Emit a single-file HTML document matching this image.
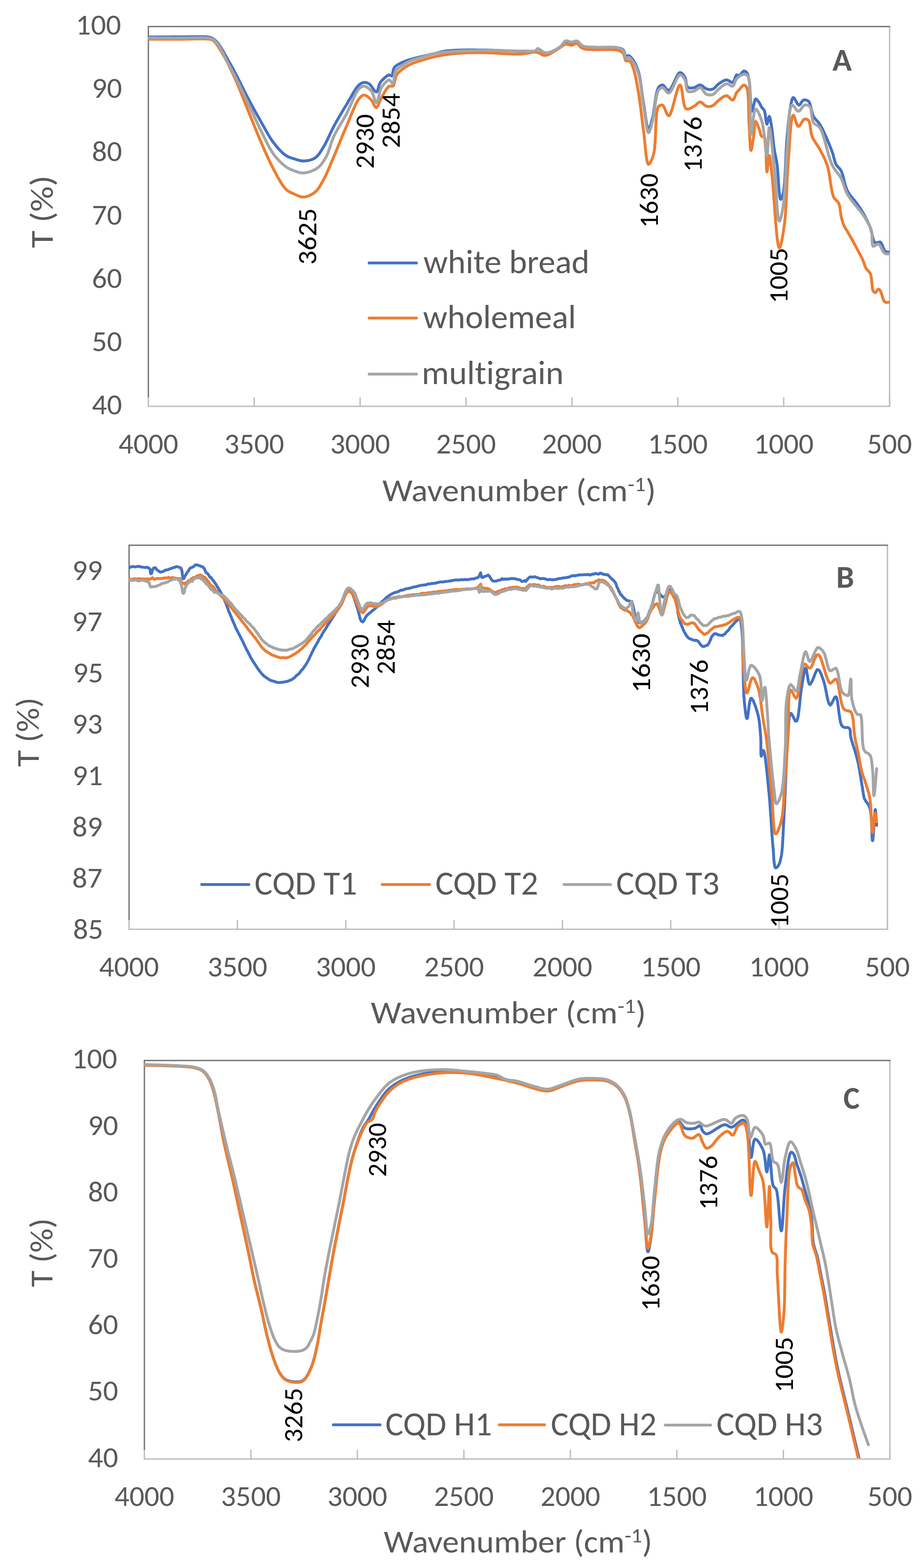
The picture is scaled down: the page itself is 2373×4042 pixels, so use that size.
<!DOCTYPE html>
<html><head><meta charset="utf-8"><title>FTIR spectra</title>
<style>html,body{margin:0;padding:0;background:#fff;}svg{display:block;}text{font-size-adjust:0.4775;font-variant-ligatures:none;font-feature-settings:'liga' 0,'clig' 0;}</style>
</head><body>
<svg width="2373" height="4042" viewBox="0 0 2373 4042" font-family="Carlito, 'Liberation Sans', sans-serif">
<rect x="0" y="0" width="2373" height="4042" fill="#fff"/>
<defs>
<clipPath id="clipA"><rect x="381.8" y="64.5" width="1910.7" height="981.0"/></clipPath>
<clipPath id="clipB"><rect x="332.1" y="1401.4" width="1954.9" height="992.0999999999999"/></clipPath>
<clipPath id="clipC"><rect x="371.5" y="2729.8" width="1921.8000000000002" height="1029.1999999999998"/></clipPath>
</defs>
<line x1="2292" y1="68.5" x2="2292" y2="1047.5" stroke="#BDBDBD" stroke-width="3.5"/>
<line x1="382.3" y1="68.5" x2="382.3" y2="1024.0" stroke="#767676" stroke-width="3.5"/>
<line x1="380.55" y1="68.5" x2="2293.75" y2="68.5" stroke="#767676" stroke-width="3.5"/>
<line x1="380.55" y1="1047.5" x2="2293.75" y2="1047.5" stroke="#BDBDBD" stroke-width="3.5"/>
<line x1="382.3" y1="1024.0" x2="382.3" y2="1047.5" stroke="#BDBDBD" stroke-width="3.5"/>
<line x1="655.1" y1="1024.0" x2="655.1" y2="1047.5" stroke="#BDBDBD" stroke-width="3.5"/>
<line x1="927.9" y1="1024.0" x2="927.9" y2="1047.5" stroke="#BDBDBD" stroke-width="3.5"/>
<line x1="1200.7" y1="1024.0" x2="1200.7" y2="1047.5" stroke="#BDBDBD" stroke-width="3.5"/>
<line x1="1473.6" y1="1024.0" x2="1473.6" y2="1047.5" stroke="#BDBDBD" stroke-width="3.5"/>
<line x1="1746.4" y1="1024.0" x2="1746.4" y2="1047.5" stroke="#BDBDBD" stroke-width="3.5"/>
<line x1="2019.2" y1="1024.0" x2="2019.2" y2="1047.5" stroke="#BDBDBD" stroke-width="3.5"/>
<line x1="2292" y1="1024.0" x2="2292" y2="1047.5" stroke="#BDBDBD" stroke-width="3.5"/>
<text x="314.5" y="1068" font-size="74.5" fill="#595959" text-anchor="end" textLength="77.8" lengthAdjust="spacingAndGlyphs">40</text>
<text x="314.5" y="904.8" font-size="74.5" fill="#595959" text-anchor="end" textLength="77.8" lengthAdjust="spacingAndGlyphs">50</text>
<text x="314.5" y="741.7" font-size="74.5" fill="#595959" text-anchor="end" textLength="77.8" lengthAdjust="spacingAndGlyphs">60</text>
<text x="314.5" y="578.5" font-size="74.5" fill="#595959" text-anchor="end" textLength="77.8" lengthAdjust="spacingAndGlyphs">70</text>
<text x="314.5" y="415.3" font-size="74.5" fill="#595959" text-anchor="end" textLength="77.8" lengthAdjust="spacingAndGlyphs">80</text>
<text x="314.5" y="252.2" font-size="74.5" fill="#595959" text-anchor="end" textLength="77.8" lengthAdjust="spacingAndGlyphs">90</text>
<text x="312" y="89" font-size="74.5" fill="#595959" text-anchor="end" textLength="116.7" lengthAdjust="spacingAndGlyphs">100</text>
<text x="382.3" y="1168.5" font-size="74.5" fill="#595959" text-anchor="middle" textLength="154.1" lengthAdjust="spacingAndGlyphs">4000</text>
<text x="655.1" y="1168.5" font-size="74.5" fill="#595959" text-anchor="middle" textLength="154.1" lengthAdjust="spacingAndGlyphs">3500</text>
<text x="927.9" y="1168.5" font-size="74.5" fill="#595959" text-anchor="middle" textLength="154.1" lengthAdjust="spacingAndGlyphs">3000</text>
<text x="1200.7" y="1168.5" font-size="74.5" fill="#595959" text-anchor="middle" textLength="154.1" lengthAdjust="spacingAndGlyphs">2500</text>
<text x="1473.6" y="1168.5" font-size="74.5" fill="#595959" text-anchor="middle" textLength="154.1" lengthAdjust="spacingAndGlyphs">2000</text>
<text x="1746.4" y="1168.5" font-size="74.5" fill="#595959" text-anchor="middle" textLength="154.1" lengthAdjust="spacingAndGlyphs">1500</text>
<text x="2019.2" y="1168.5" font-size="74.5" fill="#595959" text-anchor="middle" textLength="154.1" lengthAdjust="spacingAndGlyphs">1000</text>
<text x="2292" y="1168.5" font-size="74.5" fill="#595959" text-anchor="middle" textLength="115.5" lengthAdjust="spacingAndGlyphs">500</text>
<line x1="2286.5" y1="1405.4" x2="2286.5" y2="2395.5" stroke="#BDBDBD" stroke-width="3.5"/>
<line x1="332.6" y1="1405.4" x2="332.6" y2="2372.0" stroke="#767676" stroke-width="3.5"/>
<line x1="330.85" y1="1405.4" x2="2288.25" y2="1405.4" stroke="#767676" stroke-width="3.5"/>
<line x1="330.85" y1="2395.5" x2="2288.25" y2="2395.5" stroke="#BDBDBD" stroke-width="3.5"/>
<line x1="332.6" y1="2372.0" x2="332.6" y2="2395.5" stroke="#BDBDBD" stroke-width="3.5"/>
<line x1="611.7" y1="2372.0" x2="611.7" y2="2395.5" stroke="#BDBDBD" stroke-width="3.5"/>
<line x1="890.9" y1="2372.0" x2="890.9" y2="2395.5" stroke="#BDBDBD" stroke-width="3.5"/>
<line x1="1170" y1="2372.0" x2="1170" y2="2395.5" stroke="#BDBDBD" stroke-width="3.5"/>
<line x1="1449.1" y1="2372.0" x2="1449.1" y2="2395.5" stroke="#BDBDBD" stroke-width="3.5"/>
<line x1="1728.2" y1="2372.0" x2="1728.2" y2="2395.5" stroke="#BDBDBD" stroke-width="3.5"/>
<line x1="2007.4" y1="2372.0" x2="2007.4" y2="2395.5" stroke="#BDBDBD" stroke-width="3.5"/>
<line x1="2286.5" y1="2372.0" x2="2286.5" y2="2395.5" stroke="#BDBDBD" stroke-width="3.5"/>
<text x="266" y="2419.5" font-size="74.5" fill="#595959" text-anchor="end" textLength="77.8" lengthAdjust="spacingAndGlyphs">85</text>
<text x="263.9" y="2287.5" font-size="74.5" fill="#595959" text-anchor="end" textLength="77.8" lengthAdjust="spacingAndGlyphs">87</text>
<text x="264.1" y="2155.5" font-size="74.5" fill="#595959" text-anchor="end" textLength="77.8" lengthAdjust="spacingAndGlyphs">89</text>
<text x="264.9" y="2023.5" font-size="74.5" fill="#595959" text-anchor="end" textLength="77.8" lengthAdjust="spacingAndGlyphs">91</text>
<text x="264.4" y="1891.4" font-size="74.5" fill="#595959" text-anchor="end" textLength="77.8" lengthAdjust="spacingAndGlyphs">93</text>
<text x="266" y="1759.4" font-size="74.5" fill="#595959" text-anchor="end" textLength="77.8" lengthAdjust="spacingAndGlyphs">95</text>
<text x="263.9" y="1627.4" font-size="74.5" fill="#595959" text-anchor="end" textLength="77.8" lengthAdjust="spacingAndGlyphs">97</text>
<text x="264.1" y="1495.4" font-size="74.5" fill="#595959" text-anchor="end" textLength="77.8" lengthAdjust="spacingAndGlyphs">99</text>
<text x="332.6" y="2516.5" font-size="74.5" fill="#595959" text-anchor="middle" textLength="154.1" lengthAdjust="spacingAndGlyphs">4000</text>
<text x="611.7" y="2516.5" font-size="74.5" fill="#595959" text-anchor="middle" textLength="154.1" lengthAdjust="spacingAndGlyphs">3500</text>
<text x="890.9" y="2516.5" font-size="74.5" fill="#595959" text-anchor="middle" textLength="154.1" lengthAdjust="spacingAndGlyphs">3000</text>
<text x="1170" y="2516.5" font-size="74.5" fill="#595959" text-anchor="middle" textLength="154.1" lengthAdjust="spacingAndGlyphs">2500</text>
<text x="1449.1" y="2516.5" font-size="74.5" fill="#595959" text-anchor="middle" textLength="154.1" lengthAdjust="spacingAndGlyphs">2000</text>
<text x="1728.2" y="2516.5" font-size="74.5" fill="#595959" text-anchor="middle" textLength="154.1" lengthAdjust="spacingAndGlyphs">1500</text>
<text x="2007.4" y="2516.5" font-size="74.5" fill="#595959" text-anchor="middle" textLength="154.1" lengthAdjust="spacingAndGlyphs">1000</text>
<text x="2286.5" y="2516.5" font-size="74.5" fill="#595959" text-anchor="middle" textLength="115.5" lengthAdjust="spacingAndGlyphs">500</text>
<line x1="2292.8" y1="2733.8" x2="2292.8" y2="3761.0" stroke="#BDBDBD" stroke-width="3.5"/>
<line x1="372.0" y1="2733.8" x2="372.0" y2="3737.5" stroke="#767676" stroke-width="3.5"/>
<line x1="370.25" y1="2733.8" x2="2294.55" y2="2733.8" stroke="#767676" stroke-width="3.5"/>
<line x1="370.25" y1="3761.0" x2="2294.55" y2="3761.0" stroke="#BDBDBD" stroke-width="3.5"/>
<line x1="372" y1="3737.5" x2="372" y2="3761.0" stroke="#BDBDBD" stroke-width="3.5"/>
<line x1="646.4" y1="3737.5" x2="646.4" y2="3761.0" stroke="#BDBDBD" stroke-width="3.5"/>
<line x1="920.8" y1="3737.5" x2="920.8" y2="3761.0" stroke="#BDBDBD" stroke-width="3.5"/>
<line x1="1195.2" y1="3737.5" x2="1195.2" y2="3761.0" stroke="#BDBDBD" stroke-width="3.5"/>
<line x1="1469.6" y1="3737.5" x2="1469.6" y2="3761.0" stroke="#BDBDBD" stroke-width="3.5"/>
<line x1="1744" y1="3737.5" x2="1744" y2="3761.0" stroke="#BDBDBD" stroke-width="3.5"/>
<line x1="2018.4" y1="3737.5" x2="2018.4" y2="3761.0" stroke="#BDBDBD" stroke-width="3.5"/>
<line x1="2292.8" y1="3737.5" x2="2292.8" y2="3761.0" stroke="#BDBDBD" stroke-width="3.5"/>
<text x="304.5" y="3781.5" font-size="74.5" fill="#595959" text-anchor="end" textLength="77.8" lengthAdjust="spacingAndGlyphs">40</text>
<text x="304.5" y="3610.3" font-size="74.5" fill="#595959" text-anchor="end" textLength="77.8" lengthAdjust="spacingAndGlyphs">50</text>
<text x="304.5" y="3439.1" font-size="74.5" fill="#595959" text-anchor="end" textLength="77.8" lengthAdjust="spacingAndGlyphs">60</text>
<text x="304.5" y="3267.9" font-size="74.5" fill="#595959" text-anchor="end" textLength="77.8" lengthAdjust="spacingAndGlyphs">70</text>
<text x="304.5" y="3096.7" font-size="74.5" fill="#595959" text-anchor="end" textLength="77.8" lengthAdjust="spacingAndGlyphs">80</text>
<text x="304.5" y="2925.5" font-size="74.5" fill="#595959" text-anchor="end" textLength="77.8" lengthAdjust="spacingAndGlyphs">90</text>
<text x="302" y="2754.3" font-size="74.5" fill="#595959" text-anchor="end" textLength="116.7" lengthAdjust="spacingAndGlyphs">100</text>
<text x="372" y="3882" font-size="74.5" fill="#595959" text-anchor="middle" textLength="154.1" lengthAdjust="spacingAndGlyphs">4000</text>
<text x="646.4" y="3882" font-size="74.5" fill="#595959" text-anchor="middle" textLength="154.1" lengthAdjust="spacingAndGlyphs">3500</text>
<text x="920.8" y="3882" font-size="74.5" fill="#595959" text-anchor="middle" textLength="154.1" lengthAdjust="spacingAndGlyphs">3000</text>
<text x="1195.2" y="3882" font-size="74.5" fill="#595959" text-anchor="middle" textLength="154.1" lengthAdjust="spacingAndGlyphs">2500</text>
<text x="1469.6" y="3882" font-size="74.5" fill="#595959" text-anchor="middle" textLength="154.1" lengthAdjust="spacingAndGlyphs">2000</text>
<text x="1744" y="3882" font-size="74.5" fill="#595959" text-anchor="middle" textLength="154.1" lengthAdjust="spacingAndGlyphs">1500</text>
<text x="2018.4" y="3882" font-size="74.5" fill="#595959" text-anchor="middle" textLength="154.1" lengthAdjust="spacingAndGlyphs">1000</text>
<text x="2292.8" y="3882" font-size="74.5" fill="#595959" text-anchor="middle" textLength="115.5" lengthAdjust="spacingAndGlyphs">500</text>
<path d="M382 95.5 L382.4 95.5 L383.4 95.5 L385.2 95.5 L387.5 95.4 L390.3 95.4 L393.6 95.4 L397.4 95.4 L401.5 95.3 L406 95.3 L410.7 95.2 L415.7 95.2 L420.8 95.2 L426 95.1 L431.4 95.1 L436.7 95.1 L442 95 L447.2 95 L452.2 95 L457.1 95 L461.7 95 L466 95 L470 95 L474.4 95 L479 95 L483.7 94.9 L488.4 94.8 L493.2 94.8 L498 94.7 L502.7 94.6 L507.4 94.6 L511.9 94.5 L516.3 94.5 L520.6 94.6 L524.6 94.6 L528.3 94.8 L531.8 95 L534.9 95.2 L537.6 95.6 L540 96 L545.1 97.6 L549 100 L552.1 102.2 L555.4 104.9 L558.6 108.2 L562 112 L564 114.6 L566 117.5 L568.1 120.6 L570.2 124 L572.3 127.6 L574.5 131.3 L576.6 135.1 L578.7 138.9 L580.9 142.7 L582.9 146.4 L585 150 L587 153.5 L589 157 L591 160.5 L592.9 164 L594.9 167.5 L596.8 171.1 L598.8 174.6 L600.8 178.3 L602.8 182.1 L604.9 186 L607 190 L608.7 193.2 L610.4 196.5 L612.2 199.9 L613.9 203.4 L615.7 207 L617.5 210.6 L619.4 214.3 L621.2 218 L623.1 221.8 L625 225.5 L626.9 229.3 L628.7 233.1 L630.6 236.8 L632.5 240.5 L634.4 244.2 L636.3 247.9 L638.1 251.5 L640 255 L642 258.7 L644 262.4 L645.9 266.1 L647.9 269.8 L649.9 273.5 L651.9 277.1 L653.9 280.8 L655.9 284.4 L657.9 288 L659.9 291.6 L661.9 295.2 L663.9 298.7 L665.9 302.3 L667.9 305.9 L670 309.4 L672 313 L674 316.5 L676 320.1 L678 323.7 L680 327.3 L682 330.9 L684 334.5 L686.1 338.1 L688.1 341.7 L690.1 345.2 L692.2 348.7 L694.3 352.2 L696.3 355.5 L698.5 358.8 L700.6 362 L702.8 365 L705 368 L707.8 371.6 L710.6 375.1 L713.5 378.5 L716.4 381.9 L719.3 385.2 L722.3 388.3 L725.3 391.3 L728.2 394.1 L731.2 396.6 L734.1 398.9 L737 401 L740.9 403.3 L744.7 405.1 L748.5 406.5 L752.3 407.8 L756.2 408.9 L760 410 L764.3 411.4 L768.6 412.8 L773 414 L777.4 414.8 L782 415 L786.1 414.8 L790.5 414.3 L795 413.6 L799.6 412.5 L804 411 L808.2 409.2 L812 407 L814.9 404.8 L817.6 402.2 L820.2 399.3 L822.6 396.2 L824.9 392.8 L827.2 389.2 L829.4 385.6 L831.7 381.8 L834 378 L835.9 374.8 L837.8 371.5 L839.6 368 L841.4 364.4 L843.3 360.7 L845 356.9 L846.8 353.1 L848.6 349.2 L850.5 345.3 L852.3 341.4 L854.2 337.5 L856.1 333.6 L858 329.8 L860 326 L862 322.3 L864 318.7 L866.1 315 L868.1 311.3 L870.2 307.6 L872.4 303.9 L874.5 300.2 L876.7 296.6 L878.9 292.9 L881 289.2 L883.2 285.5 L885.4 281.9 L887.6 278.2 L889.8 274.6 L892 271 L894.2 267.4 L896.4 263.6 L898.6 259.6 L900.9 255.6 L903.2 251.6 L905.5 247.6 L907.8 243.6 L910.1 239.7 L912.3 236 L914.6 232.4 L916.8 229.1 L918.9 226 L921 223.3 L923 221 L925 219 L929.5 215.5 L933.7 213.4 L938 212.5 L942.3 212.6 L946.6 213.8 L951 216 L953.8 218.4 L956.7 222 L959.6 226.2 L962.5 230.3 L965.2 233.9 L967.7 236.3 L970 237 L972 235.4 L973.5 231.9 L974.8 227.1 L976.1 221.9 L977.8 216.7 L980 212.5 L982.7 209 L986.1 205.4 L989.7 201.8 L993.5 198.5 L997.1 195.8 L1000.3 193.9 L1003 193 L1006.3 194.7 L1009 196 L1010.6 193.7 L1011.7 189.2 L1012.7 183.7 L1014.1 178.3 L1016 174 L1018.9 170.9 L1022.2 168.4 L1026 166.2 L1030 164 L1033.5 162.2 L1037.3 160.5 L1041.2 158.8 L1045.4 157.2 L1050 155.6 L1055 154 L1058.2 153 L1061.8 152 L1065.6 150.9 L1069.6 149.9 L1073.8 148.8 L1078.1 147.7 L1082.5 146.6 L1087 145.6 L1091.4 144.5 L1095.9 143.5 L1100.3 142.5 L1104.6 141.5 L1108.8 140.6 L1112.7 139.7 L1116.5 138.8 L1120 138 L1124.4 136.9 L1128.4 135.9 L1132 134.9 L1135.6 134 L1139.2 133.2 L1143 132.4 L1147.2 131.6 L1152 131 L1155.1 130.7 L1158.3 130.4 L1161.7 130.1 L1165.3 129.9 L1169 129.7 L1172.8 129.5 L1176.8 129.3 L1180.8 129.2 L1185 129.1 L1189.2 129 L1193.5 128.9 L1197.9 128.9 L1202.3 128.8 L1206.7 128.8 L1211.2 128.8 L1215.6 128.8 L1220.1 128.8 L1224.5 128.8 L1228.9 128.9 L1233.3 128.9 L1237.6 128.9 L1241.8 128.9 L1246 129 L1250 129 L1254.2 129 L1258.5 129.1 L1262.8 129.2 L1267.1 129.3 L1271.4 129.5 L1275.8 129.6 L1280.2 129.8 L1284.5 130 L1288.9 130.2 L1293.2 130.3 L1297.5 130.5 L1301.7 130.7 L1305.9 130.9 L1310.1 131.1 L1314.2 131.3 L1318.2 131.4 L1322.1 131.6 L1325.9 131.7 L1329.6 131.8 L1333.2 131.9 L1336.7 132 L1340 132 L1344.8 132.1 L1349.7 132.2 L1354.4 132.4 L1359.1 132.5 L1363.5 132.6 L1367.6 132.6 L1371.4 132.5 L1374.8 132.2 L1377.7 131.7 L1380 131 L1382.7 128.2 L1385 126 L1388.1 126.8 L1391.9 129.4 L1396.1 132.6 L1400.6 135.5 L1405 137 L1409.5 137 L1414.2 136.2 L1418.9 134.8 L1423.6 132.9 L1428 131 L1432.1 128.9 L1436.2 126.4 L1440.1 123.6 L1443.7 120.8 L1447 118 L1450.5 113.7 L1453.4 109.2 L1457 106.4 L1460.6 106.3 L1464.7 107.5 L1469 109 L1473 109.7 L1477.4 108.6 L1481.7 106.8 L1486 106.4 L1489.1 107.9 L1492 110.7 L1495 114 L1498.2 117.1 L1502 119.4 L1505.4 120.5 L1509 121.3 L1512.9 121.8 L1517 122.1 L1521.3 122.3 L1525.8 122.4 L1530.3 122.5 L1535 122.7 L1538.7 122.8 L1542.8 122.9 L1547.1 122.8 L1551.6 122.8 L1556.2 122.6 L1560.9 122.5 L1565.6 122.4 L1570.3 122.2 L1574.7 122.2 L1579 122.2 L1583.1 122.3 L1586.8 122.5 L1590.1 122.8 L1593 123.3 L1598.3 124.6 L1602.5 126.3 L1606 129 L1608.2 133.1 L1609.8 138.5 L1611.2 143.4 L1613 146 L1615.8 144.6 L1619 143 L1622 144.5 L1625.4 147.6 L1628.8 151.7 L1632 156 L1634.1 159.3 L1636.2 162.8 L1638.1 166.6 L1639.9 170.7 L1641.7 175.1 L1643.4 179.9 L1645 185 L1645.9 188.1 L1646.7 191.4 L1647.5 194.8 L1648.2 198.5 L1648.9 202.2 L1649.6 206.2 L1650.2 210.2 L1650.8 214.3 L1651.4 218.6 L1652 222.8 L1652.6 227.1 L1653.2 231.5 L1653.7 235.8 L1654.3 240.2 L1654.9 244.5 L1655.5 248.8 L1656.1 253 L1656.7 257.1 L1657.3 261.1 L1658 265 L1658.7 269.4 L1659.5 274.1 L1660.2 279.1 L1660.9 284.2 L1661.7 289.5 L1662.4 294.8 L1663.1 300.1 L1663.9 305.2 L1664.6 310.2 L1665.4 314.8 L1666.2 319.1 L1666.9 323 L1667.7 326.3 L1668.5 329.1 L1669.3 331.2 L1670.2 332.5 L1671 333 L1672.4 332.1 L1673.8 329.6 L1675.2 325.8 L1676.7 321.1 L1678.1 315.8 L1679.6 310.3 L1681 305 L1681.8 301.8 L1682.6 298.3 L1683.3 294.4 L1684 290.2 L1684.7 285.8 L1685.4 281.1 L1686 276.4 L1686.7 271.6 L1687.4 266.7 L1688.1 261.8 L1688.8 257 L1689.5 252.3 L1690.3 247.8 L1691.1 243.5 L1692 239.4 L1692.8 235.7 L1693.8 232.4 L1694.8 229.4 L1695.9 226.9 L1697 225 L1701.8 220.3 L1707 219 L1710 220.7 L1713.1 224.4 L1716.3 228.6 L1719.6 231.9 L1723 233 L1725.1 232 L1727.3 229.7 L1729.6 226.4 L1731.9 222.2 L1734.2 217.5 L1736.6 212.4 L1738.9 207.3 L1741.3 202.2 L1743.6 197.5 L1745.8 193.4 L1748 190.2 L1750 187.9 L1752 187 L1755.6 188 L1759.1 191.2 L1762.3 195.5 L1765 200 L1766.5 203.9 L1767.5 208.5 L1768.1 213.5 L1768.9 218.3 L1770.1 222.3 L1772 225 L1775.4 226.6 L1779.5 227 L1783.8 226.7 L1788 226 L1792.1 224.4 L1796.1 222 L1800.1 219.8 L1804 219 L1808 220.5 L1812 223.5 L1815.9 226.7 L1820 229 L1824 230.1 L1828 230.8 L1832.1 230.8 L1836 230 L1839.3 228.2 L1842.4 225.4 L1845.5 222.1 L1848.6 218.8 L1852 216 L1855.8 213.4 L1859.8 210.8 L1864 208.5 L1868.1 206.7 L1872 206 L1876.3 207.1 L1880.5 209.8 L1884.5 212.1 L1888 212.5 L1890.5 209.9 L1892.5 205.3 L1894.3 200 L1896 195.4 L1898 193 L1900.9 193.9 L1904 195 L1907.1 192.8 L1910.5 188.9 L1913.9 184.9 L1917 183 L1920.7 184 L1924 187 L1926 190.3 L1927.5 194.7 L1928.8 199.9 L1930 206 L1930.5 209 L1931 212.5 L1931.4 216.6 L1931.8 221.1 L1932.1 226 L1932.4 231.1 L1932.7 236.5 L1933 242 L1933.3 247.5 L1933.6 252.9 L1933.9 258.3 L1934.1 263.4 L1934.4 268.2 L1934.7 272.7 L1935 276.7 L1935.4 280.1 L1935.7 283 L1936.1 285.1 L1936.5 286.5 L1937 287 L1938.2 285.3 L1939.4 281.1 L1940.7 275.8 L1942 271 L1943.1 266.3 L1944.2 261.2 L1945.4 257 L1947 255 L1949.8 256.4 L1953 260.3 L1956 264.5 L1958.5 268.8 L1960.7 273.4 L1963 277.5 L1966.1 280.5 L1969 284 L1970.1 287.1 L1971 291.3 L1971.8 296.4 L1972.5 301.8 L1973.2 307.2 L1973.8 312.1 L1974.5 316.2 L1975.2 319 L1976 320 L1977.2 318 L1978.4 313 L1979.6 307 L1980.9 302.1 L1982 300 L1983.1 301.3 L1984.1 304.6 L1985.1 309.2 L1986 314.6 L1987 320 L1987.5 323.1 L1988 326.4 L1988.6 330.1 L1989.1 334 L1989.5 338.1 L1990 342.4 L1990.5 346.8 L1991 351.2 L1991.5 355.8 L1992 360.3 L1992.4 364.7 L1992.9 369.1 L1993.4 373.4 L1993.9 377.5 L1994.5 381.4 L1995 385 L1995.7 389.6 L1996.5 393.8 L1997.3 397.8 L1998.1 401.7 L1998.9 405.5 L1999.7 409.5 L2000.5 413.6 L2001.2 418.1 L2002 423 L2002.5 426.5 L2002.9 430.5 L2003.3 434.8 L2003.7 439.6 L2004.1 444.6 L2004.5 449.8 L2004.9 455.2 L2005.2 460.7 L2005.6 466.2 L2006 471.7 L2006.4 477.2 L2006.8 482.5 L2007.1 487.6 L2007.5 492.4 L2008 496.9 L2008.4 501 L2008.9 504.6 L2009.3 507.8 L2009.8 510.3 L2010.4 512.3 L2010.9 513.5 L2011.5 514 L2013.1 512.8 L2014.8 509.2 L2016.5 504 L2018 498 L2018.5 495.9 L2018.9 493.5 L2019.3 490.9 L2019.7 488 L2020 485 L2020.4 481.7 L2020.7 478.3 L2021.1 474.7 L2021.4 470.9 L2021.7 467 L2021.9 462.9 L2022.2 458.7 L2022.5 454.4 L2022.7 450 L2023 445.5 L2023.2 440.9 L2023.4 436.3 L2023.6 431.6 L2023.9 426.8 L2024.1 422.1 L2024.3 417.3 L2024.5 412.5 L2024.7 407.7 L2024.9 403 L2025.1 398.2 L2025.4 393.6 L2025.6 388.9 L2025.8 384.4 L2026.1 379.9 L2026.3 375.6 L2026.6 371.3 L2026.8 367.1 L2027.1 363.1 L2027.4 359.3 L2027.7 355.5 L2028 352 L2028.4 347.3 L2028.9 342.7 L2029.3 338 L2029.7 333.4 L2030.1 328.8 L2030.6 324.2 L2031 319.6 L2031.5 315.2 L2031.9 310.8 L2032.4 306.5 L2032.8 302.3 L2033.3 298.2 L2033.8 294.2 L2034.3 290.4 L2034.8 286.7 L2035.3 283.2 L2035.8 279.9 L2036.4 276.7 L2036.9 273.8 L2037.5 271 L2038.6 265.6 L2039.7 260.5 L2040.9 256 L2042.3 252.9 L2044 251.5 L2046 252.7 L2048.3 256.3 L2050.9 261 L2053.5 265.7 L2056.1 269.5 L2058.6 271 L2061.4 269.2 L2064.1 265.1 L2066.9 260.7 L2070 258 L2074.3 257.5 L2078.9 258.5 L2083 261 L2084.8 263.2 L2086.3 266.3 L2087.6 270 L2088.7 274.2 L2089.8 278.8 L2090.8 283.4 L2091.9 288.1 L2093.1 292.5 L2094.4 296.5 L2096 300 L2098.4 303.8 L2101 307.1 L2103.8 310.2 L2106.6 313.2 L2109.4 316.4 L2112 320 L2114.2 323.5 L2116.2 327.2 L2118.3 331.1 L2120.2 335.1 L2122.2 339.2 L2124.1 343.4 L2126.1 347.7 L2128 352 L2129.6 355.6 L2131.2 359.3 L2132.9 363.2 L2134.5 367.1 L2136.2 371 L2137.8 375 L2139.4 379 L2140.9 382.9 L2142.3 386.7 L2143.7 390.4 L2145 394 L2146.5 398.5 L2147.7 403.1 L2148.8 407.5 L2149.9 411.8 L2151 416 L2152.4 419.9 L2154 423.5 L2156.3 427.1 L2158.9 430 L2161.7 432.9 L2164.5 436 L2167 440 L2168.4 443 L2169.7 446.4 L2170.9 450.1 L2172 454.1 L2173.1 458.3 L2174.2 462.7 L2175.3 467.1 L2176.4 471.6 L2177.6 476 L2178.9 480.3 L2180.3 484.4 L2181.8 488.4 L2183.5 492 L2185.7 496 L2188.1 499.8 L2190.7 503.4 L2193.5 507 L2196.3 510.5 L2199.1 513.8 L2201.9 517.2 L2204.6 520.5 L2207.1 523.7 L2209.5 527 L2212.1 530.8 L2214.6 534.5 L2217 538.1 L2219.3 541.7 L2221.6 545.4 L2223.8 549.1 L2226 553 L2227.9 556.4 L2229.8 559.9 L2231.6 563.5 L2233.5 567.1 L2235.3 570.8 L2237 574.5 L2238.7 578.3 L2240.4 582.1 L2242 586 L2243.4 590.1 L2244.7 594.6 L2245.8 599.4 L2246.9 604.3 L2247.9 609.2 L2249.1 613.8 L2250.3 618 L2251.6 621.5 L2253.2 624.2 L2255 626 L2259.1 626.1 L2263.8 624.2 L2268 624 L2270.5 626.5 L2272.6 630.6 L2274.6 635.6 L2276.5 640.7 L2278.6 645.1 L2281 648 L2287.7 649.9 L2292 650" fill="none" stroke="#4472C4" stroke-width="7.4" stroke-linejoin="round" stroke-linecap="round" clip-path="url(#clipA)"/>
<path d="M382 101 L382.4 101 L383.4 101 L385.2 101 L387.5 101 L390.3 101 L393.6 101 L397.4 101 L401.5 101 L406 101 L410.7 101 L415.7 101 L420.8 101 L426 101 L431.4 101 L436.7 101 L442 101 L447.2 101 L452.2 101 L457.1 101 L461.7 101 L466 101 L470 101 L474.4 101 L479 100.9 L483.7 100.8 L488.4 100.7 L493.2 100.6 L498 100.5 L502.7 100.4 L507.4 100.3 L511.9 100.2 L516.3 100.2 L520.5 100.1 L524.5 100.1 L528.3 100.2 L531.7 100.3 L534.9 100.5 L537.6 100.7 L540 101 L544.9 101.9 L549 104 L551 105.7 L553.2 108 L555.5 110.7 L557.8 113.8 L560.3 117.3 L562.7 121 L565.2 124.9 L567.7 128.9 L570.2 132.9 L572.6 137 L575 141 L576.8 144.1 L578.6 147.3 L580.4 150.6 L582.2 153.9 L584 157.4 L585.8 160.9 L587.6 164.4 L589.4 168 L591.2 171.7 L593 175.4 L594.7 179.2 L596.5 183 L598.3 186.8 L600 190.6 L601.8 194.5 L603.5 198.3 L605.3 202.2 L607 206 L608.6 209.6 L610.2 213.3 L611.8 217.1 L613.4 220.8 L615 224.6 L616.6 228.5 L618.2 232.3 L619.8 236.2 L621.3 240.1 L622.9 244 L624.4 247.9 L626 251.9 L627.6 255.8 L629.1 259.7 L630.7 263.7 L632.2 267.6 L633.8 271.5 L635.3 275.4 L636.9 279.3 L638.4 283.2 L640 287 L641.5 290.8 L643.1 294.5 L644.6 298.3 L646.1 302 L647.6 305.8 L649.1 309.5 L650.6 313.3 L652.1 317 L653.6 320.7 L655.1 324.5 L656.6 328.2 L658.2 331.9 L659.7 335.7 L661.2 339.4 L662.7 343.1 L664.2 346.7 L665.8 350.4 L667.3 354.1 L668.9 357.7 L670.4 361.4 L672 365 L673.7 368.9 L675.4 372.8 L677.1 376.6 L678.7 380.5 L680.4 384.4 L682.1 388.3 L683.8 392.2 L685.6 396.1 L687.3 399.9 L689 403.8 L690.7 407.6 L692.5 411.3 L694.2 415.1 L696 418.8 L697.8 422.4 L699.6 426 L701.4 429.6 L703.2 433.1 L705 436.5 L707 440.3 L709.1 444.2 L711.2 448.1 L713.2 452 L715.3 455.9 L717.4 459.7 L719.5 463.5 L721.7 467.1 L723.8 470.7 L726 474.1 L728.1 477.3 L730.3 480.3 L732.5 483.1 L734.8 485.7 L737 488 L740.7 491.2 L744.5 493.8 L748.4 495.9 L752.2 497.7 L756.1 499.4 L760 501 L764.4 503 L768.8 505 L773.3 506.6 L777.8 507.8 L782.5 508 L786.1 507.6 L789.8 506.7 L793.7 505.5 L797.6 503.9 L801.5 502 L805.2 499.9 L808.7 497.5 L812 495 L814.9 492.3 L817.7 489.3 L820.2 486 L822.6 482.5 L824.9 478.8 L827.2 474.9 L829.4 470.9 L831.7 466.7 L834 462.5 L835.7 459.4 L837.3 456.2 L839 452.8 L840.6 449.4 L842.2 445.9 L843.8 442.3 L845.4 438.7 L847 435 L848.6 431.2 L850.2 427.4 L851.8 423.6 L853.4 419.7 L855 415.8 L856.7 411.9 L858.3 407.9 L860 404 L861.5 400.5 L863 397 L864.5 393.4 L866 389.8 L867.5 386.1 L869 382.4 L870.6 378.7 L872.1 374.9 L873.7 371.2 L875.2 367.4 L876.8 363.6 L878.3 359.8 L879.9 355.9 L881.5 352.1 L883 348.3 L884.6 344.5 L886.2 340.8 L887.8 337 L889.3 333.3 L890.9 329.6 L892.5 326 L894.2 322.1 L895.9 318 L897.6 313.8 L899.4 309.5 L901.1 305.2 L902.9 300.9 L904.6 296.5 L906.4 292.2 L908.1 287.9 L909.9 283.7 L911.6 279.7 L913.4 275.8 L915.1 272 L916.8 268.5 L918.5 265.1 L920.2 262.1 L921.8 259.3 L923.4 256.8 L925 254.7 L928.3 250.8 L931.4 247.8 L934.6 245.8 L938 245 L941.7 245.8 L945.7 248 L949.7 251 L953.6 254.6 L957 258 L959.8 262.1 L962.3 267.2 L964.5 272.2 L966.7 276 L969 277.5 L970.9 276.5 L972.9 273.8 L974.8 270 L976.7 265.4 L978.7 260.5 L980.8 255.7 L983 251.5 L985.3 247.6 L987.7 243.3 L990.2 238.8 L992.8 234.4 L995.4 230.3 L998 226.7 L1000.6 223.8 L1003 222 L1008 222.1 L1012.5 222 L1014.3 219.7 L1015.7 216 L1016.8 211.5 L1017.9 206.4 L1019 201.4 L1020.3 196.7 L1022 193 L1024.8 189.1 L1027.9 185.9 L1031.3 183 L1035 180 L1038.5 177.2 L1042.2 174.6 L1046.1 172 L1050.4 169.4 L1055 167 L1058.4 165.4 L1062 163.9 L1065.8 162.4 L1069.9 160.9 L1074 159.5 L1078.2 158.1 L1082.4 156.8 L1086.7 155.5 L1090.9 154.2 L1095 153 L1099 151.8 L1103 150.7 L1107 149.6 L1111 148.5 L1115 147.5 L1119.1 146.5 L1123.2 145.6 L1127.4 144.7 L1131.6 143.8 L1136 143 L1139.9 142.3 L1143.8 141.7 L1147.9 141.1 L1151.9 140.6 L1156.1 140.1 L1160.2 139.6 L1164.4 139.1 L1168.6 138.7 L1172.9 138.3 L1177.2 137.9 L1181.4 137.6 L1185.7 137.3 L1190 137 L1193.9 136.8 L1197.7 136.6 L1201.6 136.4 L1205.4 136.3 L1209.3 136.1 L1213.2 136 L1217.1 136 L1221 135.9 L1225 135.9 L1229 135.9 L1233 135.9 L1237.2 135.9 L1241.4 135.9 L1245.6 136 L1250 136 L1253.7 136.1 L1257.6 136.2 L1261.6 136.3 L1265.7 136.5 L1269.9 136.7 L1274.2 136.9 L1278.5 137.2 L1282.8 137.4 L1287.2 137.7 L1291.6 138 L1296 138.2 L1300.4 138.5 L1304.7 138.7 L1309 138.9 L1313.3 139.1 L1317.4 139.3 L1321.5 139.5 L1325.5 139.6 L1329.3 139.6 L1333 139.6 L1336.6 139.6 L1340 139.5 L1344.9 139.2 L1349.6 138.6 L1354.2 137.9 L1358.6 137.1 L1362.8 136.3 L1366.9 135.6 L1370.9 134.9 L1374.7 134.5 L1378.4 134.4 L1382 134.6 L1386.2 135.6 L1390 137.3 L1393.6 139.3 L1397.2 141.2 L1400.9 142.5 L1405 142.8 L1408.5 142.2 L1412.3 140.9 L1416.4 139.1 L1420.7 136.9 L1425 134.4 L1429.2 131.7 L1433.4 129 L1437.3 126.3 L1441 123.9 L1444.2 121.7 L1447 120 L1452.2 116.1 L1457 113.6 L1460.7 113.8 L1464.8 115 L1469 116.3 L1473 116.8 L1477.5 115.2 L1481.7 112.8 L1486 112 L1488.9 113.4 L1491.5 116 L1494.3 119.3 L1497.7 122.5 L1502 125 L1504.6 125.8 L1507.7 126.5 L1511.1 127 L1515 127.4 L1519.1 127.7 L1523.5 127.9 L1528.1 128 L1532.9 128.1 L1537.8 128.1 L1542.8 128 L1547.9 128 L1552.9 127.9 L1557.9 127.8 L1562.8 127.8 L1567.6 127.7 L1572.1 127.8 L1576.5 127.9 L1580.5 128 L1584.2 128.3 L1587.6 128.7 L1590.5 129.2 L1593 129.8 L1598.6 132 L1602.7 134.6 L1606 138 L1607.8 141.5 L1609 146 L1610 150.5 L1611.2 154.5 L1613 157 L1617.4 157 L1622 157 L1624.4 159.2 L1626.4 162.6 L1628.4 166.9 L1630.2 171.8 L1632 177 L1633 180.1 L1634 183.3 L1634.9 186.8 L1635.9 190.5 L1636.8 194.4 L1637.7 198.4 L1638.5 202.5 L1639.4 206.8 L1640.2 211.2 L1641 215.6 L1641.8 220.1 L1642.6 224.7 L1643.4 229.3 L1644.2 233.9 L1645 238.5 L1645.6 242.1 L1646.2 245.8 L1646.8 249.6 L1647.4 253.5 L1647.9 257.4 L1648.5 261.4 L1649 265.4 L1649.6 269.5 L1650.1 273.6 L1650.6 277.8 L1651.2 282 L1651.7 286.2 L1652.2 290.4 L1652.7 294.6 L1653.2 298.8 L1653.7 303.1 L1654.3 307.3 L1654.8 311.5 L1655.3 315.6 L1655.8 319.8 L1656.4 323.9 L1656.9 328 L1657.4 332 L1658 336 L1658.6 340.2 L1659.1 344.8 L1659.6 349.5 L1660.2 354.5 L1660.7 359.6 L1661.2 364.8 L1661.7 370 L1662.2 375.3 L1662.7 380.5 L1663.2 385.6 L1663.7 390.6 L1664.2 395.4 L1664.8 400 L1665.3 404.3 L1665.9 408.3 L1666.5 411.9 L1667.2 415.2 L1667.9 417.9 L1668.6 420.2 L1669.4 421.9 L1670.2 423 L1671 423.5 L1672.7 422.9 L1674.5 420.8 L1676.5 417.4 L1678.5 413.1 L1680.5 408.2 L1682.3 402.9 L1684 397.5 L1684.7 394.8 L1685.3 391.8 L1685.9 388.5 L1686.4 384.9 L1686.8 381 L1687.2 376.9 L1687.5 372.5 L1687.9 368 L1688.1 363.3 L1688.4 358.4 L1688.6 353.5 L1688.9 348.5 L1689.1 343.4 L1689.3 338.3 L1689.5 333.2 L1689.7 328.1 L1689.9 323.1 L1690.1 318.2 L1690.4 313.4 L1690.7 308.7 L1691 304.2 L1691.3 299.8 L1691.7 295.7 L1692.2 291.9 L1692.7 288.3 L1693.2 285 L1693.8 282 L1694.5 279.4 L1695.3 277.2 L1696.1 275.4 L1697 274 L1701.9 270.7 L1707 271 L1709.4 273.3 L1711.7 277.5 L1713.9 283 L1716.1 288.6 L1718.4 293.7 L1720.7 297.3 L1723 298.6 L1724.3 298 L1725.7 296.4 L1727.1 293.9 L1728.5 290.7 L1729.9 286.8 L1731.4 282.4 L1732.8 277.5 L1734.3 272.3 L1735.8 266.8 L1737.2 261.2 L1738.7 255.5 L1740.2 249.9 L1741.6 244.5 L1743 239.3 L1744.4 234.5 L1745.8 230.1 L1747.1 226.4 L1748.4 223.3 L1749.7 220.9 L1750.9 219.5 L1752 219 L1753.3 219.8 L1754.4 221.9 L1755.4 225.1 L1756.3 229.2 L1757.1 234 L1757.9 239.4 L1758.6 245.1 L1759.4 251 L1760.3 256.9 L1761.2 262.5 L1762.2 267.8 L1763.4 272.4 L1764.7 276.2 L1766.3 279 L1768 280.7 L1771.6 281.4 L1775.6 280.5 L1779.9 278.5 L1784.1 276.2 L1788 274 L1792.2 271 L1796.2 267.3 L1800.1 264.1 L1804 262.8 L1808 264.3 L1811.9 267.8 L1815.9 271.6 L1820 274 L1823.9 274.7 L1828 274.6 L1832.1 273.9 L1836 272.6 L1839.4 270.5 L1842.6 267.6 L1845.8 264.3 L1849.1 260.9 L1852.5 258 L1856.3 255.1 L1860.2 252 L1864.2 249.2 L1868.2 247.3 L1872 246.6 L1876.3 248.6 L1880.5 252.8 L1884.5 256.7 L1888 258 L1890.5 256 L1892.5 252 L1894.4 247 L1896.2 242.2 L1898 238.5 L1900.9 235.1 L1904 232 L1907 228.5 L1910.4 224.2 L1913.9 220.6 L1917 219 L1920.8 220.7 L1924 225.5 L1924.7 227.4 L1925.4 229.7 L1926 232.4 L1926.5 235.4 L1926.9 238.8 L1927.3 242.5 L1927.6 246.4 L1927.9 250.6 L1928.1 255 L1928.3 259.5 L1928.5 264.2 L1928.6 269 L1928.7 273.8 L1928.8 278.7 L1928.9 283.6 L1929 288.5 L1929.1 293.4 L1929.2 298.2 L1929.3 302.8 L1929.4 307.3 L1929.6 311.7 L1929.8 315.8 L1930 319.7 L1930.3 324.2 L1930.6 329 L1930.8 334.1 L1931.1 339.3 L1931.3 344.7 L1931.6 350 L1931.8 355.3 L1932.1 360.4 L1932.3 365.3 L1932.6 370 L1932.9 374.2 L1933.2 378 L1933.5 381.3 L1933.8 384 L1934.2 386.1 L1934.6 387.3 L1935 387.8 L1935.6 387 L1936.4 384.7 L1937.1 381.3 L1937.9 376.9 L1938.7 372 L1939.5 366.7 L1940.3 361.5 L1941 356.4 L1941.7 352 L1942.3 347.3 L1942.8 342 L1943.2 336.4 L1943.5 330.7 L1943.9 325.3 L1944.4 320.5 L1945 316.7 L1945.7 314.1 L1946.6 313 L1948.2 314.3 L1950.1 317.8 L1952.2 322.7 L1954.2 328 L1956 332.6 L1957.5 336.9 L1958.7 341.5 L1959.9 346 L1961.3 349.7 L1963 352 L1966 351.9 L1969 352 L1969.9 353.3 L1970.6 355.5 L1971.3 358.5 L1971.8 362.2 L1972.3 366.5 L1972.7 371.3 L1973.1 376.5 L1973.4 382.1 L1973.6 387.9 L1973.8 393.8 L1974 399.8 L1974.1 405.7 L1974.3 411.6 L1974.4 417.2 L1974.5 422.5 L1974.6 427.4 L1974.8 431.7 L1975 435.5 L1975.1 438.7 L1975.4 441 L1975.7 442.5 L1976 443 L1976.6 441.8 L1977.1 438.6 L1977.7 433.9 L1978.3 428.2 L1978.9 421.9 L1979.5 415.7 L1980.1 409.9 L1980.8 405.2 L1981.4 402 L1982 400.8 L1982.5 401.3 L1983.1 402.9 L1983.6 405.4 L1984.2 408.6 L1984.7 412.6 L1985.3 417.1 L1985.8 422 L1986.4 427.3 L1987 432.8 L1987.5 438.4 L1988.2 444 L1988.8 449.5 L1989.1 452.3 L1989.5 455.5 L1989.8 458.8 L1990.1 462.5 L1990.5 466.3 L1990.8 470.3 L1991.2 474.6 L1991.6 479 L1991.9 483.6 L1992.3 488.3 L1992.7 493.2 L1993 498.2 L1993.4 503.3 L1993.8 508.6 L1994.2 513.8 L1994.6 519.2 L1995 524.6 L1995.4 530.1 L1995.8 535.5 L1996.2 541 L1996.6 546.5 L1997 551.9 L1997.4 557.3 L1997.8 562.7 L1998.3 568 L1998.7 573.2 L1999.1 578.3 L1999.5 583.4 L2000 588.3 L2000.4 593 L2000.8 597.6 L2001.3 602.1 L2001.7 606.3 L2002.1 610.4 L2002.6 614.3 L2003 617.9 L2003.5 621.3 L2003.9 624.4 L2004.4 627.3 L2004.8 629.9 L2005.3 632.2 L2005.7 634.2 L2006.2 635.9 L2006.6 637.2 L2007.1 638.2 L2007.5 638.8 L2008 639 L2008.8 638.6 L2009.7 637.3 L2010.6 635.3 L2011.5 632.5 L2012.4 629.1 L2013.3 625.2 L2014.3 620.8 L2015.2 616.1 L2016.1 611 L2017 605.7 L2017.9 600.3 L2018.7 594.9 L2019.5 589.4 L2020.3 584.1 L2021 579 L2021.4 575.9 L2021.8 572.7 L2022.2 569.3 L2022.5 565.9 L2022.9 562.4 L2023.2 558.8 L2023.5 555.1 L2023.8 551.3 L2024.1 547.5 L2024.3 543.5 L2024.6 539.5 L2024.8 535.5 L2025.1 531.4 L2025.3 527.2 L2025.5 523 L2025.7 518.8 L2025.9 514.5 L2026.1 510.2 L2026.3 505.8 L2026.5 501.5 L2026.7 497.1 L2026.9 492.7 L2027.1 488.3 L2027.3 483.9 L2027.5 479.5 L2027.6 475.1 L2027.8 470.7 L2028 466.3 L2028.2 462 L2028.4 457.6 L2028.7 453.4 L2028.9 449.1 L2029.1 444.9 L2029.3 440.7 L2029.6 436.6 L2029.8 432.6 L2030.1 428.6 L2030.4 424.6 L2030.7 420.8 L2031 417 L2031.4 412.6 L2031.7 408 L2032.1 403.2 L2032.4 398.3 L2032.7 393.2 L2033.1 388.1 L2033.4 382.9 L2033.8 377.6 L2034.1 372.3 L2034.4 367 L2034.8 361.7 L2035.1 356.5 L2035.5 351.3 L2035.9 346.2 L2036.2 341.3 L2036.6 336.5 L2037 331.8 L2037.4 327.3 L2037.9 323.1 L2038.3 319 L2038.8 315.3 L2039.3 311.8 L2039.8 308.6 L2040.3 305.8 L2040.8 303.3 L2041.4 301.2 L2042 299.5 L2042.7 298.2 L2043.3 297.4 L2044 297 L2045.6 298.4 L2047.2 302.4 L2049 308 L2050.8 314.1 L2052.8 319.8 L2054.8 324.1 L2057 326 L2059.4 324.9 L2062 321.6 L2064.8 317.1 L2067.6 312.5 L2070.3 308.7 L2073 306.7 L2078.2 306.9 L2083 310 L2084.5 312.3 L2085.6 315.5 L2086.6 319.4 L2087.3 323.8 L2088 328.5 L2088.6 333.5 L2089.3 338.5 L2090.2 343.3 L2091.2 347.9 L2092.6 352 L2094.3 355.9 L2096.3 359.6 L2098.4 363.2 L2100.6 366.7 L2102.9 370.1 L2105.3 373.6 L2107.6 377.1 L2109.9 380.8 L2112 384.6 L2113.9 388.1 L2115.8 391.7 L2117.7 395.2 L2119.5 398.8 L2121.4 402.4 L2123.2 406.2 L2125 410 L2126.8 414 L2128.4 418.1 L2130.1 422.3 L2131.6 426.8 L2132.7 430.3 L2133.6 434.1 L2134.5 438.1 L2135.4 442.3 L2136.2 446.6 L2136.9 451.1 L2137.7 455.7 L2138.3 460.4 L2139 465.1 L2139.7 469.7 L2140.4 474.3 L2141 478.9 L2141.8 483.3 L2142.5 487.6 L2143.3 491.6 L2144.1 495.5 L2144.9 499.1 L2145.9 502.4 L2146.9 505.4 L2148 508 L2150.5 512.1 L2153.3 515.1 L2156.1 517.7 L2158.8 520.5 L2161 524 L2162.3 527.3 L2163.3 531 L2164 535.1 L2164.7 539.3 L2165.2 543.7 L2165.7 548 L2166.3 552.3 L2166.9 556.3 L2167.7 560 L2169 564.9 L2170.3 569.5 L2171.7 573.9 L2173.2 578.2 L2175 582.4 L2176.9 586.2 L2178.9 589.6 L2181.1 593 L2183.5 596.7 L2186 601 L2187.7 604 L2189.6 607.4 L2191.6 611 L2193.8 614.9 L2196 618.9 L2198.2 623 L2200.5 627.1 L2202.7 631.3 L2204.9 635.3 L2207 639.2 L2209 643 L2210.9 646.5 L2212.6 649.7 L2214.8 653.9 L2216.9 657.8 L2218.7 661.5 L2220.5 665 L2222.2 668.5 L2223.8 672 L2225.3 675.9 L2226.6 679.9 L2227.9 683.7 L2229.3 687.5 L2231 691 L2233.7 694.7 L2236.8 697.9 L2239.9 701.4 L2242.5 705.8 L2243.6 709.1 L2244.5 713 L2245.2 717.5 L2245.7 722.3 L2246.2 727.3 L2246.6 732.2 L2247.1 737 L2247.6 741.4 L2248.2 745.3 L2249 748.4 L2250 750.7 L2252.7 753.6 L2255.6 754.4 L2259.3 749.6 L2263 745 L2265.9 746.7 L2268.7 750.7 L2270.2 753.8 L2271.6 758.1 L2273 762.9 L2274.5 767.9 L2276.1 772.6 L2277.9 776.3 L2280 778.7 L2284.6 779.7 L2289.6 779.2 L2292 778.7" fill="none" stroke="#ED7D31" stroke-width="7.4" stroke-linejoin="round" stroke-linecap="round" clip-path="url(#clipA)"/>
<path d="M382 98 L382.4 98 L383.4 98 L385.2 98 L387.5 98 L390.3 98 L393.6 98 L397.4 98 L401.5 98 L406 98 L410.7 98 L415.7 98 L420.8 98 L426 98 L431.4 98 L436.7 98 L442 98 L447.2 98 L452.2 98 L457.1 98 L461.7 98 L466 98 L470 98 L474.4 98 L479 98 L483.7 97.9 L488.4 97.8 L493.2 97.7 L498 97.6 L502.7 97.5 L507.4 97.4 L511.9 97.4 L516.3 97.3 L520.5 97.3 L524.5 97.4 L528.3 97.5 L531.7 97.6 L534.9 97.8 L537.6 98.1 L540 98.5 L545.1 99.8 L549 102 L552.2 104.3 L555.4 107.3 L558.7 110.8 L562 115 L563.8 117.6 L565.7 120.6 L567.6 123.9 L569.5 127.3 L571.5 131 L573.4 134.8 L575.4 138.7 L577.3 142.7 L579.2 146.6 L581.2 150.5 L583.1 154.3 L585 158 L587 161.8 L589 165.5 L590.9 169.2 L592.9 172.9 L594.8 176.5 L596.8 180.2 L598.8 184 L600.8 187.8 L602.8 191.7 L604.9 195.8 L607 200 L608.7 203.4 L610.4 206.8 L612.2 210.4 L614 214 L615.8 217.7 L617.6 221.4 L619.5 225.2 L621.3 229.1 L623.2 232.9 L625.1 236.8 L627 240.8 L628.9 244.7 L630.7 248.6 L632.6 252.6 L634.5 256.5 L636.3 260.3 L638.2 264.2 L640 268 L641.8 271.8 L643.6 275.6 L645.4 279.4 L647.1 283.2 L648.9 287 L650.6 290.8 L652.4 294.6 L654.2 298.4 L655.9 302.3 L657.7 306.1 L659.4 309.9 L661.2 313.6 L663 317.4 L664.8 321.2 L666.5 324.9 L668.3 328.6 L670.2 332.3 L672 336 L673.9 339.8 L675.7 343.6 L677.6 347.4 L679.5 351.2 L681.3 355.1 L683.2 358.9 L685.1 362.8 L687 366.6 L688.9 370.3 L690.8 374.1 L692.7 377.7 L694.7 381.3 L696.7 384.7 L698.7 388.1 L700.8 391.4 L702.9 394.5 L705 397.5 L707.7 401.1 L710.5 404.6 L713.4 408 L716.3 411.3 L719.3 414.5 L722.3 417.5 L725.3 420.3 L728.2 423 L731.2 425.5 L734.1 427.9 L737 430 L740.9 432.6 L744.7 434.7 L748.5 436.6 L752.3 438.2 L756.2 439.6 L760 441 L764.3 442.5 L768.5 444 L772.8 445.2 L777.3 445.9 L782 446 L785.7 445.6 L789.7 444.9 L793.9 443.9 L798.2 442.6 L802.5 441.1 L806.7 439.4 L810.7 437.4 L814.5 435.3 L818 433 L821.4 430.3 L824.5 427.4 L827.4 424.2 L830.1 420.7 L832.7 417.1 L835.2 413.2 L837.6 409.2 L840 405 L841.7 401.8 L843.2 398.5 L844.7 395 L846.1 391.3 L847.4 387.5 L848.7 383.7 L849.9 379.8 L851.2 375.8 L852.5 371.8 L853.8 367.8 L855.2 363.7 L856.7 359.8 L858.3 355.8 L860 352 L861.7 348.4 L863.5 344.8 L865.4 341.2 L867.4 337.6 L869.4 334.1 L871.4 330.5 L873.5 326.9 L875.6 323.3 L877.8 319.7 L879.9 316.1 L882.1 312.4 L884.2 308.8 L886.3 305.1 L888.4 301.4 L890.5 297.7 L892.5 294 L894.4 290.4 L896.2 286.6 L898.1 282.6 L899.9 278.5 L901.8 274.4 L903.6 270.1 L905.5 265.9 L907.3 261.7 L909.2 257.5 L911 253.5 L912.8 249.5 L914.6 245.8 L916.4 242.2 L918.1 238.9 L919.9 235.9 L921.6 233.3 L923.3 230.9 L925 229 L929.3 225.1 L933.6 222.7 L938 222 L941.7 222.9 L945.7 224.9 L949.8 227.9 L953.6 231.3 L957 235 L959.1 238.4 L961 242.7 L962.7 247.6 L964.2 252.6 L965.7 257.2 L967.1 261 L968.5 263.6 L970 264.5 L971.3 263.6 L972.5 261.3 L973.6 257.9 L974.7 253.6 L975.8 248.7 L977 243.6 L978.2 238.4 L979.6 233.5 L981.2 229.1 L983 225.5 L985.9 221.1 L989.3 216.7 L993 212.6 L996.6 209.1 L1000 206.8 L1003 206 L1006.6 208.8 L1009.8 213.7 L1012.5 216 L1013.7 214.6 L1014.5 211.7 L1015 207.5 L1015.4 202.6 L1015.9 197.3 L1016.6 192.2 L1017.5 187.6 L1019 184 L1021.5 180.5 L1024.6 177.5 L1027.9 174.9 L1031.5 172.5 L1035 170 L1038.7 167.4 L1042.4 164.9 L1046.2 162.5 L1050.4 160.2 L1055 158 L1058.4 156.5 L1062 155.1 L1065.9 153.7 L1069.9 152.4 L1074 151.1 L1078.2 149.8 L1082.5 148.5 L1086.7 147.3 L1090.9 146.1 L1095 145 L1099 143.9 L1102.8 142.8 L1106.6 141.7 L1110.3 140.7 L1114.1 139.7 L1118 138.8 L1122.1 137.9 L1126.4 137 L1131 136.2 L1136 135.5 L1139.1 135.1 L1142.4 134.7 L1145.8 134.3 L1149.4 134 L1153 133.7 L1156.8 133.4 L1160.7 133.1 L1164.7 132.8 L1168.8 132.5 L1173 132.3 L1177.2 132.1 L1181.5 131.9 L1185.8 131.7 L1190.2 131.5 L1194.6 131.3 L1199 131.2 L1203.5 131 L1207.9 130.9 L1212.3 130.8 L1216.7 130.7 L1221.1 130.6 L1225.4 130.5 L1229.7 130.4 L1233.9 130.3 L1238.1 130.2 L1242.1 130.1 L1246.1 130.1 L1250 130 L1254.3 129.9 L1258.7 129.9 L1263.1 129.9 L1267.5 130 L1271.8 130 L1276.2 130.1 L1280.6 130.1 L1284.9 130.2 L1289.2 130.4 L1293.5 130.5 L1297.8 130.6 L1302 130.7 L1306.1 130.8 L1310.2 130.9 L1314.2 131.1 L1318.2 131.2 L1322.1 131.2 L1325.8 131.3 L1329.5 131.4 L1333.1 131.4 L1336.6 131.4 L1340 131.4 L1345.1 131.4 L1350.2 131.5 L1355.3 131.7 L1360.3 131.8 L1365.1 131.9 L1369.5 131.9 L1373.5 131.8 L1377 131.4 L1379.9 130.9 L1382 130 L1383.6 127.2 L1385 125 L1387.8 125.7 L1391.5 128.2 L1395.9 131.5 L1400.5 134.4 L1405 136 L1409.5 136 L1414.2 135.2 L1418.9 133.8 L1423.6 131.9 L1428 130 L1432.1 127.9 L1436.2 125.4 L1440.1 122.6 L1443.7 119.8 L1447 117 L1450.5 112.7 L1453.4 108.2 L1457 105.4 L1460.6 105.3 L1464.7 106.5 L1469 108 L1473 108.7 L1477.4 107.6 L1481.7 105.8 L1486 105.4 L1489.1 106.9 L1492 109.7 L1495 113 L1498.2 116.1 L1502 118.4 L1505.4 119.5 L1509 120.3 L1512.9 120.8 L1517 121.1 L1521.3 121.2 L1525.8 121.3 L1530.3 121.5 L1535 121.7 L1538.7 121.9 L1542.8 121.9 L1547.1 121.9 L1551.6 121.8 L1556.3 121.7 L1561 121.6 L1565.7 121.5 L1570.3 121.5 L1574.8 121.5 L1579.1 121.6 L1583.1 121.8 L1586.8 122.1 L1590.1 122.6 L1593 123.3 L1598.4 125.3 L1602.6 127.9 L1606 131.4 L1607.9 135.1 L1609.2 140 L1610.3 145 L1611.5 149 L1613 151 L1615.8 149.4 L1619 147.6 L1622 149 L1625.4 152.2 L1628.8 156.3 L1632 160.6 L1633.9 163.5 L1635.7 166.6 L1637.4 169.9 L1639 173.4 L1640.6 177.2 L1642.1 181.2 L1643.6 185.4 L1645 190 L1645.9 193.1 L1646.7 196.4 L1647.5 199.9 L1648.2 203.6 L1648.9 207.4 L1649.6 211.4 L1650.2 215.5 L1650.8 219.6 L1651.5 223.9 L1652 228.2 L1652.6 232.6 L1653.2 237 L1653.8 241.4 L1654.3 245.8 L1654.9 250.2 L1655.5 254.5 L1656.1 258.7 L1656.7 262.9 L1657.3 267 L1658 271 L1658.7 275.3 L1659.4 279.9 L1660.1 284.7 L1660.8 289.8 L1661.5 295 L1662.2 300.2 L1662.9 305.4 L1663.6 310.6 L1664.3 315.5 L1665 320.3 L1665.7 324.8 L1666.4 328.9 L1667.2 332.5 L1667.9 335.7 L1668.7 338.3 L1669.4 340.3 L1670.2 341.5 L1671 342 L1672.4 341.1 L1673.8 338.5 L1675.2 334.5 L1676.7 329.6 L1678.1 324.1 L1679.6 318.5 L1681 313 L1681.8 309.8 L1682.6 306.2 L1683.3 302.2 L1684 298 L1684.7 293.5 L1685.4 288.8 L1686 284 L1686.7 279.1 L1687.4 274.2 L1688.1 269.3 L1688.8 264.5 L1689.5 259.7 L1690.3 255.2 L1691.1 250.8 L1692 246.7 L1692.9 242.9 L1693.8 239.5 L1694.8 236.5 L1695.9 234 L1697 232 L1701.8 227 L1707 225.5 L1710 227.2 L1713.1 231 L1716.3 235.4 L1719.6 238.8 L1723 240 L1725.1 239 L1727.3 236.6 L1729.6 233.2 L1731.9 229 L1734.2 224.2 L1736.6 219 L1738.9 213.7 L1741.3 208.6 L1743.5 203.8 L1745.8 199.6 L1747.9 196.2 L1750 194 L1752 193 L1755.6 194 L1759.1 197.1 L1762.3 201.5 L1765 206 L1766.4 209.7 L1767.3 214.2 L1767.8 219.2 L1768.4 224.2 L1769.1 228.7 L1770.2 232.5 L1772 235 L1775.4 236.5 L1779.5 236.7 L1783.9 236 L1788 235 L1792.1 232.8 L1796.2 229.4 L1800.2 226.5 L1804 225.5 L1807.3 227.4 L1810.4 231.2 L1813.4 235.9 L1816.6 240.2 L1820 243 L1823.9 244.4 L1828 245 L1832.1 244.9 L1836 244 L1839.4 242.1 L1842.7 239.2 L1845.8 235.7 L1849.1 232.1 L1852.5 229 L1856.2 225.9 L1860.2 222.6 L1864.1 219.5 L1868.1 217.2 L1872 216 L1876.2 216.9 L1880.5 219.4 L1884.5 221.7 L1888 222 L1890.4 219.8 L1892.2 216 L1893.8 211.4 L1895.6 206.7 L1898 203 L1901.3 199.9 L1905.2 196.8 L1909.4 194.2 L1913.4 192.3 L1917 191.5 L1922.4 192.1 L1927 196 L1927.8 197.5 L1928.5 199.4 L1929.2 201.9 L1929.8 204.7 L1930.3 208 L1930.8 211.7 L1931.2 215.6 L1931.5 220 L1931.9 224.5 L1932.1 229.4 L1932.4 234.4 L1932.5 239.7 L1932.7 245.1 L1932.8 250.7 L1932.9 256.3 L1933 262.1 L1933 267.8 L1933.1 273.6 L1933.1 279.4 L1933.1 285.1 L1933.1 290.8 L1933.1 296.3 L1933.1 301.7 L1933.1 306.9 L1933.1 312 L1933.1 316.8 L1933.2 321.3 L1933.2 325.6 L1933.3 329.5 L1933.4 333.1 L1933.5 336.3 L1933.7 339.1 L1933.9 341.5 L1934.1 343.4 L1934.3 344.8 L1934.6 345.7 L1935 346 L1935.6 345.3 L1936.2 343.3 L1936.8 340.1 L1937.4 336 L1938 331.2 L1938.6 325.7 L1939.3 319.9 L1940 313.9 L1940.7 307.8 L1941.4 302 L1942.2 296.5 L1943.1 291.5 L1944 287.3 L1944.9 284 L1945.9 281.9 L1947 281 L1948.8 281.6 L1950.7 283.8 L1952.8 287.2 L1955 291.6 L1957.2 296.7 L1959.3 302.1 L1961.2 307.7 L1963 313 L1963.9 316.2 L1964.8 319.9 L1965.6 324.1 L1966.4 328.6 L1967.1 333.4 L1967.8 338.5 L1968.5 343.7 L1969.1 349 L1969.7 354.5 L1970.3 359.8 L1970.9 365.2 L1971.4 370.4 L1971.9 375.3 L1972.4 380.1 L1972.9 384.5 L1973.3 388.5 L1973.8 392.1 L1974.2 395.1 L1974.7 397.6 L1975.1 399.5 L1975.6 400.6 L1976 401 L1976.5 400.3 L1976.9 398.5 L1977.3 395.6 L1977.6 391.9 L1977.9 387.4 L1978.2 382.3 L1978.5 376.8 L1978.8 371 L1979.1 365 L1979.3 359 L1979.6 353.2 L1979.9 347.7 L1980.2 342.6 L1980.5 338.1 L1980.8 334.3 L1981.2 331.5 L1981.6 329.6 L1982 329 L1982.4 329.3 L1982.8 330.1 L1983.2 331.5 L1983.7 333.4 L1984.1 335.7 L1984.6 338.5 L1985.1 341.6 L1985.6 345.2 L1986.1 349 L1986.6 353.2 L1987.1 357.6 L1987.7 362.2 L1988.2 367.1 L1988.7 372.1 L1989.3 377.2 L1989.8 382.5 L1990.4 387.8 L1990.9 393.1 L1991.4 398.4 L1992 403.7 L1992.5 409 L1993 414.1 L1993.5 419.1 L1994 424 L1994.5 428.6 L1995 433 L1995.4 436.9 L1995.8 441 L1996.2 445.4 L1996.6 449.9 L1997 454.6 L1997.3 459.5 L1997.7 464.5 L1998 469.7 L1998.4 474.9 L1998.8 480.2 L1999.1 485.5 L1999.5 490.9 L1999.8 496.2 L2000.1 501.6 L2000.5 506.9 L2000.8 512.1 L2001.2 517.3 L2001.5 522.3 L2001.9 527.2 L2002.2 532 L2002.6 536.6 L2003 540.9 L2003.3 545.1 L2003.7 549 L2004.1 552.7 L2004.5 556 L2004.9 559.1 L2005.3 561.8 L2005.7 564.2 L2006.2 566.2 L2006.6 567.8 L2007.1 569 L2007.5 569.7 L2008 570 L2008.9 569.4 L2009.9 567.7 L2010.9 565 L2012 561.4 L2013.1 557.1 L2014.1 552.3 L2015.2 547.1 L2016.2 541.7 L2017.1 536.3 L2018 531 L2018.4 528.2 L2018.8 525.2 L2019.2 522.1 L2019.6 518.8 L2020 515.4 L2020.3 511.9 L2020.6 508.3 L2020.9 504.5 L2021.2 500.7 L2021.5 496.7 L2021.8 492.7 L2022 488.6 L2022.3 484.4 L2022.5 480.2 L2022.8 475.9 L2023 471.6 L2023.2 467.2 L2023.4 462.7 L2023.7 458.3 L2023.9 453.8 L2024.1 449.3 L2024.3 444.8 L2024.5 440.3 L2024.7 435.8 L2025 431.3 L2025.2 426.8 L2025.4 422.4 L2025.7 418 L2025.9 413.7 L2026.2 409.4 L2026.5 405.1 L2026.7 400.9 L2027 396.8 L2027.3 392.8 L2027.7 388.9 L2028 385 L2028.4 380.6 L2028.7 375.9 L2029.1 371.1 L2029.4 366.1 L2029.7 361.1 L2030 355.9 L2030.2 350.6 L2030.5 345.3 L2030.8 340 L2031 334.7 L2031.3 329.4 L2031.6 324.2 L2031.9 319.1 L2032.3 314.1 L2032.6 309.3 L2033 304.6 L2033.4 300.1 L2033.8 295.8 L2034.3 291.8 L2034.8 288 L2035.4 284.6 L2036 281.4 L2036.7 278.7 L2037.4 276.3 L2038.2 274.3 L2039.1 272.7 L2040 271.6 L2041 271 L2043.8 272.1 L2046.9 276 L2050.3 280.9 L2053.7 285.2 L2057 287 L2060.2 285.5 L2063.3 281.8 L2066.5 277.3 L2069.7 273.3 L2073 271 L2077.5 270.5 L2082 271.4 L2086 274 L2087.6 276.4 L2088.9 279.8 L2089.8 284 L2090.5 288.7 L2091.1 293.8 L2091.7 298.9 L2092.4 303.9 L2093.3 308.6 L2094.4 312.7 L2096 316 L2098.7 319.1 L2101.9 321.2 L2105.3 323.1 L2108.7 325.4 L2112 329 L2113.4 331.2 L2114.8 333.8 L2116.1 336.7 L2117.5 339.9 L2118.8 343.4 L2120.1 347.2 L2121.4 351.1 L2122.7 355.3 L2124 359.6 L2125.3 364.1 L2126.6 368.6 L2127.9 373.3 L2129.2 377.9 L2130.4 382.6 L2131.7 387.3 L2133 392 L2134.3 396.5 L2135.6 401 L2136.9 405.3 L2138.2 409.5 L2139.6 413.5 L2140.9 417.3 L2142.2 420.8 L2143.6 424.1 L2145 427 L2147.4 431.5 L2149.9 435.4 L2152.5 439 L2155 442.3 L2157.6 445.5 L2160.1 448.6 L2162.5 451.8 L2164.8 455.3 L2167 459 L2168.7 462.5 L2170.2 466.1 L2171.6 469.8 L2172.9 473.6 L2174.1 477.4 L2175.4 481.3 L2176.7 485.2 L2178.1 489.2 L2179.7 493.1 L2181.4 497.1 L2183.5 501 L2185.4 504.2 L2187.5 507.5 L2189.8 510.9 L2192.3 514.2 L2194.9 517.7 L2197.6 521.1 L2200.4 524.6 L2203.2 528 L2206.1 531.5 L2208.9 534.9 L2211.7 538.3 L2214.4 541.6 L2217.1 544.9 L2219.5 548 L2221.9 551.1 L2224.1 554.1 L2226 557 L2228.6 561.1 L2231 565.1 L2233.3 569 L2235.4 572.8 L2237.3 576.4 L2239.1 579.9 L2240.6 583.1 L2242 586 L2244.3 591.3 L2246 597 L2246.5 600.5 L2246.8 605 L2246.8 610.1 L2246.9 615.5 L2247 620.9 L2247.2 625.9 L2247.8 630.1 L2248.6 633.3 L2250 635 L2253.8 633.9 L2258.4 630.4 L2263 629 L2265.5 630.7 L2267.9 634 L2270.3 638.3 L2272.7 643 L2275 647.5 L2277.5 651.2 L2280 653.5 L2284.8 654.6 L2289.7 654.3 L2292 654" fill="none" stroke="#A5A5A5" stroke-width="7.4" stroke-linejoin="round" stroke-linecap="round" clip-path="url(#clipA)"/>
<path d="M333 1463.4 L333.8 1463.6 L335.9 1461.9 L339.2 1460.9 L343.3 1460.4 L348.2 1461.5 L353.5 1460.3 L359.1 1459.9 L364.7 1461.9 L370 1462.1 L375 1463.1 L379.3 1462.2 L382.7 1464.2 L385 1465.3 L387.1 1468.4 L387.5 1476.2 L388.4 1478.8 L390.3 1478.7 L392.6 1470.9 L395.2 1464.9 L398 1463.6 L400.7 1463.8 L403.6 1468.2 L406.9 1470.7 L411 1473.8 L414.1 1474.9 L417.9 1474 L422.2 1472.2 L426.8 1469.3 L431.6 1469.1 L436.5 1466.7 L441.3 1465.5 L445.8 1463.2 L450 1462.8 L453.6 1460.7 L456.6 1460.8 L462.2 1462.7 L466.3 1464.2 L467.9 1468.6 L469.1 1473.7 L469.9 1482.2 L470.6 1485.4 L471.5 1490.4 L472.8 1492.1 L474.8 1489.4 L477.1 1483.7 L479.6 1481 L482.5 1474.8 L485.3 1472.4 L488.3 1466.3 L491.5 1463.6 L495 1462.5 L498.8 1460.6 L503.1 1456.5 L508 1456.1 L513 1457.9 L517.7 1459.8 L521.5 1460.8 L524.5 1463.6 L526.6 1465.7 L528.6 1471.5 L531.2 1476.4 L533.3 1477.5 L535.6 1479.3 L538.2 1483.1 L540.9 1488 L543.8 1488.5 L546.6 1493.7 L549.4 1496.1 L552.2 1500.5 L554.8 1503.9 L557.2 1507.6 L559.4 1512.7 L561.6 1514.7 L563.7 1518.7 L565.7 1521.6 L567.7 1525.1 L569.6 1529.1 L571.5 1531.3 L573.3 1536.1 L575 1539.8 L576.7 1542.7 L578.5 1547.6 L580.3 1551.1 L581.9 1554.3 L583.4 1559.3 L584.9 1563 L586.4 1567.3 L588 1571.5 L589.7 1576.4 L591.2 1579.6 L592.8 1583.4 L594.4 1587.5 L596 1590.5 L597.6 1595.8 L599.2 1598.8 L600.9 1603.4 L602.5 1606.6 L604.2 1610.5 L605.9 1614.5 L607.6 1619.3 L609.3 1622.3 L611 1625.1 L612.7 1628.7 L614.4 1631.7 L616.2 1635.7 L618.1 1639.1 L620 1643.5 L622.1 1646.6 L623.7 1650.2 L625.4 1653.3 L627.1 1656.8 L628.8 1661.1 L630.6 1664.5 L632.5 1668.5 L634.4 1672.6 L636.3 1676.5 L638.2 1679.3 L640.2 1684 L642.2 1686.8 L644.2 1691.4 L646.3 1696 L648.4 1698.7 L650.4 1702.2 L652.5 1705.8 L654.6 1708.9 L657.1 1712.7 L659.6 1716.1 L662.2 1720.6 L664.7 1724.2 L667.3 1727.3 L669.9 1731 L672.6 1734.5 L675.3 1737.8 L678.1 1740.5 L681 1743.4 L683.9 1745.4 L687 1747.3 L690.7 1749.9 L694.5 1752.6 L698.5 1754.4 L702.6 1755.5 L706.7 1756.5 L710.8 1757.9 L714.9 1759.3 L718.8 1759.6 L722.7 1758.9 L727 1759.1 L731.3 1758 L735.5 1757.3 L739.7 1756.7 L743.8 1755 L747.9 1753.6 L751.9 1751.6 L755 1749.4 L758.2 1747.4 L761.3 1744 L764.4 1741 L767.4 1738.8 L770.4 1736.7 L773.4 1732.4 L776.3 1728.4 L779.1 1725.6 L781.8 1722.7 L784.4 1718.1 L786.7 1715.7 L788.9 1711.6 L790.9 1708.9 L792.9 1705.1 L794.8 1701.2 L796.7 1698.1 L798.5 1693.2 L800.3 1689.2 L802.1 1686.4 L804 1681.3 L805.9 1678.7 L807.9 1673.8 L810 1669.5 L811.9 1666.6 L813.8 1663.3 L815.8 1659.9 L817.8 1656.2 L819.8 1653.3 L821.8 1648.3 L823.8 1645.6 L825.9 1642.3 L828 1639.7 L830 1634.5 L832.1 1631.8 L834.2 1627.9 L836.3 1624.7 L838.4 1621.8 L840.4 1618.3 L842.5 1615.3 L844.7 1610.9 L846.9 1607.8 L849.1 1604.7 L851.3 1601.1 L853.6 1597 L855.8 1594.2 L858.1 1589.8 L860.3 1587.6 L862.5 1583.4 L864.7 1579.8 L866.9 1576.6 L869 1573.4 L871.1 1570.4 L873.1 1566.1 L875 1562.6 L877.1 1558.9 L879.2 1553.7 L881.3 1548.5 L883.3 1544.7 L885.2 1539.2 L887.1 1535 L889 1529.6 L890.8 1524.7 L892.6 1522.7 L894.3 1520 L896 1518.8 L897.6 1517.6 L900.2 1518.6 L902.7 1521.9 L905.1 1525.8 L907.4 1530.4 L909 1532.9 L910.5 1537.2 L911.9 1540.5 L913.4 1544.7 L914.8 1549.4 L916.2 1553.8 L917.6 1557.2 L919 1562.8 L920.4 1565.7 L921.8 1570.9 L923.2 1576 L924.5 1581.1 L925.9 1586.5 L927.2 1592.3 L928.6 1596.5 L930.1 1600 L931.6 1601.5 L933.3 1603.1 L935.6 1602.8 L938.1 1599 L940.6 1593.9 L943.3 1589.2 L946.3 1585.4 L949.3 1582.9 L952.5 1580 L956 1577.6 L959.4 1574.1 L962.7 1572.3 L965.8 1569.1 L969.2 1565.9 L972.2 1563.7 L975.3 1559.8 L978.8 1556.2 L981.5 1553.6 L984.5 1550.6 L987.5 1548.5 L990.8 1545.3 L994.1 1542 L997.6 1538.8 L1001.1 1536.5 L1004.7 1533.6 L1008.4 1531.7 L1012.1 1529.8 L1015.9 1527.9 L1019.8 1527.1 L1023.8 1525.7 L1028.1 1524.1 L1032.5 1521.2 L1037.2 1521.4 L1040.6 1519.9 L1044.2 1518.4 L1047.9 1517.5 L1051.8 1517.1 L1055.7 1516.1 L1059.8 1515 L1063.9 1513.7 L1068.1 1512.8 L1072.4 1512.2 L1076.6 1510.9 L1080.9 1509.7 L1085.2 1508.9 L1089.5 1508.3 L1093.7 1507.7 L1097.9 1507.8 L1102 1505.4 L1106 1505.5 L1110.1 1504.5 L1114.2 1504 L1118.2 1503.8 L1122.3 1503.1 L1126.3 1501.9 L1130.4 1501.1 L1134.5 1500.1 L1138.5 1500.1 L1142.6 1500.2 L1146.7 1498.9 L1150.7 1498.8 L1154.8 1498.3 L1158.9 1497.6 L1162.9 1497.3 L1167 1496.2 L1171.2 1495.4 L1175.6 1494.8 L1180.2 1495.4 L1184.9 1494.6 L1189.7 1494.3 L1194.4 1494.6 L1199.2 1493.6 L1203.9 1494.5 L1208.4 1493.6 L1212.8 1492.7 L1216.9 1492.2 L1220.7 1492.4 L1224.1 1490.7 L1227.2 1490.1 L1229.9 1489.4 L1232 1488.3 L1235.3 1483.9 L1237 1479.2 L1238.4 1476.6 L1239.6 1482 L1241.7 1488.8 L1244.9 1488.3 L1249.2 1485.7 L1253.8 1484.5 L1257.9 1482.4 L1261.3 1486 L1264.3 1490.7 L1267.3 1495.5 L1270.9 1498 L1275.1 1498.1 L1279.7 1497.6 L1284.7 1495.7 L1290 1495 L1293.6 1491.5 L1297.5 1493.8 L1301.6 1492.2 L1305.7 1493.2 L1309.9 1492.5 L1314.2 1492.2 L1318.4 1491 L1322.5 1491.8 L1326.7 1491.6 L1331.1 1493.1 L1335.6 1494.2 L1340.1 1494.9 L1344.4 1498.7 L1348.4 1498.5 L1352 1496.4 L1355 1498.7 L1358.4 1493.9 L1360.9 1491 L1364.7 1487.7 L1367.4 1487.1 L1370.7 1487.6 L1374.5 1487.3 L1378.6 1486.8 L1383.1 1488.8 L1387.8 1490 L1392.6 1492.2 L1397.5 1491.2 L1402.4 1491.5 L1407.1 1493 L1411.6 1494.6 L1415.9 1493.7 L1419.8 1494 L1424.3 1494.9 L1428.5 1494 L1432.6 1493.7 L1436.6 1492.3 L1440.5 1491.4 L1444.4 1491 L1448.3 1490.4 L1452.3 1489.5 L1456.4 1489.4 L1460.4 1488.7 L1464.4 1487.8 L1468.5 1486.8 L1472.5 1484.7 L1476.6 1483.6 L1480.6 1484.6 L1484.7 1483.3 L1488.8 1483 L1492.8 1481.6 L1496.9 1482.2 L1501 1481.7 L1505.1 1481.5 L1509.2 1481.6 L1513.2 1480.6 L1517.2 1481.8 L1521.5 1482.3 L1525.8 1480 L1530.2 1480 L1534.4 1478.2 L1538.6 1479.3 L1542.6 1480 L1546.4 1477.3 L1550.6 1478.6 L1554.7 1480.7 L1558.6 1480.7 L1562.3 1481.7 L1565.9 1481.5 L1569.5 1485.3 L1572.8 1488.8 L1576.1 1492.2 L1579.1 1494.8 L1582.1 1497.4 L1584.1 1500.3 L1586 1502.7 L1587.7 1507.1 L1589.4 1513 L1591.1 1515.9 L1592.7 1518.8 L1594.5 1525 L1596.3 1525.8 L1598.3 1531.5 L1601.4 1534 L1604.6 1538.2 L1607.9 1541.8 L1611.3 1544.3 L1614.6 1547.7 L1619.1 1548.7 L1623.5 1549.9 L1627.5 1552.5 L1629.1 1554.4 L1630.5 1558.6 L1631.7 1564.2 L1632.7 1568.7 L1633.6 1574.1 L1634.5 1580.3 L1635.4 1583.4 L1636.3 1587.9 L1637.4 1590.4 L1638.6 1595 L1640 1600 L1643.1 1602.5 L1646.4 1604.7 L1650 1606.3 L1654.3 1603.3 L1658.8 1601.4 L1663 1597.2 L1664.9 1594.1 L1666.8 1592.8 L1668.5 1589.3 L1670.2 1584.7 L1671.8 1580.9 L1673.4 1575.7 L1675 1572.3 L1676.5 1568.1 L1678 1564.4 L1679.5 1560.5 L1681 1555.7 L1682.3 1550.6 L1683.5 1545.3 L1684.6 1540.5 L1685.8 1536.6 L1687.1 1532.4 L1688.5 1528.7 L1690.1 1527.2 L1692 1525.4 L1695.2 1526.1 L1698.9 1529.8 L1702.7 1534.7 L1706.5 1538 L1710 1539.4 L1712.7 1538.5 L1715.3 1534.2 L1717.7 1529.7 L1720.1 1525.9 L1722.5 1521.4 L1725 1520.8 L1728.3 1521 L1731.8 1525 L1735 1528.8 L1738 1532.5 L1739.2 1537 L1740.3 1539.2 L1741.2 1541.6 L1742 1546.7 L1742.8 1550.7 L1743.5 1554.1 L1744.1 1559 L1744.8 1564.2 L1745.4 1569.3 L1746 1573.8 L1746.6 1578.4 L1747.3 1582.9 L1748.1 1585.1 L1749 1590.4 L1749.9 1594.9 L1751 1596.9 L1752.4 1603.3 L1753.9 1607.7 L1755.5 1611 L1757.2 1615.5 L1758.9 1619.3 L1760.6 1623.9 L1762.4 1627.7 L1764.3 1631.2 L1766.2 1633.9 L1768.1 1637.7 L1770 1639.8 L1773.3 1644.1 L1776.8 1646.4 L1780.4 1647.5 L1784 1649.1 L1788.7 1650.8 L1793.6 1650.5 L1798 1652.3 L1800.9 1655.6 L1803.4 1659.5 L1805.8 1662.6 L1808.7 1665.4 L1813.1 1666.9 L1818 1664.6 L1822.7 1663.3 L1825 1660.1 L1827.2 1657 L1829.2 1652 L1831.2 1648 L1833.2 1641.8 L1835.3 1639.5 L1837.7 1636.8 L1840.3 1634 L1844.1 1633.5 L1848.4 1635.2 L1852.8 1637 L1857.2 1637.7 L1861.4 1638.4 L1864.6 1635.5 L1867.8 1634.7 L1870.9 1630.1 L1874 1627 L1877.1 1624.5 L1880.1 1619.4 L1883.1 1615.5 L1886 1613.4 L1889.5 1609.2 L1893.1 1605 L1896.7 1601.3 L1900 1598.1 L1903 1595.8 L1905.4 1595.4 L1907.1 1597.8 L1908.3 1599.7 L1909.1 1604.3 L1909.7 1608.1 L1910.3 1614.4 L1911 1619.5 L1911.3 1622.1 L1911.5 1625 L1911.8 1627.2 L1912 1629.5 L1912.2 1633.1 L1912.4 1636.5 L1912.6 1640.2 L1912.8 1643.2 L1913 1647.2 L1913.1 1651.2 L1913.3 1654.6 L1913.4 1659.3 L1913.5 1663.3 L1913.7 1668.1 L1913.8 1672.3 L1913.9 1676.9 L1914 1680.6 L1914.1 1686.2 L1914.2 1690.8 L1914.3 1695.4 L1914.4 1700.4 L1914.4 1704.9 L1914.5 1710.4 L1914.6 1715.4 L1914.7 1720.3 L1914.8 1724.8 L1914.9 1730.5 L1915 1735 L1915 1739.1 L1915.1 1744.2 L1915.2 1748.3 L1915.3 1753.6 L1915.5 1758.5 L1915.6 1763.2 L1915.7 1766.9 L1915.8 1770.7 L1916 1775.5 L1916.1 1780.2 L1916.3 1783.6 L1916.4 1787.9 L1916.6 1791.4 L1916.8 1795.2 L1917 1798.1 L1917.2 1800.8 L1917.5 1804.2 L1917.7 1807.8 L1918.2 1812.3 L1918.8 1817.5 L1919.4 1824.8 L1920 1829.7 L1920.6 1834.6 L1921.2 1839.4 L1921.9 1843.3 L1922.5 1847.7 L1923.2 1850.2 L1924 1851.6 L1924.7 1852.3 L1925.4 1851.5 L1926.1 1849.6 L1926.8 1845.4 L1927.4 1841.3 L1928.1 1834.9 L1928.9 1829.1 L1929.6 1823.1 L1930.4 1817.1 L1931.3 1811.8 L1932.2 1807.5 L1933.2 1803.7 L1934.2 1800.3 L1935.3 1800.2 L1936.7 1800.3 L1938.2 1802.6 L1939.8 1804.6 L1941.6 1808 L1943.3 1812.9 L1945.1 1817.5 L1946.9 1822.1 L1948.6 1827.5 L1950.2 1832.7 L1951.6 1837.6 L1952.8 1841.3 L1953.7 1845.3 L1954.6 1849.8 L1955.3 1853.9 L1956 1857.7 L1956.6 1861.4 L1957.1 1866.9 L1957.5 1870.5 L1957.9 1874.5 L1958.3 1879.8 L1958.7 1883.9 L1959 1888.1 L1959.3 1892.2 L1959.6 1896.2 L1959.9 1899.6 L1960.2 1904.6 L1960.3 1909.7 L1960.4 1915.1 L1960.4 1920.4 L1960.4 1925.2 L1960.4 1930.6 L1960.4 1935.6 L1960.4 1940 L1960.6 1943.4 L1960.8 1945.9 L1961.1 1948 L1961.6 1949.3 L1963.1 1945.6 L1965 1939 L1966.9 1934.4 L1967.4 1935.4 L1968 1936.8 L1968.6 1937.1 L1969.1 1939.4 L1969.7 1941.6 L1970.3 1945.5 L1970.8 1948.3 L1971.4 1951.6 L1972 1955.8 L1972.5 1959.9 L1973.1 1964.7 L1973.7 1969.5 L1974.2 1974.3 L1974.8 1979.1 L1975.4 1984.5 L1975.9 1989.8 L1976.5 1995.3 L1977 1999.5 L1977.5 2005.7 L1978.1 2011 L1978.6 2016.3 L1979.1 2021.3 L1979.6 2026.5 L1980.1 2031.6 L1980.5 2036.2 L1981 2040.7 L1981.4 2043.9 L1981.8 2047.7 L1982.1 2051.8 L1982.5 2055.4 L1982.8 2060 L1983.2 2063.9 L1983.5 2067.7 L1983.8 2071.9 L1984.1 2076.7 L1984.4 2080.9 L1984.7 2086.3 L1985 2090.1 L1985.3 2093.8 L1985.6 2098.2 L1985.9 2102.4 L1986.2 2106.8 L1986.5 2111.3 L1986.7 2115.8 L1987 2119.8 L1987.3 2124.7 L1987.5 2128.9 L1987.8 2133.6 L1988.1 2136.4 L1988.4 2141.3 L1988.6 2145 L1988.9 2148.5 L1989.2 2152.9 L1989.5 2156.2 L1989.7 2160.7 L1990 2165.4 L1990.3 2168.5 L1990.6 2172.2 L1990.9 2175.3 L1991.2 2177.5 L1991.5 2181.5 L1992 2186.4 L1992.4 2191.7 L1992.7 2196.5 L1993.1 2201.4 L1993.4 2208.3 L1993.7 2213 L1994.1 2217.5 L1994.5 2221.7 L1995 2226.1 L1995.5 2229.2 L1996.1 2233.1 L1996.8 2235.2 L1997.6 2236.7 L1998.5 2237.4 L2001.7 2236.1 L2005 2232.1 L2006.8 2228.7 L2008.5 2225.4 L2010 2220.5 L2011.3 2215.2 L2012.6 2209.1 L2013.1 2207.2 L2013.6 2204.3 L2014 2201 L2014.4 2196.8 L2014.8 2194 L2015.1 2191 L2015.5 2187 L2015.8 2183.7 L2016 2179.1 L2016.3 2175.6 L2016.6 2171.4 L2016.8 2165.9 L2017 2162.4 L2017.2 2158.1 L2017.5 2153.5 L2017.7 2148.8 L2017.9 2145.2 L2018.1 2139.8 L2018.3 2135.5 L2018.6 2129.8 L2018.8 2124.7 L2019 2120.5 L2019.3 2116 L2019.6 2110.7 L2019.8 2107.9 L2020 2104.5 L2020.2 2100.5 L2020.4 2097 L2020.6 2093 L2020.8 2089.9 L2021 2086.3 L2021.2 2081.9 L2021.4 2077.4 L2021.6 2073.2 L2021.8 2069.3 L2022 2065.5 L2022.1 2060.6 L2022.3 2057.2 L2022.5 2051.7 L2022.7 2047.8 L2022.9 2043.9 L2023.1 2039.6 L2023.3 2034.3 L2023.5 2030.2 L2023.7 2026.4 L2023.9 2021.3 L2024.1 2015.4 L2024.3 2011.8 L2024.5 2008.1 L2024.7 2002.1 L2024.9 1998.4 L2025.1 1992.7 L2025.3 1989.6 L2025.5 1984.2 L2025.7 1980.3 L2025.9 1976 L2026.1 1970.1 L2026.3 1966.2 L2026.5 1962.6 L2026.7 1957.6 L2026.9 1954 L2027.1 1949.5 L2027.3 1946.3 L2027.5 1941.5 L2027.8 1937.4 L2028 1934.1 L2028.2 1930.5 L2028.4 1926.2 L2028.6 1922.8 L2028.8 1919.3 L2029.1 1915.5 L2029.3 1911.8 L2029.5 1909.3 L2029.7 1905.8 L2030 1902.4 L2030.2 1900.3 L2030.6 1894.8 L2030.9 1889.1 L2031.2 1883.2 L2031.5 1877.8 L2031.8 1872.7 L2032.1 1867.4 L2032.3 1861.8 L2032.7 1857 L2033 1853.1 L2033.5 1849.1 L2034 1845.9 L2034.6 1842.3 L2035.3 1840.9 L2036.2 1839.8 L2037.2 1838.8 L2039.2 1839.8 L2041.5 1844.1 L2044.1 1848.4 L2046.7 1854 L2049.1 1859 L2051.3 1858.8 L2052.3 1858.5 L2053.2 1858 L2054 1855.5 L2054.8 1853.1 L2055.6 1849.8 L2056.3 1847.5 L2057 1842.7 L2057.6 1838.6 L2058.2 1833.4 L2058.8 1829.6 L2059.4 1824.3 L2059.9 1819.4 L2060.4 1814.6 L2061 1808.7 L2061.5 1802.9 L2062 1797.8 L2062.5 1793.2 L2063.1 1788.8 L2063.6 1783.1 L2064.2 1779.2 L2064.8 1775.2 L2065.4 1771.9 L2066.3 1766.3 L2067.1 1761.6 L2068 1756.3 L2068.9 1750.5 L2069.7 1745.1 L2070.6 1740.2 L2071.5 1735.5 L2072.3 1731.5 L2073.2 1727 L2074.1 1725.3 L2075 1722.9 L2075.9 1721.9 L2076.9 1723.3 L2077.8 1726.2 L2078.7 1731.3 L2079.6 1737.5 L2080.5 1742.3 L2081.5 1749 L2082.5 1755.5 L2083.7 1759.8 L2085 1763.6 L2086.5 1764.1 L2088 1763.8 L2089.8 1760.4 L2091.6 1757.5 L2093.6 1753.5 L2095.6 1748.6 L2097.7 1743.5 L2099.8 1737.6 L2101.8 1732.7 L2103.8 1729.1 L2105.7 1726 L2107.5 1726.4 L2109.7 1727.4 L2111.8 1729.1 L2113.9 1734.1 L2115.8 1737.6 L2117.8 1743.6 L2119.7 1748.5 L2121.6 1753.3 L2122.8 1757.6 L2123.9 1761 L2125 1766.4 L2126.1 1770.4 L2127.1 1775.9 L2128.2 1780.9 L2129.2 1786.3 L2130.2 1791.2 L2131.2 1796.8 L2132.3 1801.4 L2133.3 1805.5 L2134.4 1809.2 L2135.6 1813.3 L2136.7 1814.7 L2137.9 1816.4 L2139.2 1817.6 L2141.4 1815.9 L2143.8 1811.3 L2146.3 1806.7 L2148.7 1801.3 L2151.1 1797.1 L2153.3 1796.3 L2154.4 1796.5 L2155.4 1798.5 L2156.3 1800.8 L2157.1 1805.2 L2157.9 1808.4 L2158.6 1813.2 L2159.3 1818.1 L2160 1823.6 L2160.7 1828.8 L2161.3 1834.8 L2162.1 1840.2 L2162.8 1844.8 L2163.6 1851.3 L2164.5 1855.8 L2165.5 1861.3 L2166.7 1865.2 L2167.9 1868.6 L2169.3 1870.6 L2170.8 1872.7 L2175.1 1875.1 L2180.1 1875.6 L2184.8 1875.1 L2188.4 1877.9 L2190.2 1880.4 L2190.8 1884.3 L2191 1888.7 L2191.2 1894.3 L2192 1899.9 L2192.8 1903 L2193.6 1906.5 L2194.7 1910.4 L2195.8 1913 L2196.9 1917.6 L2198.2 1921.9 L2199.5 1924.9 L2200.8 1929.6 L2202.2 1933.7 L2203.5 1937.7 L2204.8 1942.8 L2206.1 1946.6 L2207.3 1951.6 L2208.4 1955.6 L2209.5 1959.7 L2210.4 1963.7 L2211.2 1967.5 L2212.1 1971.1 L2212.9 1976.6 L2213.7 1980.6 L2214.5 1985.4 L2215.3 1988.7 L2216 1994.4 L2216.8 1998.9 L2217.5 2003 L2218.2 2006.7 L2218.9 2011.9 L2219.6 2015.9 L2220.3 2020.2 L2220.9 2024.3 L2221.5 2027.6 L2222.1 2031.5 L2222.6 2034.8 L2223.1 2038.5 L2223.6 2040.6 L2224.4 2046.8 L2225 2049.6 L2225.7 2053.9 L2227 2058.7 L2228.5 2060.8 L2230.5 2064.8 L2232.7 2067.8 L2235.1 2070.6 L2237.4 2074.3 L2239.5 2078.9 L2241.2 2082.6 L2242 2086 L2242.7 2089.6 L2243.4 2094 L2243.9 2097.2 L2244.4 2102.3 L2244.8 2107.4 L2245.2 2113.1 L2245.5 2118.9 L2245.7 2124.4 L2246 2129.4 L2246.2 2135.5 L2246.4 2140 L2246.5 2145.3 L2246.7 2149.3 L2246.8 2154.2 L2247 2157.3 L2247.2 2161.3 L2247.4 2163.9 L2247.6 2166.3 L2247.9 2166.6 L2248.2 2166.7 L2248.5 2166.9 L2248.9 2165.1 L2249.3 2162.1 L2249.6 2158.3 L2250 2154.9 L2250.4 2149 L2250.7 2144.2 L2251.1 2139.2 L2251.5 2132.7 L2251.8 2127 L2252.2 2121 L2252.6 2115.1 L2252.9 2109.6 L2253.3 2104.1 L2253.6 2098.9 L2254 2094.3 L2254.3 2091.2 L2254.6 2088.4 L2254.9 2087.1 L2255.2 2086.9 L2255.6 2087.9 L2256.1 2090.5 L2256.6 2095.6 L2257 2101.2 L2257.5 2107.2 L2257.9 2114.2 L2258.2 2119.6 L2258.5 2124.2 L2258.6 2126.8 L2258.7 2127.4" fill="none" stroke="#4472C4" stroke-width="7.4" stroke-linejoin="round" stroke-linecap="round" clip-path="url(#clipB)"/>
<path d="M333 1495.6 L333.6 1492.3 L335.2 1493.4 L337.7 1493.2 L341.1 1493.9 L345 1491.5 L349.5 1492.6 L354.4 1492.2 L359.6 1491.9 L364.9 1492.1 L370.2 1492.5 L375.4 1492.7 L380.4 1492 L385 1493.5 L388.9 1492.3 L393.1 1489.2 L397.4 1493.8 L402 1491.7 L406.6 1491 L411.3 1491.7 L416.1 1491.3 L420.9 1490.8 L425.6 1489.4 L430.3 1490.3 L434.8 1488.2 L439.2 1491.3 L443.3 1488.4 L447.3 1489.6 L450.9 1490.2 L454.3 1490.8 L457.2 1490.9 L459.8 1492.5 L463.9 1491 L466.7 1498.7 L469.3 1502.2 L472.8 1503.8 L475.6 1505.7 L478.8 1501.8 L482.4 1501 L486.2 1496.4 L490.1 1496.2 L494.2 1491.2 L498.2 1488.4 L502 1490.1 L505.6 1486.1 L508.9 1483.8 L511.8 1483.3 L516.5 1481.9 L520.4 1484.1 L524.7 1488.5 L527.1 1487.5 L529.6 1492.4 L532.2 1492.9 L535 1497.9 L537.9 1499.8 L540.7 1506.4 L543.6 1509.1 L546.5 1510.8 L549.4 1512.7 L552.1 1517.2 L554.7 1521 L557.2 1522.6 L560.7 1527.5 L563.9 1531 L567.1 1533.5 L570.2 1536.3 L573.3 1540 L576.7 1543.1 L579.2 1546.4 L581.6 1548.7 L584.2 1552.6 L586.7 1554.8 L589.3 1557.6 L591.9 1561.4 L594.6 1564.4 L597.3 1567.7 L600.1 1571.6 L603 1575.6 L605.9 1578 L608.2 1581.8 L610.6 1584.7 L613 1587.8 L615.5 1591.4 L618.1 1593.7 L620.7 1598 L623.4 1600.9 L626 1604.5 L628.7 1607.8 L631.4 1611.2 L634.1 1614.6 L636.8 1618.4 L639.5 1622.6 L642.1 1625.5 L644.7 1628.7 L647.3 1631.8 L649.8 1634.5 L652.2 1638 L654.6 1641.6 L657.5 1643.7 L660.2 1648.3 L662.8 1652.1 L665.3 1655.3 L667.8 1659.1 L670.3 1662.8 L672.8 1666.5 L675.4 1669.3 L678 1672.5 L680.8 1674.7 L683.8 1677.6 L687 1679.7 L690.3 1682 L693.9 1683.8 L697.6 1686.4 L701.4 1688.7 L705.3 1689.7 L709.3 1691.5 L713.3 1693.1 L717.3 1693.9 L721.2 1695.3 L725.1 1695.6 L728.9 1695.3 L732.5 1695.4 L736.7 1695.8 L740.8 1694.8 L744.8 1693.8 L748.8 1691.7 L752.7 1689.7 L756.6 1686.7 L760.5 1685.6 L764.3 1681.9 L768.2 1680.2 L771.3 1676.9 L774.4 1674.6 L777.4 1672.2 L780.5 1669 L783.6 1665.8 L786.6 1663.4 L789.6 1660 L792.6 1656.5 L795.6 1652.8 L798.6 1649.3 L801.5 1646.1 L804.4 1642.9 L807.2 1640 L810 1637.3 L813.1 1633.6 L816.2 1630.1 L819.2 1626.9 L822.2 1624.6 L825.1 1620.9 L828 1617.8 L830.9 1614.6 L833.8 1611.6 L836.7 1608.2 L839.6 1605.5 L842.5 1602.2 L845.2 1597.6 L848 1595.9 L850.9 1594.4 L853.7 1589.6 L856.5 1587.3 L859.4 1584.8 L862.2 1581.4 L864.9 1579 L867.6 1574.8 L870.2 1571.8 L872.6 1569.1 L875 1565.7 L877.4 1561.7 L879.7 1558 L882 1553.1 L884.1 1548.1 L886.1 1543 L888.1 1538.5 L890.1 1534 L892 1529.9 L893.9 1527.4 L895.7 1525.1 L897.6 1523.9 L902.5 1525.7 L907.4 1529.9 L909.2 1532.8 L911 1535.9 L913 1540.8 L914.9 1545 L916.9 1550.7 L919 1555.5 L921 1559.7 L923.1 1564.2 L925.2 1569.3 L927.2 1572.8 L929.3 1575.9 L931.3 1577.6 L933.3 1579.3 L936.5 1578 L939.5 1574.6 L942.6 1570 L945.9 1565.2 L949.6 1561.8 L953.7 1561.9 L958.1 1562 L962.8 1562.7 L967.5 1563.8 L972.3 1562.8 L975.7 1562.2 L979.2 1559.8 L982.8 1557.8 L986.3 1555.2 L989.9 1552.6 L993.6 1549.1 L997.3 1547.7 L1001 1545.1 L1004.7 1542.9 L1008.6 1542.2 L1012.4 1541 L1016.2 1540.6 L1020.1 1539.6 L1024.1 1538.9 L1028.2 1537.4 L1032.6 1538.3 L1037.2 1537.5 L1040.6 1536.6 L1044.2 1535.9 L1048 1535.8 L1051.8 1534.3 L1055.8 1534.5 L1059.9 1533.7 L1064 1532.7 L1068.2 1532.8 L1072.4 1532.3 L1076.7 1532.5 L1081 1531.6 L1085.3 1530 L1089.5 1529.3 L1093.7 1529.7 L1097.9 1529.1 L1102 1528.3 L1106.1 1527.5 L1110.1 1527.6 L1114.2 1526.6 L1118.2 1526.3 L1122.3 1526.5 L1126.4 1525.7 L1130.4 1524.7 L1134.5 1524.1 L1138.6 1524 L1142.6 1524.3 L1146.7 1522.8 L1150.7 1523.3 L1154.8 1521.7 L1158.9 1521.4 L1162.9 1521.4 L1167 1520.3 L1171.2 1520.2 L1175.6 1519.2 L1180.2 1519.8 L1184.9 1519.8 L1189.7 1518.8 L1194.4 1519 L1199.2 1518.5 L1203.9 1517.5 L1208.4 1519.4 L1212.7 1518.1 L1216.9 1517.8 L1220.7 1517.2 L1224.1 1516.5 L1227.2 1516.8 L1229.9 1514.1 L1232 1513.9 L1236.1 1508.9 L1238.4 1505.9 L1239.9 1510.7 L1242 1515.7 L1245.1 1516.3 L1249.3 1516.3 L1253.8 1516.7 L1258 1517.4 L1262.1 1519.6 L1266.1 1523.1 L1270 1525.2 L1274.1 1527.4 L1277.9 1527 L1281.6 1525.3 L1285.6 1523.3 L1290 1522.8 L1293.5 1520.4 L1297.3 1519.5 L1301.3 1517.7 L1305.5 1518.9 L1309.8 1516.2 L1314.1 1514.8 L1318.3 1514.3 L1322.5 1513.8 L1326.7 1514.1 L1331.1 1512.9 L1335.6 1514.2 L1340 1516.6 L1344.3 1517.9 L1348.3 1516.6 L1351.9 1517.7 L1355 1516.5 L1358.4 1512.3 L1360.9 1510.5 L1364.7 1507 L1367.4 1508.2 L1370.5 1507 L1374.1 1507.4 L1378 1506.5 L1382.2 1508.6 L1386.7 1507.5 L1391.4 1510.3 L1396.1 1512.3 L1401 1510.9 L1405.8 1513.5 L1410.6 1514.7 L1415.3 1513.7 L1419.8 1515 L1423.8 1514 L1427.8 1513.3 L1432 1511.7 L1436.2 1512.2 L1440.4 1511.4 L1444.7 1514.4 L1449 1512 L1453.3 1511 L1457.6 1509.4 L1461.8 1511.6 L1465.9 1508.4 L1469.9 1510.2 L1473.8 1509.3 L1477.6 1507.9 L1481.2 1506.8 L1484.7 1507 L1489.3 1505.4 L1493.7 1506.8 L1497.8 1507.5 L1501.8 1506.5 L1505.7 1506.4 L1509.5 1504.5 L1513.3 1504.9 L1517.2 1503.1 L1521.6 1502.6 L1526 1502.2 L1530.5 1502.3 L1534.8 1498.6 L1539 1497.2 L1542.9 1494.6 L1546.4 1496.2 L1551.1 1495.7 L1555.3 1496.6 L1559.4 1498.7 L1562.8 1502.6 L1566.2 1505.1 L1569.5 1509.7 L1572.7 1512.7 L1575.6 1517 L1577.8 1521.9 L1579.7 1525.2 L1581.5 1529.2 L1583.3 1534.1 L1585 1537.2 L1586.7 1540.2 L1588.6 1544.3 L1590.6 1547.8 L1592.6 1553.8 L1594.6 1557.3 L1596.7 1562.1 L1599 1565.9 L1601.6 1567.3 L1605.4 1570.5 L1609.6 1572.9 L1613.9 1573.1 L1617.8 1575.8 L1621.4 1577.9 L1624.6 1580.8 L1627.7 1585.4 L1630.8 1588.3 L1632.8 1594 L1634.8 1597 L1636.7 1603.1 L1638.6 1605.3 L1640.6 1610.8 L1642.6 1614.5 L1644.8 1616.6 L1647 1618.3 L1650.1 1616.9 L1653.5 1614.6 L1656.9 1611.2 L1660.2 1608.5 L1663.3 1604.5 L1665.4 1602 L1667.3 1598 L1669.1 1593.7 L1670.8 1589.4 L1672.5 1584.3 L1674.1 1580.8 L1675.8 1577.2 L1677.6 1572.4 L1679.5 1569.8 L1682.7 1565.6 L1686.1 1560.2 L1689.4 1557.4 L1692.5 1556 L1694.6 1559.7 L1696.7 1563.3 L1698.6 1568.9 L1700.5 1573.9 L1702.2 1580.3 L1703.9 1583.9 L1705.4 1585.7 L1706.9 1583.7 L1708.2 1580.6 L1709.4 1575.1 L1710.6 1570.4 L1712 1566.1 L1713.1 1560.4 L1714.2 1555.8 L1715.4 1551.9 L1716.6 1546.8 L1717.8 1540.9 L1719.1 1536.6 L1720.5 1532.2 L1721.9 1528.7 L1723.4 1526.9 L1724.9 1524.6 L1727.3 1526.3 L1730 1529 L1732.7 1532.8 L1735.4 1538.5 L1737.9 1542.5 L1739.3 1545.6 L1740.6 1550.7 L1741.7 1553.4 L1742.9 1559.4 L1744 1563.5 L1745.1 1567.1 L1746.2 1571.5 L1747.3 1575.2 L1748.5 1580.9 L1749.7 1584.1 L1751 1589.9 L1752.5 1591.4 L1754.1 1595.3 L1757 1597.8 L1760.1 1603 L1763.4 1607.2 L1766.7 1608.4 L1770 1609.4 L1774.5 1608.5 L1779.1 1606.2 L1784 1605.5 L1786.8 1606.1 L1789.8 1607.5 L1792.9 1612.3 L1796.1 1616.6 L1799.4 1621.6 L1802.7 1624.5 L1806.1 1628.3 L1809.4 1631 L1812.6 1634 L1815.7 1635.6 L1819.3 1633.3 L1822.7 1632 L1826.1 1628.5 L1829.6 1625.3 L1833 1622.2 L1836.6 1619.5 L1840.3 1616.4 L1844.1 1615.2 L1848 1615.2 L1852 1613.9 L1856 1613.3 L1860.1 1612.4 L1864.3 1611.1 L1868.5 1610.2 L1872.1 1608.6 L1876 1606 L1880 1604 L1884.1 1600.5 L1888.2 1598.3 L1892.2 1595.2 L1896 1593.6 L1899.5 1591.5 L1902.7 1591.3 L1905.4 1591.8 L1906.8 1593.9 L1908.1 1595.2 L1909.2 1597.1 L1910.1 1599.6 L1910.9 1601.8 L1911.6 1605.3 L1912.2 1608.5 L1912.6 1611.7 L1913 1616.4 L1913.2 1620.4 L1913.4 1625.8 L1913.5 1629.5 L1913.6 1634.3 L1913.6 1639.9 L1913.6 1644.4 L1913.5 1648.9 L1913.5 1654.7 L1913.4 1659.4 L1913.3 1665.5 L1913.3 1669.4 L1913.3 1674.4 L1913.3 1678.5 L1913.3 1684 L1913.4 1689.6 L1913.6 1693.2 L1913.9 1697 L1914.2 1701.4 L1914.6 1705.6 L1915.1 1710.4 L1915.5 1716.4 L1915.9 1721.3 L1916.3 1726.4 L1916.7 1731.7 L1917.1 1736 L1917.5 1740.9 L1917.9 1747.2 L1918.3 1752.2 L1918.8 1757 L1919.3 1761.6 L1919.7 1766.4 L1920.3 1770.4 L1920.8 1774 L1921.3 1777.5 L1921.9 1780 L1922.6 1782.3 L1923.2 1784.7 L1923.9 1785.2 L1924.7 1786.5 L1925.9 1785 L1927.1 1781.9 L1928.4 1778.1 L1929.8 1772.2 L1931.2 1766.6 L1932.7 1760.8 L1934.2 1755.6 L1935.7 1751.5 L1937.2 1749.1 L1938.8 1747.2 L1940.7 1747.2 L1942.8 1749.4 L1944.9 1752.3 L1947 1757.4 L1949.1 1762.1 L1951 1766.8 L1952.8 1771.7 L1953.7 1774.7 L1954.6 1777.8 L1955.5 1781.2 L1956.3 1784.7 L1957 1788 L1957.8 1792.8 L1958.5 1797.1 L1959.1 1800.1 L1959.8 1805.1 L1960.4 1809.2 L1961 1814.3 L1961.6 1818.5 L1962.1 1823.7 L1962.7 1828.1 L1963.2 1831.9 L1963.7 1836.2 L1964.3 1840.4 L1964.8 1845 L1965.3 1848.4 L1965.8 1852.7 L1966.4 1855.6 L1966.9 1859.9 L1967.7 1864.3 L1968.4 1867.7 L1969.2 1871.7 L1969.9 1875.7 L1970.6 1879.3 L1971.2 1881.6 L1971.9 1886.6 L1972.6 1891.2 L1973.3 1894.8 L1974 1899.4 L1974.4 1903.4 L1974.8 1906 L1975.2 1909.1 L1975.6 1912.6 L1976 1915.3 L1976.4 1919 L1976.8 1922.5 L1977.2 1926.2 L1977.6 1930.4 L1978 1934.1 L1978.4 1939.2 L1978.8 1942.8 L1979.2 1947.1 L1979.6 1950.3 L1980 1955.1 L1980.5 1959.5 L1980.9 1964 L1981.3 1968.5 L1981.7 1972.4 L1982.1 1976.7 L1982.5 1981.9 L1982.9 1986.9 L1983.3 1991.3 L1983.7 1994.7 L1984.1 1998.9 L1984.5 2003.7 L1984.9 2008.2 L1985.3 2013 L1985.7 2016.4 L1986.1 2020.4 L1986.5 2025.3 L1986.9 2028.6 L1987.3 2032.5 L1987.6 2037 L1988 2040.5 L1988.4 2044.6 L1988.8 2049.5 L1989.1 2054.3 L1989.5 2059.4 L1989.8 2064.3 L1990.1 2070 L1990.4 2075 L1990.7 2080.2 L1990.9 2086.2 L1991.2 2090.7 L1991.5 2096.7 L1991.8 2101.8 L1992 2106.6 L1992.3 2111.7 L1992.6 2115.8 L1993 2121.1 L1993.3 2124.9 L1993.7 2129.1 L1994.1 2133.4 L1994.5 2136.4 L1994.9 2139.9 L1995.4 2142.8 L1996 2145.4 L1996.5 2147 L1997.1 2148.7 L1997.8 2148.9 L1998.5 2149.4 L2000 2149.3 L2001.7 2147.4 L2003.6 2143.8 L2005.6 2139.1 L2007.5 2133.9 L2009.4 2128.6 L2011.1 2123.9 L2012.6 2117.6 L2013.3 2115.1 L2013.9 2112.4 L2014.6 2109.1 L2015.1 2105.4 L2015.7 2103 L2016.2 2098.6 L2016.6 2094.9 L2017.1 2091.3 L2017.5 2086.9 L2017.9 2083.2 L2018.2 2078.7 L2018.6 2074.2 L2018.9 2069.9 L2019.2 2066.1 L2019.5 2061.7 L2019.8 2057.1 L2020 2052.6 L2020.3 2048.2 L2020.6 2044.2 L2020.8 2039.9 L2021.1 2034.9 L2021.3 2030.8 L2021.6 2025.6 L2021.8 2021.5 L2022.1 2017.5 L2022.4 2013.2 L2022.7 2009.8 L2023 2004.7 L2023.3 2001.6 L2023.6 1997.6 L2024 1994.1 L2024.3 1989 L2024.6 1985.3 L2024.9 1981.7 L2025.2 1977.4 L2025.4 1972.7 L2025.7 1968.9 L2026 1964.6 L2026.3 1961 L2026.5 1957.3 L2026.8 1953.6 L2027.1 1949.2 L2027.3 1945.3 L2027.6 1941.4 L2027.9 1936.6 L2028.1 1933.2 L2028.4 1929.2 L2028.6 1924.7 L2028.9 1920.3 L2029.2 1916.7 L2029.4 1912.6 L2029.7 1908.6 L2029.9 1903.5 L2030.2 1899.8 L2030.4 1896.8 L2030.6 1892.2 L2030.8 1887.1 L2030.9 1882.4 L2031 1877.5 L2031.1 1872.2 L2031.2 1867.3 L2031.3 1862.2 L2031.3 1856.5 L2031.4 1851.6 L2031.4 1846.4 L2031.5 1840.5 L2031.5 1835.6 L2031.6 1829.9 L2031.7 1825.5 L2031.8 1820.6 L2031.9 1815.4 L2032.1 1811 L2032.3 1806.8 L2032.5 1802.6 L2032.7 1797.8 L2033 1794.6 L2033.3 1790.7 L2033.7 1787.5 L2034.1 1786 L2034.6 1783.6 L2035.2 1782 L2035.8 1780.3 L2036.5 1778.9 L2037.2 1778.7 L2039.2 1779.7 L2041.5 1784.4 L2043.9 1788.1 L2046.5 1794.5 L2049 1798.1 L2051.3 1800 L2052.4 1799.5 L2053.4 1797.1 L2054.4 1795.5 L2055.4 1792.2 L2056.3 1787.3 L2057.2 1784.3 L2058 1778.2 L2058.9 1773 L2059.7 1768.4 L2060.5 1762 L2061.4 1756.6 L2062.2 1750.6 L2063.1 1744.5 L2063.9 1740 L2064.8 1734.6 L2065.8 1729.1 L2066.7 1725.2 L2067.7 1720.6 L2068.8 1717.3 L2069.9 1714.5 L2071.1 1712.2 L2072.4 1711.7 L2075.7 1712.6 L2079.3 1717 L2082.9 1721 L2086.5 1722.2 L2088.6 1721.6 L2090.7 1718.3 L2092.8 1714.8 L2094.9 1709.1 L2097 1703.9 L2099 1698.7 L2101.1 1694.4 L2103.2 1690.5 L2105.3 1688 L2107.5 1687.9 L2109 1688.1 L2110.6 1689.1 L2112.1 1691.9 L2113.7 1694.8 L2115.3 1698.5 L2116.9 1702.8 L2118.5 1707.7 L2120.1 1712.9 L2121.7 1718.3 L2123.3 1723.3 L2124.9 1728.4 L2126.5 1734 L2128.2 1739.1 L2129.8 1743.9 L2131.4 1747.9 L2133 1752.3 L2134.5 1754.9 L2136.1 1758.8 L2137.7 1760.4 L2139.2 1761.3 L2142.8 1759.3 L2146.4 1755.8 L2150 1752.2 L2153.3 1750.4 L2154.6 1751 L2155.8 1753.1 L2156.9 1754.6 L2158 1759 L2158.9 1762.4 L2159.9 1765.8 L2160.7 1771.2 L2161.6 1776.2 L2162.4 1781 L2163.3 1786.2 L2164.1 1791.9 L2165 1796.6 L2165.9 1802.2 L2166.9 1806.5 L2167.9 1811 L2169 1815.5 L2170.2 1819.1 L2171.4 1823.1 L2172.8 1825.5 L2174.3 1828 L2178.6 1830.8 L2183.4 1832.1 L2188.1 1833 L2192 1834.8 L2193.5 1837.2 L2194.7 1839.9 L2195.8 1842.9 L2196.6 1847.5 L2197.4 1851.2 L2198 1854.9 L2198.6 1858.9 L2199 1863.8 L2199.4 1868.8 L2199.8 1874.2 L2200.1 1877.8 L2200.5 1883.6 L2200.9 1887 L2201.3 1892.1 L2201.9 1895.7 L2202.5 1899.8 L2203.3 1903.5 L2204.2 1909 L2205.1 1912.9 L2206 1916.6 L2206.8 1920.2 L2207.7 1925.1 L2208.6 1929.1 L2209.5 1932.4 L2210.3 1937.2 L2211.2 1940.9 L2212 1944.5 L2212.8 1949 L2213.6 1952.8 L2214.4 1958.5 L2215.1 1963 L2215.8 1966.9 L2216.5 1970.8 L2217.3 1975.1 L2218.1 1979.7 L2219 1983.5 L2220 1988 L2221.2 1991.7 L2222.4 1996.5 L2223.8 2000.5 L2225.1 2003.6 L2226.5 2007.3 L2227.9 2010.3 L2229.3 2015.4 L2230.6 2019.6 L2231.7 2022.7 L2232.9 2027.1 L2234 2030 L2235.1 2033.4 L2236.3 2037.9 L2237.4 2041.5 L2238.4 2044.4 L2239.4 2049 L2240.3 2053.1 L2241.2 2058.1 L2241.7 2061.7 L2242.2 2065.3 L2242.7 2069.8 L2243.1 2074.7 L2243.4 2079.1 L2243.8 2083.8 L2244.1 2089.1 L2244.4 2095.2 L2244.7 2100.9 L2244.9 2105.5 L2245.2 2111 L2245.4 2115.6 L2245.7 2120.6 L2245.9 2125.9 L2246.1 2129.6 L2246.4 2133.8 L2246.6 2137.3 L2246.9 2140.8 L2247.2 2142.8 L2247.5 2144.5 L2247.8 2145.6 L2248.2 2145.9 L2248.7 2145.5 L2249.3 2143.3 L2249.9 2137.8 L2250.5 2133.8 L2251.1 2127.2 L2251.7 2121.3 L2252.4 2115.3 L2253 2109.5 L2253.6 2104.5 L2254.1 2100.3 L2254.7 2098.6 L2255.2 2096.3 L2256.1 2098.8 L2257 2104 L2257.8 2110.6 L2258.5 2115.3 L2258.7 2118" fill="none" stroke="#ED7D31" stroke-width="7.4" stroke-linejoin="round" stroke-linecap="round" clip-path="url(#clipB)"/>
<path d="M333 1496.1 L333.9 1497.3 L336.5 1494.8 L340.4 1496.8 L345.3 1495.4 L350.8 1495.3 L356.7 1497.7 L362.6 1495.9 L368.2 1495.9 L373.2 1497.2 L377.2 1498.3 L380 1498 L383.1 1501.5 L385 1503.3 L386.1 1509.2 L388.4 1513.5 L390.2 1513 L392.7 1512.6 L395.8 1511.9 L399.4 1512.3 L403.4 1511 L407.8 1509.1 L412.4 1507.6 L417.3 1504 L422.3 1503.3 L427.3 1501.6 L432.3 1500.2 L437.2 1496.6 L441.9 1495.5 L446.4 1492.5 L450.4 1493.4 L454.1 1491.2 L457.2 1492.2 L459.8 1495.8 L462.7 1494.7 L464.9 1502 L466.7 1506.5 L468 1511.3 L469.1 1517.6 L470 1522.8 L470.8 1527.6 L471.7 1529.1 L472.8 1529.7 L474.1 1528.2 L475.1 1524.1 L476.1 1520.2 L477.4 1514.3 L479.3 1512.1 L481.8 1505.7 L484.9 1503.5 L488.4 1500.8 L492 1496.9 L495.6 1498.8 L498.8 1492 L503.2 1491.2 L507.4 1488.4 L511.8 1490 L514.9 1487.1 L518.1 1492.6 L521.4 1493.6 L524.7 1497.6 L528 1500.5 L531.2 1505.1 L534.4 1506.3 L537.5 1510.9 L540.6 1514.8 L543.8 1519.8 L547.1 1518.4 L550.7 1525.6 L554.1 1527.1 L557.7 1527.2 L561.5 1529.4 L565.4 1530.6 L569.2 1533.2 L573 1534.5 L576.7 1536.7 L579.7 1539.2 L582.6 1541.9 L585.4 1544.9 L588.2 1547.7 L591 1552.4 L593.8 1554 L596.7 1556.8 L599.6 1562 L602.7 1565.6 L605.9 1569.5 L608.4 1572 L611.1 1574.8 L613.9 1578 L616.7 1581.3 L619.6 1583.7 L622.6 1586.8 L625.6 1591 L628.6 1593.6 L631.7 1596.1 L634.7 1600.7 L637.7 1603.2 L640.7 1605.8 L643.6 1608.6 L646.5 1612.4 L649.3 1614.9 L652 1617.8 L654.6 1620.6 L657.5 1624.4 L660.3 1628.7 L662.9 1631.6 L665.4 1634.7 L667.9 1639.2 L670.3 1642.4 L672.8 1646.2 L675.3 1649.6 L678 1652.1 L680.8 1655 L683.8 1657.7 L687 1659.7 L690.5 1662.8 L694.2 1665.3 L698.1 1666.8 L702.1 1668.6 L706.2 1670.4 L710.4 1671.8 L714.7 1673.1 L718.9 1674.5 L723.2 1675.2 L727.5 1676 L731.6 1675.7 L735.7 1676.6 L739.5 1676 L743.5 1674.7 L747.4 1673.1 L751.4 1672.8 L755.4 1671.7 L759.4 1669 L763.3 1667.1 L767.2 1664.9 L770.9 1663.2 L774.6 1660.2 L778 1658.8 L781.3 1655.8 L784.4 1654.1 L787.9 1650.8 L791 1647.6 L793.9 1643.8 L796.5 1640.8 L799.1 1637.6 L801.7 1634.5 L804.3 1630.9 L807 1627 L810 1624.2 L812.8 1621.5 L815.6 1618.1 L818.5 1615.1 L821.4 1612.2 L824.4 1609.8 L827.4 1606.8 L830.5 1603.2 L833.5 1600.9 L836.5 1597.6 L839.5 1594.6 L842.5 1592.6 L845.5 1589.5 L848.6 1585.9 L851.7 1583.5 L854.8 1580.9 L857.9 1577.6 L860.9 1574.9 L864 1572.4 L866.9 1568.3 L869.7 1566.2 L872.4 1563.2 L875 1559.8 L877.3 1555.5 L879.4 1552.2 L881.4 1547.2 L883.3 1543.2 L885.2 1538.5 L887 1533.7 L888.7 1528.8 L890.4 1524.9 L892.2 1522 L893.9 1518.4 L895.7 1517 L897.6 1515.9 L901.9 1516.1 L906.3 1520.5 L910.6 1523.9 L912.4 1527.4 L914.2 1528.8 L916 1532.7 L917.8 1538.7 L919.6 1543.3 L921.3 1547.8 L923.1 1552.8 L924.8 1556.6 L926.6 1561.4 L928.3 1564.8 L930 1568.1 L931.6 1570.5 L933.3 1570.9 L935.8 1569.8 L938.2 1565.8 L940.5 1561.4 L943.2 1557.4 L946.3 1554.6 L950.4 1554.4 L955.2 1553.7 L960.1 1555.7 L964.9 1555.4 L969 1556.8 L973.9 1556.3 L978.8 1557 L981.9 1555.4 L985.2 1554.1 L988.9 1552.5 L992.7 1549.9 L996.7 1547.8 L1000.7 1545.6 L1004.7 1545.5 L1008.5 1543.6 L1012.2 1542.7 L1016 1542 L1019.9 1542.2 L1024 1539.8 L1028.2 1540 L1032.6 1539 L1037.2 1538.7 L1040.6 1537.2 L1044.2 1537.4 L1048 1537.5 L1051.8 1537.4 L1055.8 1537 L1059.9 1535.5 L1064 1535.6 L1068.2 1535.1 L1072.4 1534.2 L1076.7 1533.8 L1081 1534.4 L1085.3 1533.8 L1089.5 1533.2 L1093.7 1533.4 L1097.9 1532 L1102 1532.2 L1106.1 1531.5 L1110.1 1531 L1114.2 1530.8 L1118.2 1530.1 L1122.3 1529.6 L1126.4 1529.1 L1130.4 1529.3 L1134.5 1527.7 L1138.6 1527.8 L1142.6 1527 L1146.7 1526.1 L1150.7 1526.1 L1154.8 1524.9 L1158.9 1525.3 L1162.9 1524 L1167 1523.7 L1171.2 1523.6 L1175.7 1523.2 L1180.4 1522.6 L1185.2 1521.9 L1190.1 1520.7 L1195 1519.7 L1199.9 1519.7 L1204.6 1518.9 L1209.3 1517.8 L1213.7 1518.2 L1217.8 1517.6 L1221.5 1516.9 L1224.9 1517.6 L1227.8 1517.1 L1230.2 1517.8 L1232 1519.2 L1234.3 1523.1 L1235.2 1527.1 L1236.1 1523.9 L1236.9 1519.3 L1237.6 1513.1 L1238.4 1511 L1239 1513 L1239.7 1519.3 L1241.7 1524.3 L1245.1 1525.1 L1249.8 1523.9 L1255.1 1524.3 L1260.2 1523.8 L1264.4 1523.7 L1267.9 1527.2 L1270.8 1529.4 L1274.1 1532 L1277.6 1532.4 L1281.4 1531.2 L1285.5 1529.4 L1290 1526.1 L1293.5 1524.3 L1297.3 1524.9 L1301.3 1521.8 L1305.5 1521.5 L1309.8 1519.1 L1314.1 1519.9 L1318.3 1518.7 L1322.5 1517.9 L1326.7 1517.4 L1331.1 1517.9 L1335.6 1518.4 L1340 1519.9 L1344.3 1520.7 L1348.4 1521.5 L1352 1520.8 L1355 1522.3 L1358.5 1518 L1360.9 1515.1 L1364.7 1512.1 L1367.4 1509.5 L1370.5 1508.6 L1374.1 1511.4 L1378 1510.4 L1382.2 1511.5 L1386.7 1512 L1391.3 1513.3 L1396.1 1513.1 L1401 1515.1 L1405.8 1515.6 L1410.6 1516.7 L1415.3 1515.1 L1419.8 1518.1 L1423.7 1517.7 L1427.8 1515.7 L1432 1516.4 L1436.2 1516.7 L1440.4 1516.9 L1444.7 1515.9 L1449 1516.7 L1453.3 1514.9 L1457.6 1513.5 L1461.8 1513.2 L1465.9 1513.9 L1469.9 1512.2 L1473.8 1512.9 L1477.6 1512.6 L1481.2 1511.8 L1484.7 1511.8 L1489.4 1510.2 L1493.8 1509.6 L1498.1 1508.3 L1502.2 1507.6 L1506.2 1506.1 L1510 1506.7 L1513.7 1506.2 L1517.2 1506.3 L1521.7 1509.4 L1525.9 1512.5 L1529.9 1514.7 L1533.5 1518.3 L1536.7 1518.2 L1539.1 1516.1 L1540.9 1510.5 L1542.4 1504.9 L1544.2 1502.5 L1546.4 1499.8 L1550.4 1499.8 L1555 1500.9 L1559.4 1503.9 L1562.2 1504.6 L1565 1508.1 L1567.8 1509.7 L1570.5 1511.7 L1573.1 1516.8 L1575.6 1521.9 L1578 1522.7 L1580.2 1528.8 L1582.3 1531.2 L1584.4 1535.4 L1586.4 1539.6 L1588.6 1543.5 L1591 1546.7 L1593.4 1552.2 L1595.9 1556.7 L1598.6 1560.8 L1601.6 1562.1 L1605.5 1566.3 L1609.8 1568 L1614.1 1568.9 L1617.8 1564.8 L1620.9 1562.7 L1623.5 1555.3 L1625.7 1552.2 L1627.5 1550.3 L1628.4 1550.1 L1628.9 1552.9 L1629.2 1558.9 L1629.4 1564.5 L1629.6 1568.7 L1630 1574.4 L1630.8 1576.7 L1632.1 1582.9 L1633.8 1588.8 L1635.7 1593.7 L1637.5 1599.3 L1639.2 1599.8 L1640.5 1599.8 L1641.5 1599.7 L1642.1 1593.1 L1642.6 1587.2 L1643.1 1582 L1643.8 1579.5 L1644.6 1582.1 L1645.3 1586.5 L1646.1 1589.7 L1647.1 1597.3 L1648.4 1604.2 L1650.3 1604.6 L1654.2 1605.8 L1658.9 1602.3 L1663.3 1598.2 L1665.2 1597 L1667 1593.7 L1668.8 1589.5 L1670.4 1586.3 L1672 1580.9 L1673.5 1576.9 L1675 1573.4 L1676.5 1568.4 L1678 1563.3 L1679.5 1559.9 L1680.9 1555.8 L1682.3 1551.8 L1683.7 1546.6 L1685.1 1540.6 L1686.5 1535.1 L1687.9 1530 L1689.3 1524.9 L1690.6 1521.1 L1691.8 1517 L1692.9 1513.4 L1694 1510.1 L1694.9 1508 L1695.7 1508.1 L1696.5 1508.4 L1697 1511.3 L1697.4 1513.9 L1697.7 1519.3 L1698 1525.5 L1698.2 1529.4 L1698.6 1534.4 L1699 1539.9 L1699.5 1545.2 L1700 1549.9 L1700.5 1554.1 L1701.1 1559.5 L1701.7 1565.2 L1702.3 1570 L1702.9 1575.3 L1703.5 1579.2 L1704.1 1581.8 L1704.8 1584.4 L1705.4 1585.3 L1706.1 1584.2 L1706.7 1581.7 L1707.3 1579.5 L1708 1575.7 L1708.7 1569.5 L1709.4 1564.2 L1710.2 1559.5 L1711 1554.1 L1712 1549.3 L1713 1546.5 L1714.1 1540.3 L1715.3 1535.4 L1716.5 1530.4 L1717.8 1525.3 L1719.1 1521.1 L1720.5 1517.5 L1721.9 1514.8 L1723.4 1512.2 L1724.9 1510.9 L1727.4 1511.5 L1730.1 1516.2 L1732.8 1520.8 L1735.5 1526.5 L1737.9 1531 L1741.3 1533.6 L1744.4 1536.7 L1745.7 1539.2 L1746.9 1543.2 L1748 1547.4 L1749 1551.3 L1750 1556.2 L1751.2 1561.6 L1752.5 1564.4 L1754.1 1569 L1756.3 1573.2 L1758.8 1579.7 L1761.4 1583.9 L1764.2 1587.9 L1767.1 1590.9 L1770 1592.5 L1774.4 1591 L1779 1586.1 L1784 1585.5 L1786.7 1586.7 L1789.7 1587.8 L1792.8 1592.3 L1796 1595.9 L1799.4 1598.7 L1802.7 1603.3 L1806.1 1607.1 L1809.4 1610.1 L1812.6 1612.8 L1815.7 1612.6 L1819.3 1612.6 L1822.8 1611 L1826.2 1608.4 L1829.6 1604.6 L1833 1601 L1836.6 1598.5 L1840.3 1594.6 L1844.2 1594.8 L1848.3 1592.9 L1852.5 1591.3 L1856.7 1591 L1860.8 1589.4 L1864.8 1588.5 L1868.5 1588.6 L1873.2 1587 L1877.5 1586.7 L1881.7 1584.4 L1886 1582.7 L1890.1 1581.2 L1894.4 1580.6 L1898.6 1577.6 L1902.4 1576.1 L1905.4 1576.1 L1907.9 1578.5 L1909.3 1583 L1910.6 1589 L1911.1 1591.4 L1911.5 1593.9 L1911.9 1596.3 L1912.2 1599 L1912.6 1602.2 L1912.9 1605.2 L1913.2 1609.5 L1913.5 1614 L1913.7 1617.9 L1914 1622.4 L1914.2 1626.2 L1914.4 1631.6 L1914.6 1636 L1914.8 1640.6 L1915 1645.4 L1915.2 1649.2 L1915.4 1654.6 L1915.6 1659.2 L1915.8 1665 L1916 1668.8 L1916.2 1673.3 L1916.3 1678.3 L1916.5 1681.8 L1916.8 1687 L1917 1690.2 L1917.2 1694.3 L1917.4 1697.5 L1917.7 1701.6 L1918.1 1705.4 L1918.4 1711.8 L1918.7 1716.6 L1919 1722.4 L1919.3 1727.3 L1919.6 1733 L1919.9 1737.8 L1920.3 1742.4 L1920.7 1746.2 L1921.1 1749.5 L1921.7 1752.2 L1922.3 1753.2 L1923 1753.5 L1923.9 1752.5 L1924.8 1750.5 L1925.8 1745.9 L1926.8 1741.3 L1928 1735.3 L1929.2 1729.2 L1930.5 1724.7 L1932 1720.7 L1933.6 1716.7 L1935.3 1715 L1937.6 1715.3 L1940.2 1717.6 L1943.1 1719.5 L1946.1 1722.9 L1949 1727.3 L1951.8 1731.3 L1954.3 1735.7 L1956.4 1739.8 L1957.6 1743.1 L1958.6 1747.6 L1959.4 1752.2 L1960 1757.4 L1960.5 1762.4 L1960.9 1768.3 L1961.2 1774 L1961.4 1779.4 L1961.6 1785 L1961.8 1790.3 L1961.9 1794.6 L1962.1 1798.6 L1962.3 1801.6 L1962.6 1804.7 L1962.9 1806.2 L1963.4 1806.7 L1964.2 1805 L1965.1 1801.6 L1966 1796.7 L1966.9 1789.4 L1967.8 1782.8 L1968.7 1777.2 L1969.6 1772.9 L1970.4 1771.6 L1970.9 1771.8 L1971.4 1773.3 L1971.9 1775.8 L1972.4 1778.8 L1972.8 1782.2 L1973.3 1786.1 L1973.7 1791.1 L1974.2 1795.5 L1974.6 1801.4 L1975 1806.4 L1975.4 1812 L1975.8 1817.8 L1976.1 1823.2 L1976.5 1827.7 L1976.8 1833.1 L1977.2 1838 L1977.5 1841.6 L1977.8 1845.3 L1978.1 1850.3 L1978.4 1854.3 L1978.6 1858.4 L1978.8 1862.1 L1979 1866 L1979.2 1869.9 L1979.3 1874.2 L1979.5 1877.9 L1979.8 1882 L1980 1885.9 L1980.3 1890.9 L1980.6 1895 L1981 1900.3 L1981.3 1902.4 L1981.5 1906.7 L1981.8 1910.2 L1982.2 1913.7 L1982.5 1918.3 L1982.8 1921.9 L1983.2 1925.8 L1983.6 1929.8 L1984 1935 L1984.4 1938.9 L1984.8 1943.3 L1985.2 1947.3 L1985.6 1952.6 L1986 1956.9 L1986.5 1961.1 L1986.9 1965.8 L1987.4 1969.8 L1987.8 1975.3 L1988.3 1979.2 L1988.7 1984.5 L1989.2 1988.5 L1989.6 1992.8 L1990.1 1997.6 L1990.5 2001.8 L1991 2005.5 L1991.4 2010 L1991.9 2014.3 L1992.3 2017.8 L1992.7 2021.1 L1993.1 2025.2 L1993.5 2028.3 L1993.9 2031.7 L1994.3 2035 L1994.6 2037.9 L1995 2040.5 L1995.6 2045.4 L1996.2 2051.7 L1996.7 2056.7 L1997.2 2061.5 L1997.7 2065.9 L1998.4 2069.9 L1999.2 2070.9 L2000.3 2071.7 L2002 2071.7 L2004 2068.4 L2006.3 2065 L2008.6 2058.9 L2010.7 2053.4 L2012.6 2048 L2013.3 2045.4 L2014 2042.4 L2014.6 2039.4 L2015.2 2036 L2015.7 2032.6 L2016.2 2029.2 L2016.7 2026.2 L2017.2 2022.2 L2017.6 2018 L2018 2014.2 L2018.4 2010.3 L2018.8 2006.2 L2019.1 2001.4 L2019.4 1997.1 L2019.7 1992.9 L2020 1989.4 L2020.3 1984 L2020.6 1979.9 L2020.8 1974.3 L2021.1 1970.7 L2021.3 1965.3 L2021.6 1960.9 L2021.8 1956.6 L2022 1952.4 L2022.3 1948.1 L2022.5 1943.8 L2022.8 1939.5 L2023 1935 L2023.2 1932.3 L2023.4 1927.4 L2023.6 1923.5 L2023.7 1919.9 L2023.8 1915.3 L2023.9 1910.9 L2024 1906.5 L2024 1902.8 L2024.1 1897.3 L2024.1 1893 L2024.1 1889 L2024.1 1883.8 L2024.2 1879.9 L2024.2 1876.3 L2024.2 1871.3 L2024.2 1867.2 L2024.2 1863.1 L2024.2 1858.1 L2024.3 1854.4 L2024.3 1849.9 L2024.4 1845.6 L2024.5 1841.9 L2024.6 1838 L2024.7 1834 L2024.8 1830.1 L2025 1827 L2025.2 1823.5 L2025.4 1819.7 L2025.7 1816.1 L2026 1812.5 L2026.3 1809.5 L2026.7 1806.4 L2027.5 1801.3 L2028.2 1796 L2029.1 1790.3 L2030 1784.5 L2030.9 1779.2 L2031.9 1774.8 L2033.1 1770.9 L2034.3 1767.9 L2035.7 1766.2 L2037.2 1764.3 L2039.8 1767 L2042.7 1769.9 L2045.8 1775.4 L2048.7 1780 L2051.3 1781.8 L2052.7 1781.1 L2053.9 1779.9 L2054.9 1775.6 L2055.9 1772.4 L2056.7 1767.2 L2057.5 1762.4 L2058.3 1756.6 L2059.1 1752.5 L2059.9 1746.2 L2060.8 1740.9 L2061.8 1737.4 L2062.7 1732.5 L2063.7 1728 L2064.6 1722.8 L2065.6 1717.3 L2066.6 1711.7 L2067.6 1706.9 L2068.6 1702.5 L2069.6 1697.1 L2070.6 1692.3 L2071.7 1688.8 L2072.7 1684.7 L2073.8 1683.1 L2074.8 1680.8 L2075.9 1679.9 L2077.6 1682.2 L2079.2 1686.6 L2080.8 1692.2 L2082.5 1698.3 L2084.4 1703.2 L2086.5 1705.4 L2088.2 1703.6 L2090.1 1700.4 L2092.1 1698.4 L2094.2 1692.9 L2096.4 1687.7 L2098.6 1682.9 L2100.9 1677.7 L2103.1 1674.2 L2105.3 1670.4 L2107.5 1669.5 L2111.1 1669.6 L2114.7 1673 L2118.3 1675.9 L2121.6 1680.6 L2123.2 1683.5 L2124.7 1685.9 L2126 1690.4 L2127.3 1695.4 L2128.5 1699.9 L2129.7 1704.8 L2130.9 1710.1 L2132.1 1714.9 L2133.3 1718.6 L2134.6 1722.7 L2136 1726.1 L2137.5 1728.2 L2139.2 1729.5 L2143.8 1727.5 L2148.8 1724.5 L2153.3 1722.3 L2154.8 1723.7 L2156.1 1725.8 L2157.3 1728.8 L2158.4 1732.5 L2159.4 1736.4 L2160.3 1741.5 L2161.2 1746.9 L2162.1 1751.8 L2162.9 1757.2 L2163.8 1762.4 L2164.7 1767.3 L2165.7 1772.8 L2166.8 1776.1 L2168 1780.4 L2169.3 1783.8 L2170.8 1785.8 L2175.5 1789.7 L2180.6 1792.3 L2184.9 1793.3 L2186.4 1790.4 L2187.7 1787.2 L2188.6 1782.5 L2189.4 1776.6 L2189.9 1769.8 L2190.4 1763.7 L2190.8 1759 L2191.1 1754.3 L2191.5 1751.5 L2192 1750.5 L2192.4 1751.2 L2192.6 1752.3 L2192.8 1754.8 L2192.9 1759.2 L2193 1762.7 L2193.1 1767.1 L2193.1 1771.8 L2193.2 1778 L2193.4 1782.7 L2193.6 1788.1 L2193.9 1793.9 L2194.3 1798.7 L2194.8 1803.2 L2195.5 1806.3 L2196.6 1810.3 L2197.9 1815.8 L2199.3 1821 L2200.9 1825.6 L2202.5 1830.6 L2204.2 1834.4 L2206 1837.3 L2207.7 1840.5 L2209.5 1841.9 L2213.1 1841.7 L2216.5 1842.4 L2217.4 1842.6 L2218.2 1845.5 L2218.8 1848.1 L2219.3 1849.9 L2219.8 1854.2 L2220.2 1858.2 L2220.4 1862.2 L2220.7 1867.2 L2220.9 1872 L2221.1 1877.5 L2221.2 1882.6 L2221.4 1887.3 L2221.6 1894 L2221.8 1899.2 L2222 1903.8 L2222.3 1909.6 L2222.6 1914.9 L2223.1 1918 L2223.6 1922.7 L2224.3 1926.5 L2225 1930.3 L2225.9 1932.8 L2227 1934.6 L2230.3 1939.3 L2234.2 1940.7 L2238 1942.9 L2241.2 1946.6 L2242.7 1948.4 L2244 1952.1 L2244.9 1956.5 L2245.7 1960.4 L2246.3 1965.1 L2246.8 1969.7 L2247.2 1975.7 L2247.7 1979.7 L2248.2 1984.5 L2248.6 1988.4 L2248.9 1992.9 L2249.2 1997 L2249.4 2002.8 L2249.7 2008.7 L2249.8 2013.5 L2250 2019.5 L2250.1 2024.9 L2250.3 2030 L2250.4 2036.1 L2250.6 2039.8 L2250.7 2043.6 L2250.9 2046.4 L2251.1 2049.1 L2251.4 2050.5 L2251.7 2051.2 L2252 2050.6 L2252.5 2049.5 L2252.9 2046 L2253.4 2042.1 L2253.9 2037.1 L2254.5 2032.3 L2255 2025 L2255.6 2018.7 L2256.1 2013.1 L2256.6 2007 L2257.1 2001.1 L2257.6 1995.4 L2257.9 1991.1 L2258.3 1987.4 L2258.5 1983.7 L2258.6 1981.5 L2258.7 1981.4" fill="none" stroke="#A5A5A5" stroke-width="7.4" stroke-linejoin="round" stroke-linecap="round" clip-path="url(#clipB)"/>
<path d="M373 2745.5 L373.4 2745.5 L374.5 2745.5 L376.4 2745.6 L378.8 2745.6 L381.9 2745.7 L385.4 2745.8 L389.4 2745.9 L393.7 2746 L398.4 2746.1 L403.4 2746.2 L408.6 2746.3 L414 2746.5 L419.5 2746.6 L425 2746.8 L430.5 2747 L435.9 2747.1 L441.2 2747.3 L446.3 2747.5 L451.2 2747.7 L455.7 2747.9 L459.9 2748.1 L463.7 2748.3 L467 2748.5 L472 2748.8 L476.6 2749.1 L481 2749.4 L485 2749.7 L488.9 2750.1 L492.7 2750.6 L496.3 2751.2 L500 2752 L504.8 2753.2 L509.5 2754.5 L513.9 2756.1 L518.1 2758 L522 2760.5 L525.1 2763.1 L528 2766 L530.7 2769.3 L533.3 2772.8 L535.7 2776.6 L538 2780.5 L539.8 2783.8 L541.4 2787.3 L543 2791 L544.4 2794.9 L545.8 2798.8 L547.2 2802.9 L548.5 2807 L549.7 2811.2 L551 2815.5 L552.1 2819.3 L553.1 2823.1 L554 2827 L555 2831 L555.8 2835 L556.7 2839.1 L557.6 2843.2 L558.4 2847.5 L559.3 2851.9 L560.1 2856.3 L561.1 2860.8 L562 2865.5 L562.7 2869 L563.4 2872.6 L564.1 2876.3 L564.9 2880.1 L565.6 2883.9 L566.3 2887.8 L567 2891.7 L567.8 2895.7 L568.5 2899.7 L569.3 2903.8 L570 2907.9 L570.8 2912 L571.5 2916.2 L572.3 2920.3 L573.1 2924.5 L573.9 2928.7 L574.7 2932.9 L575.5 2937.1 L576.4 2941.2 L577.2 2945.4 L578.1 2949.5 L578.9 2953.4 L579.8 2957.2 L580.6 2961.1 L581.5 2965 L582.4 2969 L583.3 2972.9 L584.2 2976.9 L585.2 2980.8 L586.1 2984.8 L587.1 2988.8 L588 2992.7 L589 2996.7 L589.9 3000.7 L590.9 3004.7 L591.9 3008.7 L592.8 3012.7 L593.8 3016.7 L594.7 3020.8 L595.7 3024.8 L596.6 3028.8 L597.6 3032.8 L598.5 3036.7 L599.4 3040.7 L600.3 3044.7 L601.2 3048.7 L602.1 3052.6 L603 3056.6 L603.8 3060.6 L604.7 3064.5 L605.6 3068.5 L606.4 3072.5 L607.3 3076.5 L608.2 3080.4 L609 3084.4 L609.9 3088.4 L610.7 3092.3 L611.6 3096.3 L612.5 3100.3 L613.3 3104.3 L614.2 3108.2 L615 3112.2 L615.9 3116.2 L616.7 3120.2 L617.6 3124.1 L618.4 3128.1 L619.3 3132.1 L620.1 3136 L621 3140 L621.9 3144 L622.7 3148 L623.6 3152 L624.5 3156.1 L625.4 3160.1 L626.3 3164.2 L627.2 3168.3 L628.1 3172.4 L629 3176.4 L629.9 3180.5 L630.7 3184.6 L631.6 3188.6 L632.5 3192.7 L633.4 3196.7 L634.3 3200.7 L635.1 3204.7 L636 3208.6 L636.8 3212.5 L637.7 3216.4 L638.5 3220.2 L639.3 3224 L640.1 3227.7 L640.8 3231.4 L641.6 3235 L642.5 3239.4 L643.4 3243.6 L644.2 3247.8 L645 3251.9 L645.8 3255.9 L646.6 3259.9 L647.3 3263.9 L648.1 3267.8 L648.9 3271.7 L649.6 3275.6 L650.4 3279.5 L651.2 3283.4 L652 3287.4 L652.8 3291.3 L653.7 3295.4 L654.6 3299.5 L655.5 3303.5 L656.4 3307.4 L657.4 3311.4 L658.3 3315.4 L659.3 3319.5 L660.3 3323.5 L661.3 3327.6 L662.4 3331.6 L663.4 3335.7 L664.4 3339.8 L665.5 3343.9 L666.5 3348 L667.5 3352.1 L668.6 3356.2 L669.6 3360.3 L670.6 3364.4 L671.5 3368.4 L672.5 3372.5 L673.4 3376.6 L674.4 3380.7 L675.3 3384.8 L676.2 3388.9 L677.1 3393 L677.9 3397.2 L678.8 3401.3 L679.7 3405.5 L680.6 3409.6 L681.4 3413.7 L682.3 3417.8 L683.2 3421.9 L684.1 3425.9 L685 3429.9 L685.9 3433.9 L686.8 3437.8 L687.7 3441.7 L688.7 3445.5 L689.8 3449.8 L690.9 3454.1 L692 3458.4 L693.1 3462.7 L694.2 3466.9 L695.3 3471.1 L696.5 3475.2 L697.6 3479.3 L698.8 3483.3 L700 3487.2 L701.2 3491.1 L702.4 3494.9 L703.6 3498.7 L704.9 3502.3 L706.4 3506.5 L707.9 3510.6 L709.4 3514.7 L710.9 3518.7 L712.5 3522.6 L714.1 3526.4 L715.7 3530 L717.4 3533.4 L719.2 3536.7 L721.1 3539.7 L724 3544 L726.8 3547.9 L729.9 3551.4 L733.4 3554.5 L737.4 3557 L741.2 3558.6 L745.6 3559.9 L750.4 3560.9 L755.4 3561.7 L760.4 3562.1 L765.1 3562.2 L769.4 3562 L773.1 3561.5 L778.1 3559.9 L782.1 3557.4 L786 3553.8 L788.3 3551.1 L790.5 3547.7 L792.7 3544 L794.9 3539.9 L796.9 3535.7 L798.9 3531.4 L800.7 3527.3 L802.3 3523.5 L803.9 3519.5 L805.3 3515.6 L806.6 3511.7 L807.7 3507.9 L808.8 3503.8 L810 3499.5 L811 3495.7 L812 3491.8 L813 3487.7 L813.9 3483.5 L814.9 3479.3 L815.8 3475 L816.7 3470.6 L817.6 3466.2 L818.5 3461.8 L819.2 3457.9 L819.9 3454 L820.6 3450.1 L821.3 3446.1 L821.9 3442.1 L822.6 3438.1 L823.2 3434 L823.9 3429.9 L824.5 3425.7 L825.3 3421.4 L826 3417 L826.6 3413.3 L827.3 3409.6 L828 3405.8 L828.7 3401.9 L829.4 3398 L830.1 3394 L830.9 3390 L831.6 3385.9 L832.4 3381.9 L833.1 3377.8 L833.8 3373.7 L834.6 3369.6 L835.3 3365.6 L836.1 3361.5 L836.8 3357.5 L837.5 3353.5 L838.2 3349.5 L838.9 3345.6 L839.6 3341.6 L840.3 3337.6 L841 3333.7 L841.7 3329.7 L842.3 3325.7 L843 3321.8 L843.7 3317.8 L844.4 3313.8 L845.1 3309.8 L845.7 3305.9 L846.4 3301.9 L847.1 3297.9 L847.8 3294 L848.5 3290 L849.2 3286 L849.9 3282.1 L850.6 3278.1 L851.3 3274.1 L851.9 3270.2 L852.6 3266.2 L853.3 3262.2 L854 3258.2 L854.7 3254.3 L855.4 3250.3 L856.1 3246.3 L856.8 3242.4 L857.5 3238.4 L858.2 3234.4 L859 3230.5 L859.7 3226.5 L860.4 3222.5 L861.2 3218.6 L861.9 3214.6 L862.7 3210.6 L863.5 3206.6 L864.2 3202.7 L865 3198.7 L865.8 3194.7 L866.5 3190.8 L867.3 3186.8 L868.1 3182.8 L868.9 3178.9 L869.7 3174.9 L870.4 3170.9 L871.2 3167 L872 3163 L872.8 3159 L873.6 3155.1 L874.4 3151.1 L875.2 3147.1 L876 3143.1 L876.8 3139.1 L877.6 3135.1 L878.4 3131.2 L879.2 3127.2 L880 3123.2 L880.8 3119.2 L881.6 3115.3 L882.4 3111.3 L883.2 3107.4 L883.9 3103.4 L884.7 3099.5 L885.5 3095.4 L886.3 3091.3 L887 3087.2 L887.8 3083.1 L888.5 3079 L889.3 3074.9 L890 3070.8 L890.7 3066.8 L891.5 3062.7 L892.2 3058.7 L893 3054.7 L893.7 3050.7 L894.5 3046.8 L895.2 3042.9 L896 3039 L896.9 3034.6 L897.8 3030.3 L898.6 3026 L899.5 3021.8 L900.4 3017.5 L901.3 3013.4 L902.2 3009.2 L903.1 3005.1 L904 3001 L905 2997 L906 2993 L907 2989 L908.1 2984.7 L909.3 2980.5 L910.5 2976.4 L911.7 2972.3 L912.9 2968.2 L914.1 2964.2 L915.4 2960.2 L916.7 2956.1 L918.1 2952.1 L919.5 2948 L920.9 2944.1 L922.2 2940.1 L923.7 2936.1 L925.1 2932.1 L926.6 2928 L928.1 2924 L929.7 2920.1 L931.2 2916.3 L932.8 2912.7 L934.4 2909.2 L936 2906 L938.2 2902 L940.5 2898.5 L942.9 2895.2 L945.3 2892 L947.6 2888.6 L950 2885 L952 2881.6 L954 2878 L955.9 2874.4 L957.9 2870.7 L959.9 2866.9 L962 2863 L964.3 2859 L966.8 2855 L968.9 2851.7 L971 2848.3 L973.3 2844.7 L975.7 2841.1 L978.1 2837.4 L980.6 2833.6 L983.2 2829.9 L985.8 2826.3 L988.4 2822.7 L991.1 2819.2 L993.8 2815.9 L996.6 2812.8 L999.3 2810 L1002.7 2806.8 L1006.1 2803.8 L1009.5 2801 L1013 2798.4 L1016.5 2795.9 L1020.2 2793.6 L1023.9 2791.3 L1027.8 2789.1 L1031.8 2787 L1035.2 2785.3 L1038.7 2783.7 L1042.2 2782.1 L1045.8 2780.7 L1049.5 2779.3 L1053.3 2777.9 L1057.1 2776.6 L1061 2775.4 L1064.9 2774.2 L1069 2773.1 L1073.1 2772 L1077.2 2771 L1080.9 2770.1 L1084.7 2769.3 L1088.6 2768.5 L1092.5 2767.7 L1096.5 2767 L1100.6 2766.3 L1104.7 2765.7 L1108.8 2765.1 L1113 2764.5 L1117.2 2764 L1121.4 2763.6 L1125.6 2763.2 L1129.7 2762.8 L1133.9 2762.5 L1138 2762.2 L1142.1 2762 L1146.1 2761.8 L1150.2 2761.7 L1154.3 2761.7 L1158.3 2761.7 L1162.4 2761.8 L1166.4 2761.9 L1170.5 2762.1 L1174.6 2762.3 L1178.6 2762.5 L1182.7 2762.8 L1186.7 2763.1 L1190.8 2763.4 L1194.9 2763.8 L1198.9 2764.2 L1203 2764.6 L1207 2765 L1211.1 2765.5 L1215.2 2766 L1219.3 2766.5 L1223.4 2767.1 L1227.5 2767.8 L1231.6 2768.4 L1235.7 2769.1 L1239.8 2769.8 L1243.9 2770.6 L1247.9 2771.3 L1252 2772.1 L1256 2772.9 L1260.1 2773.7 L1264.1 2774.4 L1268 2775.2 L1272 2776 L1276.2 2776.8 L1280.4 2777.7 L1284.5 2778.5 L1288.6 2779.4 L1292.6 2780.3 L1296.6 2781.2 L1300.6 2782.1 L1304.7 2783 L1308.7 2783.9 L1312.8 2784.9 L1317 2785.9 L1321.3 2786.9 L1325.6 2787.9 L1330 2789 L1333.8 2790 L1337.7 2791.1 L1341.8 2792.3 L1346 2793.5 L1350.2 2794.9 L1354.5 2796.3 L1358.9 2797.7 L1363.2 2799.1 L1367.6 2800.5 L1372 2801.9 L1376.4 2803.3 L1380.7 2804.5 L1384.9 2805.7 L1389.1 2806.8 L1393.1 2807.8 L1397 2808.6 L1400.8 2809.2 L1404.4 2809.7 L1407.9 2810 L1411.1 2810 L1415.8 2809.6 L1420.1 2808.8 L1424.1 2807.7 L1427.9 2806.3 L1431.6 2804.7 L1435.4 2803.1 L1439.3 2801.5 L1443.6 2800 L1447.3 2798.8 L1451.2 2797.4 L1455.2 2795.9 L1459.3 2794.4 L1463.4 2792.9 L1467.6 2791.3 L1471.8 2789.8 L1476 2788.4 L1480.2 2787.1 L1484.3 2785.9 L1488.4 2784.8 L1492.3 2784 L1496.8 2783.3 L1501.2 2782.7 L1505.6 2782.3 L1510 2782 L1514.3 2781.9 L1518.6 2781.8 L1522.9 2781.9 L1527.1 2781.9 L1531.2 2782 L1535.4 2782.1 L1539.7 2782.1 L1543.8 2782.3 L1548 2782.5 L1552 2782.8 L1556 2783.3 L1559.9 2784 L1563.7 2785 L1567.7 2786.3 L1571.7 2787.9 L1575.6 2789.7 L1579.3 2791.7 L1583 2793.9 L1586.4 2796.3 L1589.7 2799 L1592.6 2801.7 L1595.3 2804.7 L1597.9 2807.9 L1600.4 2811.2 L1602.7 2814.7 L1605 2818.4 L1607.1 2822.2 L1609.1 2826 L1610.8 2829.5 L1612.3 2833.1 L1613.8 2836.9 L1615.1 2840.7 L1616.4 2844.6 L1617.5 2848.6 L1618.7 2852.8 L1619.8 2857 L1621 2861.4 L1622.1 2866 L1622.9 2869.5 L1623.8 2873 L1624.5 2876.7 L1625.3 2880.4 L1626.1 2884.3 L1626.8 2888.2 L1627.5 2892.2 L1628.2 2896.2 L1628.9 2900.3 L1629.6 2904.5 L1630.3 2908.6 L1631 2912.8 L1631.7 2917 L1632.4 2921.3 L1633 2925.5 L1633.7 2929.7 L1634.4 2933.8 L1635.1 2938 L1635.8 2942 L1636.4 2945.9 L1637.1 2949.8 L1637.8 2953.8 L1638.5 2957.7 L1639.1 2961.6 L1639.8 2965.6 L1640.5 2969.6 L1641.1 2973.5 L1641.8 2977.6 L1642.4 2981.6 L1643.1 2985.7 L1643.7 2989.8 L1644.4 2993.9 L1645 2998.1 L1645.7 3002.4 L1646.3 3006.7 L1646.9 3011.1 L1647.5 3015.5 L1648.1 3020 L1648.6 3023.6 L1649 3027.4 L1649.5 3031.2 L1650 3035 L1650.4 3038.9 L1650.9 3042.9 L1651.3 3046.9 L1651.8 3051 L1652.2 3055.1 L1652.6 3059.3 L1653.1 3063.5 L1653.5 3067.7 L1653.9 3071.9 L1654.4 3076.1 L1654.8 3080.4 L1655.2 3084.6 L1655.6 3088.9 L1656 3093.1 L1656.4 3097.3 L1656.8 3101.5 L1657.2 3105.7 L1657.6 3109.8 L1658 3114 L1658.4 3118 L1658.8 3122.1 L1659.2 3126 L1659.6 3130 L1660 3133.8 L1660.3 3137.6 L1660.7 3141.4 L1661.1 3145 L1661.6 3149.7 L1662 3154.6 L1662.4 3159.8 L1662.8 3165.1 L1663.2 3170.5 L1663.6 3175.9 L1664 3181.4 L1664.4 3186.8 L1664.8 3192 L1665.2 3197.1 L1665.6 3202 L1666 3206.6 L1666.4 3210.9 L1666.8 3214.7 L1667.2 3218.2 L1667.6 3221.1 L1668.1 3223.5 L1668.5 3225.3 L1669 3226.4 L1669.5 3226.8 L1670.3 3226.1 L1671.1 3224 L1672 3220.8 L1672.9 3216.6 L1673.8 3211.8 L1674.7 3206.5 L1675.6 3200.9 L1676.5 3195.3 L1677.3 3190 L1677.7 3186.9 L1678.2 3183.7 L1678.6 3180.4 L1679 3176.9 L1679.4 3173.3 L1679.8 3169.6 L1680.1 3165.8 L1680.5 3161.9 L1680.9 3157.9 L1681.2 3153.8 L1681.6 3149.6 L1681.9 3145.4 L1682.2 3141.2 L1682.6 3136.9 L1682.9 3132.6 L1683.3 3128.2 L1683.6 3123.8 L1684 3119.4 L1684.3 3115 L1684.7 3110.7 L1685 3106.3 L1685.4 3102 L1685.8 3097.6 L1686.2 3093.4 L1686.6 3089.2 L1687 3085 L1687.4 3080.9 L1687.8 3076.8 L1688.2 3072.7 L1688.5 3068.4 L1688.9 3064.2 L1689.3 3059.8 L1689.6 3055.5 L1690 3051.1 L1690.3 3046.8 L1690.7 3042.4 L1691.1 3038 L1691.4 3033.6 L1691.8 3029.2 L1692.2 3024.9 L1692.6 3020.5 L1693 3016.3 L1693.5 3012 L1693.9 3007.8 L1694.4 3003.7 L1694.9 2999.6 L1695.4 2995.6 L1696 2991.6 L1696.6 2987.8 L1697.2 2984 L1697.8 2980.3 L1698.5 2976.8 L1699.2 2973.3 L1700 2970 L1701.2 2965.2 L1702.4 2960.5 L1703.6 2956 L1704.8 2951.6 L1706.1 2947.3 L1707.5 2943.2 L1708.9 2939.2 L1710.4 2935.3 L1712 2931.6 L1713.7 2928 L1715.5 2924.5 L1717.4 2921.2 L1719.5 2918 L1722.3 2914.1 L1725.4 2910.1 L1728.7 2906.2 L1732.2 2902.4 L1735.7 2899 L1739.2 2896.1 L1742.6 2893.9 L1745.8 2892.5 L1748.7 2892 L1752.2 2893.5 L1755.2 2897 L1758.1 2901.4 L1761.2 2905.5 L1764.9 2908.3 L1768.8 2909.4 L1773.3 2910 L1778 2910 L1782.6 2909.7 L1787 2909.1 L1790.9 2908.3 L1795.9 2905.8 L1800.3 2902.7 L1803.9 2901.8 L1806.3 2904.8 L1807.9 2910 L1810 2914.7 L1812.8 2918.2 L1816.1 2921.2 L1820.3 2922.8 L1822.8 2922.6 L1825.9 2921.7 L1829.3 2920.1 L1833 2918 L1837 2915.6 L1841.1 2912.9 L1845.3 2910.2 L1849.5 2907.5 L1853.6 2905 L1857.5 2902.7 L1861.3 2900.9 L1864.6 2899.7 L1867.6 2899.2 L1872.3 2900.2 L1876.3 2902.6 L1880.2 2905 L1884.5 2905.9 L1888.1 2904.8 L1892 2902.5 L1896.2 2899.3 L1900.5 2895.7 L1904.6 2892.3 L1908.5 2889.4 L1912.1 2887.6 L1915 2887.3 L1918.3 2889.1 L1920.8 2892.5 L1923 2897.2 L1925 2902.6 L1925.8 2905.4 L1926.6 2908.8 L1927.3 2912.7 L1927.9 2917.2 L1928.5 2922 L1929 2927.1 L1929.5 2932.5 L1930 2938 L1930.4 2943.6 L1930.8 2949.1 L1931.2 2954.5 L1931.6 2959.7 L1932 2964.6 L1932.4 2969.1 L1932.8 2973.2 L1933.2 2976.7 L1933.6 2979.6 L1934.1 2981.8 L1934.6 2983.2 L1935.2 2983.7 L1935.9 2982.8 L1936.6 2980.3 L1937.2 2976.5 L1937.9 2971.8 L1938.5 2966.4 L1939.2 2960.6 L1940 2954.8 L1940.8 2949.3 L1941.7 2944.4 L1942.8 2940.4 L1944 2937.6 L1945.4 2936.4 L1947.5 2936.8 L1950 2938.6 L1952.7 2941.5 L1955.6 2945.2 L1958.4 2949.6 L1961.1 2954.2 L1963.6 2958.9 L1965.7 2963.4 L1967 2967 L1968.2 2971.3 L1969.2 2976.1 L1970 2981.4 L1970.8 2986.8 L1971.5 2992.3 L1972.1 2997.8 L1972.6 3003 L1973.1 3007.8 L1973.6 3012.1 L1974.1 3015.7 L1974.7 3018.5 L1975.2 3020.3 L1975.8 3020.9 L1976.5 3019.9 L1977.1 3017.1 L1977.8 3012.9 L1978.4 3007.7 L1979 3001.9 L1979.6 2995.9 L1980.2 2990.2 L1980.8 2985 L1981.4 2980.8 L1982 2978 L1982.6 2977 L1983.1 2977.5 L1983.5 2979 L1983.9 2981.3 L1984.3 2984.3 L1984.7 2988 L1985.1 2992.3 L1985.5 2997 L1985.9 3002.1 L1986.3 3007.5 L1986.7 3013.1 L1987.1 3018.7 L1987.6 3024.4 L1988.1 3029.9 L1988.6 3035.3 L1989.1 3040.4 L1989.7 3045 L1990.4 3049.2 L1991.1 3052.9 L1991.9 3055.8 L1992.7 3058 L1996.1 3061.3 L1999.5 3064.8 L2000.3 3066.7 L2001 3069.2 L2001.7 3072.2 L2002.3 3075.8 L2002.9 3079.8 L2003.5 3084.2 L2004.1 3088.9 L2004.7 3093.9 L2005.2 3099.2 L2005.7 3104.6 L2006.2 3110.1 L2006.7 3115.8 L2007.2 3121.4 L2007.6 3127 L2008 3132.6 L2008.5 3138 L2008.9 3143.2 L2009.3 3148.1 L2009.7 3152.8 L2010.1 3157.1 L2010.5 3161 L2010.9 3164.5 L2011.3 3167.4 L2011.7 3169.8 L2012.2 3171.5 L2012.6 3172.6 L2013 3173 L2013.4 3172.7 L2013.8 3171.8 L2014.2 3170.4 L2014.6 3168.5 L2014.9 3166.1 L2015.3 3163.3 L2015.6 3160 L2015.9 3156.4 L2016.3 3152.5 L2016.6 3148.2 L2016.9 3143.7 L2017.2 3138.9 L2017.5 3134 L2017.8 3128.8 L2018.1 3123.6 L2018.4 3118.2 L2018.8 3112.8 L2019.1 3107.3 L2019.4 3101.8 L2019.8 3096.4 L2020.1 3091 L2020.5 3085.7 L2020.9 3080.6 L2021.3 3075.6 L2021.7 3070.8 L2022.2 3066.3 L2022.6 3062 L2023.1 3058 L2023.7 3053.6 L2024.2 3049 L2024.8 3044.1 L2025.4 3039.1 L2025.9 3034 L2026.5 3028.9 L2027.1 3023.7 L2027.8 3018.5 L2028.4 3013.3 L2029 3008.3 L2029.7 3003.4 L2030.3 2998.7 L2031 2994.2 L2031.8 2989.9 L2032.5 2986 L2033.2 2982.4 L2034 2979.1 L2034.8 2976.3 L2035.6 2974 L2036.5 2972.2 L2037.4 2970.9 L2038.3 2970.2 L2041.7 2971.3 L2045 2975 L2046.6 2977.9 L2047.9 2981.7 L2049.1 2986 L2050.2 2990.7 L2051.4 2995.4 L2052.7 3000 L2054 3003.8 L2055.4 3007.7 L2056.8 3011.7 L2058.3 3015.7 L2059.7 3019.8 L2061.2 3023.8 L2062.5 3027.8 L2063.8 3031.7 L2065.1 3035.8 L2066.2 3039.9 L2067.3 3043.9 L2068.4 3047.9 L2069.5 3052 L2070.6 3056.1 L2071.7 3060.3 L2072.7 3064 L2073.8 3067.7 L2074.9 3071.5 L2076 3075.3 L2077 3079.2 L2078.1 3083.1 L2079.2 3087.1 L2080.3 3091.1 L2081.3 3095.2 L2082.2 3099 L2083.2 3102.9 L2084.2 3106.7 L2085.1 3110.7 L2086.1 3114.6 L2087 3118.7 L2087.9 3122.8 L2088.7 3127 L2089.6 3131.2 L2090.3 3135.6 L2091 3140 L2091.5 3143.8 L2091.9 3147.8 L2092.2 3152 L2092.5 3156.2 L2092.8 3160.6 L2093 3165 L2093.2 3169.4 L2093.3 3173.9 L2093.5 3178.3 L2093.7 3182.7 L2093.9 3187 L2094.2 3191.2 L2094.6 3195.2 L2094.9 3199.1 L2095.4 3202.8 L2096 3206.3 L2097 3210.8 L2098.1 3214.9 L2099.3 3218.8 L2100.5 3222.5 L2101.8 3226.2 L2103.1 3229.9 L2104.4 3233.8 L2105.5 3238 L2106.4 3241.6 L2107.2 3245.4 L2108 3249.2 L2108.8 3253.1 L2109.6 3257.2 L2110.4 3261.2 L2111.2 3265.3 L2111.9 3269.4 L2112.7 3273.5 L2113.4 3277.6 L2114.2 3281.7 L2115 3285.7 L2115.8 3289.6 L2116.6 3293.5 L2117.4 3297.4 L2118.2 3301.3 L2119 3305.1 L2119.8 3309 L2120.5 3312.9 L2121.3 3316.8 L2122.1 3320.8 L2122.9 3324.9 L2123.7 3329 L2124.5 3333.3 L2125.2 3337.1 L2125.9 3341 L2126.5 3344.8 L2127.2 3348.7 L2127.9 3352.6 L2128.5 3356.6 L2129.2 3360.6 L2129.9 3364.7 L2130.5 3368.8 L2131.2 3373 L2131.9 3377.3 L2132.6 3381.7 L2133.4 3386.1 L2134.1 3390.6 L2134.9 3395.3 L2135.7 3400 L2136.3 3403.5 L2136.9 3407.1 L2137.5 3410.7 L2138.1 3414.4 L2138.7 3418.2 L2139.4 3422 L2140 3425.9 L2140.7 3429.8 L2141.3 3433.8 L2142 3437.9 L2142.6 3441.9 L2143.3 3446 L2144 3450.2 L2144.7 3454.3 L2145.4 3458.5 L2146.1 3462.7 L2146.8 3467 L2147.6 3471.2 L2148.3 3475.5 L2149 3479.8 L2149.8 3484 L2150.6 3488.3 L2151.3 3492.5 L2152.1 3496.8 L2152.9 3501 L2153.7 3505.3 L2154.5 3509.5 L2155.3 3513.6 L2156.2 3517.8 L2157 3521.9 L2157.8 3525.9 L2158.7 3529.9 L2159.5 3533.9 L2160.4 3537.9 L2161.3 3541.9 L2162.2 3545.9 L2163.1 3549.9 L2164 3554 L2165 3558 L2165.9 3562 L2166.9 3566.1 L2167.9 3570.1 L2168.8 3574.2 L2169.8 3578.2 L2170.8 3582.3 L2171.8 3586.3 L2172.8 3590.4 L2173.8 3594.4 L2174.8 3598.5 L2175.8 3602.5 L2176.8 3606.5 L2177.8 3610.5 L2178.8 3614.5 L2179.7 3618.5 L2180.7 3622.5 L2181.7 3626.5 L2182.7 3630.4 L2183.6 3634.4 L2184.6 3638.3 L2185.5 3642.2 L2186.5 3646.1 L2187.4 3650 L2188.4 3654.2 L2189.4 3658.5 L2190.4 3662.8 L2191.5 3667.2 L2192.6 3671.7 L2193.6 3676.2 L2194.7 3680.8 L2195.8 3685.3 L2196.9 3689.9 L2198 3694.5 L2199.1 3699 L2200.2 3703.6 L2201.2 3708 L2202.3 3712.5 L2203.3 3716.8 L2204.4 3721.1 L2205.4 3725.3 L2206.3 3729.4 L2207.3 3733.3 L2208.2 3737.2 L2209.1 3740.9 L2209.9 3744.5 L2210.7 3747.9 L2211.5 3751.1 L2212.2 3754.1 L2212.8 3757 L2213.4 3759.6 L2214 3762 L2215.5 3768.4 L2216.7 3774.2 L2217.6 3778.4 L2218 3780" fill="none" stroke="#4472C4" stroke-width="7.4" stroke-linejoin="round" stroke-linecap="round" clip-path="url(#clipC)"/>
<path d="M373 2746 L373.4 2746 L374.5 2746 L376.4 2746.1 L378.8 2746.1 L381.9 2746.2 L385.4 2746.3 L389.4 2746.4 L393.7 2746.5 L398.4 2746.6 L403.4 2746.7 L408.6 2746.8 L414 2747 L419.5 2747.1 L425 2747.3 L430.5 2747.5 L435.9 2747.6 L441.2 2747.8 L446.3 2748 L451.2 2748.2 L455.7 2748.4 L459.9 2748.6 L463.7 2748.8 L467 2749 L472 2749.3 L476.6 2749.6 L481 2749.9 L485 2750.2 L488.9 2750.6 L492.7 2751.1 L496.3 2751.7 L500 2752.5 L504.8 2753.7 L509.5 2755 L513.9 2756.6 L518.1 2758.5 L522 2761 L525.1 2763.6 L528 2766.5 L530.7 2769.8 L533.3 2773.3 L535.7 2777.1 L538 2781 L539.8 2784.3 L541.4 2787.8 L543 2791.5 L544.4 2795.4 L545.8 2799.3 L547.2 2803.4 L548.5 2807.5 L549.7 2811.7 L551 2816 L552.1 2819.8 L553.1 2823.6 L554 2827.5 L555 2831.5 L555.8 2835.5 L556.7 2839.6 L557.6 2843.7 L558.4 2848 L559.3 2852.4 L560.1 2856.8 L561.1 2861.3 L562 2866 L562.7 2869.5 L563.4 2873.1 L564.1 2876.8 L564.9 2880.6 L565.6 2884.4 L566.3 2888.3 L567 2892.2 L567.8 2896.2 L568.5 2900.2 L569.3 2904.3 L570 2908.4 L570.8 2912.5 L571.5 2916.7 L572.3 2920.8 L573.1 2925 L573.9 2929.2 L574.7 2933.4 L575.5 2937.6 L576.4 2941.7 L577.2 2945.9 L578.1 2950 L578.9 2953.9 L579.8 2957.7 L580.6 2961.6 L581.5 2965.5 L582.4 2969.5 L583.3 2973.4 L584.2 2977.4 L585.2 2981.3 L586.1 2985.3 L587.1 2989.3 L588 2993.2 L589 2997.2 L589.9 3001.2 L590.9 3005.2 L591.9 3009.2 L592.8 3013.2 L593.8 3017.2 L594.7 3021.3 L595.7 3025.3 L596.6 3029.3 L597.6 3033.3 L598.5 3037.2 L599.4 3041.2 L600.3 3045.2 L601.2 3049.2 L602.1 3053.1 L603 3057.1 L603.8 3061.1 L604.7 3065 L605.6 3069 L606.4 3073 L607.3 3077 L608.2 3080.9 L609 3084.9 L609.9 3088.9 L610.7 3092.8 L611.6 3096.8 L612.5 3100.8 L613.3 3104.8 L614.2 3108.7 L615 3112.7 L615.9 3116.7 L616.7 3120.6 L617.6 3124.6 L618.4 3128.6 L619.3 3132.6 L620.1 3136.5 L621 3140.5 L621.9 3144.5 L622.7 3148.5 L623.6 3152.5 L624.5 3156.6 L625.4 3160.7 L626.3 3164.7 L627.2 3168.8 L628.1 3172.9 L629 3177 L629.9 3181.1 L630.7 3185.2 L631.6 3189.3 L632.5 3193.3 L633.4 3197.3 L634.3 3201.4 L635.1 3205.3 L636 3209.3 L636.8 3213.2 L637.7 3217.1 L638.5 3220.9 L639.3 3224.7 L640.1 3228.4 L640.8 3232.1 L641.6 3235.7 L642.5 3240.1 L643.4 3244.3 L644.2 3248.5 L645 3252.6 L645.8 3256.6 L646.6 3260.6 L647.3 3264.5 L648.1 3268.4 L648.9 3272.3 L649.6 3276.2 L650.4 3280 L651.2 3284 L652 3287.9 L652.8 3291.9 L653.7 3295.9 L654.6 3300 L655.5 3303.9 L656.4 3307.9 L657.4 3311.9 L658.3 3315.9 L659.3 3320 L660.3 3324 L661.3 3328.1 L662.4 3332.1 L663.4 3336.2 L664.4 3340.3 L665.5 3344.4 L666.5 3348.5 L667.5 3352.6 L668.6 3356.7 L669.6 3360.8 L670.6 3364.9 L671.5 3368.9 L672.5 3373 L673.4 3377.1 L674.4 3381.2 L675.3 3385.3 L676.2 3389.4 L677.1 3393.5 L677.9 3397.7 L678.8 3401.8 L679.7 3406 L680.6 3410.1 L681.4 3414.2 L682.3 3418.3 L683.2 3422.4 L684.1 3426.4 L685 3430.4 L685.9 3434.4 L686.8 3438.3 L687.7 3442.2 L688.7 3446 L689.8 3450.3 L690.9 3454.6 L692 3458.9 L693.1 3463.2 L694.2 3467.4 L695.3 3471.6 L696.5 3475.7 L697.6 3479.8 L698.8 3483.8 L700 3487.7 L701.2 3491.6 L702.4 3495.4 L703.6 3499.2 L704.9 3502.8 L706.4 3507 L707.9 3511.1 L709.4 3515.2 L710.9 3519.2 L712.5 3523.1 L714.1 3526.8 L715.7 3530.4 L717.5 3533.9 L719.2 3537.2 L721.1 3540.2 L723.5 3543.9 L725.9 3547.3 L728.3 3550.5 L731 3553.3 L734 3555.9 L737.4 3558 L740.7 3559.5 L744.5 3560.7 L748.7 3561.8 L753.1 3562.6 L757.6 3563.2 L762 3563.5 L766.1 3563.6 L769.9 3563.4 L773.1 3562.9 L778.1 3561.2 L782.1 3558.6 L786 3554.8 L788.3 3552 L790.5 3548.6 L792.7 3544.8 L794.9 3540.6 L796.9 3536.3 L798.9 3532 L800.7 3527.9 L802.3 3524 L803.9 3519.9 L805.3 3516.1 L806.6 3512.2 L807.7 3508.4 L808.8 3504.3 L810 3500 L811 3496.2 L812 3492.3 L813 3488.2 L813.9 3484 L814.9 3479.8 L815.8 3475.5 L816.7 3471.1 L817.6 3466.7 L818.5 3462.3 L819.2 3458.4 L819.9 3454.5 L820.6 3450.6 L821.3 3446.6 L821.9 3442.6 L822.6 3438.6 L823.2 3434.5 L823.9 3430.4 L824.5 3426.2 L825.3 3421.9 L826 3417.5 L826.6 3413.8 L827.3 3410.1 L828 3406.3 L828.7 3402.4 L829.4 3398.5 L830.1 3394.5 L830.9 3390.5 L831.6 3386.4 L832.4 3382.4 L833.1 3378.3 L833.8 3374.2 L834.6 3370.1 L835.3 3366.1 L836.1 3362 L836.8 3358 L837.5 3354 L838.2 3350 L838.9 3346.1 L839.6 3342.1 L840.3 3338.1 L841 3334.2 L841.7 3330.2 L842.3 3326.2 L843 3322.3 L843.7 3318.3 L844.4 3314.3 L845.1 3310.3 L845.7 3306.4 L846.4 3302.4 L847.1 3298.4 L847.8 3294.5 L848.5 3290.5 L849.2 3286.5 L849.9 3282.6 L850.6 3278.6 L851.3 3274.6 L851.9 3270.7 L852.6 3266.7 L853.3 3262.7 L854 3258.7 L854.7 3254.8 L855.4 3250.8 L856.1 3246.8 L856.8 3242.9 L857.5 3238.9 L858.2 3234.9 L859 3231 L859.7 3227 L860.4 3223 L861.2 3219.1 L861.9 3215.1 L862.7 3211.1 L863.5 3207.1 L864.2 3203.2 L865 3199.2 L865.8 3195.2 L866.5 3191.3 L867.3 3187.3 L868.1 3183.3 L868.9 3179.4 L869.7 3175.4 L870.4 3171.4 L871.2 3167.5 L872 3163.5 L872.8 3159.5 L873.6 3155.5 L874.4 3151.6 L875.2 3147.6 L876 3143.6 L876.8 3139.6 L877.6 3135.6 L878.4 3131.6 L879.2 3127.7 L880 3123.7 L880.8 3119.7 L881.6 3115.8 L882.4 3111.8 L883.2 3107.9 L883.9 3103.9 L884.7 3100 L885.5 3095.9 L886.3 3091.9 L887 3087.8 L887.8 3083.7 L888.5 3079.7 L889.3 3075.6 L890 3071.6 L890.7 3067.5 L891.5 3063.5 L892.2 3059.5 L893 3055.6 L893.7 3051.6 L894.5 3047.7 L895.2 3043.8 L896 3040 L896.9 3035.6 L897.8 3031.3 L898.6 3027 L899.5 3022.8 L900.4 3018.5 L901.3 3014.3 L902.2 3010.2 L903.1 3006.1 L904 3002 L905 2997.9 L906 2993.9 L907 2990 L908.1 2985.8 L909.3 2981.6 L910.5 2977.6 L911.6 2973.5 L912.9 2969.5 L914.1 2965.6 L915.4 2961.6 L916.7 2957.7 L918.1 2953.8 L919.5 2949.8 L921 2945.7 L922.6 2941.5 L924.2 2937.2 L925.9 2932.9 L927.6 2928.7 L929.4 2924.5 L931.1 2920.5 L932.8 2916.7 L934.4 2913.2 L936 2910 L938.4 2905.3 L940.6 2901.1 L942.9 2897.3 L945.7 2894 L949 2891.6 L952.9 2889.7 L956.6 2887.8 L959.7 2885.2 L961.5 2882.1 L962.7 2878.6 L963.7 2874.7 L964.9 2870.5 L966.8 2866 L968.3 2863.1 L970 2860 L971.9 2856.6 L974 2853 L976.2 2849.3 L978.6 2845.6 L981 2841.8 L983.6 2837.9 L986.2 2834.2 L988.8 2830.5 L991.4 2826.9 L994.1 2823.5 L996.7 2820.3 L999.3 2817.4 L1002.3 2814.2 L1005.4 2811.2 L1008.4 2808.3 L1011.5 2805.5 L1014.7 2802.9 L1017.9 2800.4 L1021.2 2798 L1024.6 2795.7 L1028.2 2793.5 L1031.8 2791.4 L1035.2 2789.6 L1038.6 2787.9 L1042.2 2786.3 L1045.8 2784.8 L1049.5 2783.4 L1053.2 2782.1 L1057.1 2780.8 L1061 2779.6 L1064.9 2778.5 L1069 2777.3 L1073.1 2776.3 L1077.2 2775.2 L1080.9 2774.3 L1084.7 2773.4 L1088.6 2772.6 L1092.5 2771.8 L1096.5 2771 L1100.6 2770.3 L1104.7 2769.6 L1108.8 2769 L1113 2768.4 L1117.2 2767.8 L1121.4 2767.3 L1125.5 2766.8 L1129.7 2766.4 L1133.9 2766 L1138 2765.7 L1142.1 2765.4 L1146.1 2765.2 L1150.2 2765 L1154.3 2764.9 L1158.3 2764.8 L1162.4 2764.7 L1166.4 2764.7 L1170.5 2764.8 L1174.6 2764.9 L1178.6 2765 L1182.7 2765.2 L1186.7 2765.4 L1190.8 2765.7 L1194.9 2765.9 L1198.9 2766.3 L1203 2766.6 L1207 2767 L1211.1 2767.4 L1215.2 2767.9 L1219.3 2768.5 L1223.4 2769.1 L1227.5 2769.8 L1231.6 2770.5 L1235.7 2771.2 L1239.8 2771.9 L1243.9 2772.7 L1247.9 2773.5 L1252 2774.3 L1256 2775.2 L1260.1 2776 L1264.1 2776.8 L1268 2777.6 L1272 2778.4 L1276.2 2779.3 L1280.4 2780.1 L1284.5 2781 L1288.6 2781.8 L1292.6 2782.7 L1296.6 2783.6 L1300.6 2784.5 L1304.7 2785.4 L1308.7 2786.3 L1312.8 2787.3 L1317 2788.3 L1321.3 2789.3 L1325.6 2790.3 L1330 2791.4 L1333.8 2792.4 L1337.7 2793.5 L1341.8 2794.7 L1346 2796 L1350.2 2797.3 L1354.5 2798.7 L1358.9 2800.2 L1363.3 2801.6 L1367.6 2803 L1372 2804.4 L1376.4 2805.8 L1380.7 2807.1 L1384.9 2808.3 L1389.1 2809.3 L1393.1 2810.3 L1397 2811.1 L1400.8 2811.8 L1404.4 2812.2 L1407.9 2812.5 L1411.1 2812.5 L1415.8 2812.1 L1420.1 2811.2 L1424.1 2810 L1427.9 2808.6 L1431.6 2806.9 L1435.4 2805.2 L1439.3 2803.6 L1443.6 2802 L1447.3 2800.7 L1451.2 2799.4 L1455.2 2797.9 L1459.3 2796.4 L1463.4 2794.8 L1467.6 2793.3 L1471.8 2791.8 L1476 2790.4 L1480.2 2789.1 L1484.3 2787.9 L1488.4 2786.8 L1492.3 2786 L1496.8 2785.3 L1501.2 2784.7 L1505.6 2784.3 L1510 2784 L1514.3 2783.9 L1518.6 2783.8 L1522.9 2783.9 L1527.1 2783.9 L1531.2 2784 L1535.4 2784.1 L1539.7 2784.1 L1543.8 2784.3 L1548 2784.5 L1552 2784.8 L1556 2785.3 L1559.9 2786 L1563.7 2787 L1567.7 2788.3 L1571.7 2789.9 L1575.6 2791.7 L1579.3 2793.7 L1583 2795.9 L1586.4 2798.3 L1589.7 2801 L1592.6 2803.7 L1595.3 2806.7 L1597.9 2809.9 L1600.4 2813.2 L1602.7 2816.7 L1605 2820.4 L1607.1 2824.2 L1609.1 2828 L1610.8 2831.5 L1612.3 2835.1 L1613.8 2838.9 L1615.1 2842.7 L1616.4 2846.6 L1617.5 2850.6 L1618.7 2854.8 L1619.8 2859 L1621 2863.4 L1622.1 2868 L1622.9 2871.5 L1623.8 2875 L1624.5 2878.7 L1625.3 2882.5 L1626.1 2886.3 L1626.8 2890.2 L1627.5 2894.2 L1628.2 2898.3 L1628.9 2902.4 L1629.6 2906.5 L1630.3 2910.7 L1631 2914.9 L1631.7 2919.1 L1632.3 2923.3 L1633 2927.5 L1633.7 2931.7 L1634.4 2935.9 L1635.1 2940 L1635.8 2943.9 L1636.4 2947.8 L1637.1 2951.6 L1637.8 2955.5 L1638.4 2959.3 L1639.1 2963.2 L1639.8 2967 L1640.5 2970.9 L1641.1 2974.8 L1641.8 2978.7 L1642.4 2982.6 L1643.1 2986.6 L1643.7 2990.6 L1644.4 2994.6 L1645 2998.7 L1645.6 3002.9 L1646.3 3007.1 L1646.9 3011.3 L1647.5 3015.6 L1648.1 3020 L1648.6 3023.6 L1649.1 3027.3 L1649.5 3031.1 L1650 3035 L1650.5 3038.9 L1650.9 3042.8 L1651.4 3046.9 L1651.9 3050.9 L1652.3 3055 L1652.8 3059.1 L1653.2 3063.3 L1653.7 3067.5 L1654.1 3071.7 L1654.5 3075.9 L1655 3080.1 L1655.4 3084.3 L1655.8 3088.5 L1656.3 3092.7 L1656.7 3096.9 L1657.1 3101 L1657.5 3105.1 L1657.9 3109.2 L1658.3 3113.3 L1658.7 3117.3 L1659.1 3121.2 L1659.5 3125.1 L1659.9 3128.9 L1660.3 3132.7 L1660.7 3136.4 L1661.1 3140 L1661.6 3144.7 L1662 3149.6 L1662.5 3154.8 L1662.9 3160.1 L1663.3 3165.6 L1663.7 3171 L1664.1 3176.4 L1664.5 3181.8 L1664.9 3186.9 L1665.4 3191.9 L1665.8 3196.6 L1666.2 3201 L1666.6 3205 L1667 3208.6 L1667.5 3211.7 L1668 3214.1 L1668.4 3216 L1669 3217.2 L1669.5 3217.6 L1670.4 3216.8 L1671.4 3214.5 L1672.4 3211 L1673.4 3206.5 L1674.4 3201.4 L1675.4 3195.9 L1676.4 3190.4 L1677.3 3185 L1677.8 3181.9 L1678.3 3178.6 L1678.7 3175.2 L1679.2 3171.6 L1679.6 3167.9 L1680 3164.1 L1680.4 3160.2 L1680.8 3156.2 L1681.2 3152.1 L1681.6 3147.9 L1682 3143.6 L1682.4 3139.3 L1682.7 3134.9 L1683.1 3130.5 L1683.5 3126 L1683.9 3121.5 L1684.3 3117 L1684.7 3112.5 L1685.1 3107.9 L1685.6 3103.4 L1686 3098.9 L1686.5 3094.4 L1687 3090 L1687.4 3086.1 L1687.9 3082.2 L1688.3 3078.1 L1688.7 3074 L1689.2 3069.8 L1689.6 3065.5 L1690 3061.1 L1690.4 3056.7 L1690.9 3052.3 L1691.3 3047.8 L1691.8 3043.3 L1692.2 3038.8 L1692.7 3034.3 L1693.1 3029.8 L1693.6 3025.3 L1694.1 3020.9 L1694.6 3016.4 L1695.1 3012.1 L1695.6 3007.7 L1696.2 3003.5 L1696.7 2999.3 L1697.3 2995.2 L1697.9 2991.1 L1698.5 2987.2 L1699.1 2983.4 L1699.7 2979.7 L1700.4 2976.2 L1701.1 2972.7 L1701.8 2969.5 L1702.5 2966.4 L1703.3 2963.4 L1704.7 2958.5 L1706 2954 L1707.4 2949.8 L1708.8 2945.8 L1710.3 2942.1 L1711.8 2938.5 L1713.5 2935.1 L1715.3 2931.7 L1717.3 2928.4 L1719.5 2925 L1721.9 2921.4 L1724.7 2917.4 L1727.7 2913.4 L1730.8 2909.3 L1734.1 2905.4 L1737.3 2902 L1740.4 2899 L1743.4 2896.8 L1746.2 2895.5 L1748.7 2895.3 L1750.9 2896.5 L1752.8 2899.1 L1754.5 2902.8 L1756 2907.2 L1757.5 2912 L1759.1 2916.8 L1760.8 2921.2 L1762.7 2925 L1764.9 2927.7 L1768.4 2930.3 L1772.4 2932.2 L1776.5 2933.6 L1780.6 2934.2 L1784.4 2934.2 L1788.8 2932.2 L1793.1 2928.6 L1797.1 2925.4 L1800.6 2924.5 L1803 2926.5 L1804.9 2930.2 L1806.5 2934.9 L1808.1 2939.8 L1810 2944 L1812.4 2948.7 L1814.7 2953.7 L1817.3 2957.8 L1820.3 2960 L1824.5 2959.5 L1829.2 2956.8 L1833.8 2953.3 L1836.6 2950.6 L1839.3 2947.3 L1842 2943.7 L1844.7 2939.9 L1847.6 2936.3 L1850.7 2933 L1853.8 2930 L1857.2 2926.8 L1860.8 2923.6 L1864.4 2920.7 L1867.9 2918.3 L1871.3 2916.7 L1874.4 2916.1 L1878.1 2917.8 L1881.6 2921.5 L1884.8 2925 L1887.9 2926.2 L1890.3 2924.4 L1892.5 2920.7 L1894.5 2915.9 L1896.6 2910.7 L1898.8 2906 L1901.4 2902.6 L1905.1 2899.6 L1909.2 2897.1 L1913.2 2895.6 L1916.6 2895.8 L1918.7 2897.4 L1920.3 2900.2 L1921.7 2904 L1922.8 2908.6 L1923.9 2913.8 L1925 2919.5 L1925.4 2921.9 L1925.9 2924.7 L1926.3 2927.8 L1926.6 2931.3 L1927 2935 L1927.4 2939 L1927.7 2943.3 L1928 2947.8 L1928.3 2952.5 L1928.6 2957.3 L1928.8 2962.4 L1929.1 2967.6 L1929.4 2972.9 L1929.6 2978.3 L1929.8 2983.8 L1930 2989.4 L1930.2 2995 L1930.4 3000.6 L1930.6 3006.1 L1930.8 3011.7 L1931 3017.2 L1931.2 3022.6 L1931.4 3027.9 L1931.6 3033.1 L1931.8 3038.2 L1932 3043 L1932.1 3047.7 L1932.3 3052.2 L1932.5 3056.5 L1932.7 3060.5 L1932.9 3064.2 L1933.1 3067.6 L1933.4 3070.7 L1933.6 3073.5 L1933.8 3075.9 L1934.1 3077.9 L1934.3 3079.5 L1934.6 3080.7 L1934.9 3081.4 L1935.2 3081.7 L1935.6 3081.2 L1936 3079.7 L1936.4 3077.3 L1936.8 3074.1 L1937.1 3070.3 L1937.5 3065.8 L1937.9 3060.9 L1938.3 3055.5 L1938.7 3049.9 L1939.1 3044 L1939.5 3038.1 L1939.9 3032.1 L1940.3 3026.2 L1940.8 3020.6 L1941.3 3015.2 L1941.8 3010.2 L1942.3 3005.7 L1942.8 3001.7 L1943.4 2998.5 L1944 2996 L1944.7 2994.4 L1945.4 2993.8 L1946.9 2994.8 L1948.5 2997.9 L1950.3 3002.4 L1952 3007.6 L1953.8 3012.9 L1955.5 3017.5 L1957 3021.1 L1958.6 3024.5 L1960.1 3027.8 L1961.6 3031.4 L1963.1 3035.2 L1964.4 3039.5 L1965.7 3044.5 L1966.3 3047.3 L1966.8 3050.6 L1967.3 3054.3 L1967.8 3058.4 L1968.3 3062.8 L1968.8 3067.5 L1969.2 3072.4 L1969.6 3077.5 L1970 3082.8 L1970.3 3088.3 L1970.7 3093.8 L1971 3099.3 L1971.4 3104.9 L1971.7 3110.4 L1972 3115.9 L1972.3 3121.3 L1972.5 3126.5 L1972.8 3131.5 L1973.1 3136.3 L1973.4 3140.8 L1973.6 3145 L1973.9 3148.9 L1974.1 3152.4 L1974.4 3155.4 L1974.7 3158 L1974.9 3160.1 L1975.2 3161.6 L1975.5 3162.6 L1975.8 3162.9 L1976.1 3162.4 L1976.4 3161.1 L1976.7 3159 L1977 3156.2 L1977.3 3152.7 L1977.6 3148.7 L1977.9 3144.2 L1978.2 3139.2 L1978.5 3133.9 L1978.8 3128.3 L1979 3122.4 L1979.3 3116.5 L1979.6 3110.4 L1979.8 3104.4 L1980.1 3098.4 L1980.3 3092.6 L1980.6 3087 L1980.8 3081.7 L1981.1 3076.7 L1981.3 3072.2 L1981.5 3068.1 L1981.8 3064.7 L1982 3061.9 L1982.2 3059.8 L1982.4 3058.5 L1982.6 3058 L1982.8 3058.3 L1983 3059.4 L1983.2 3061 L1983.4 3063.2 L1983.5 3065.9 L1983.7 3069.1 L1983.8 3072.7 L1984 3076.7 L1984.1 3081 L1984.3 3085.6 L1984.4 3090.5 L1984.5 3095.5 L1984.7 3100.7 L1984.8 3106 L1984.9 3111.3 L1985 3116.6 L1985.2 3121.9 L1985.3 3127.1 L1985.4 3132.2 L1985.6 3137 L1985.7 3141.6 L1985.9 3146 L1986 3150 L1986.1 3154.4 L1986.2 3158.9 L1986.2 3163.6 L1986.1 3168.3 L1986 3173.2 L1985.9 3178 L1985.8 3182.9 L1985.7 3187.7 L1985.7 3192.4 L1985.6 3197.1 L1985.6 3201.5 L1985.7 3205.8 L1985.9 3209.9 L1986.1 3213.7 L1986.5 3217.3 L1987 3220.5 L1987.6 3223.3 L1988.4 3225.8 L1989.3 3227.8 L1992.5 3230.6 L1996.3 3231.9 L1999.5 3234.5 L2000.6 3236.9 L2001.4 3239.8 L2001.9 3243.1 L2002.3 3246.7 L2002.4 3250.8 L2002.5 3255.1 L2002.5 3259.7 L2002.4 3264.5 L2002.4 3269.5 L2002.4 3274.6 L2002.5 3279.9 L2002.8 3285.2 L2003 3288.3 L2003.2 3291.8 L2003.4 3295.5 L2003.6 3299.5 L2003.9 3303.7 L2004.1 3308.1 L2004.3 3312.8 L2004.6 3317.6 L2004.8 3322.6 L2005.1 3327.7 L2005.3 3332.9 L2005.6 3338.2 L2005.9 3343.6 L2006.1 3349 L2006.4 3354.4 L2006.7 3359.8 L2007 3365.3 L2007.3 3370.6 L2007.6 3375.9 L2007.8 3381.1 L2008.1 3386.2 L2008.4 3391.1 L2008.7 3395.9 L2009 3400.5 L2009.3 3404.9 L2009.6 3409.1 L2009.9 3413.1 L2010.2 3416.7 L2010.6 3420.1 L2010.9 3423.2 L2011.2 3425.9 L2011.5 3428.3 L2011.8 3430.3 L2012.1 3431.9 L2012.4 3433 L2012.7 3433.7 L2013 3434 L2013.6 3433.4 L2014.2 3431.5 L2014.9 3428.6 L2015.5 3424.8 L2016.2 3420.3 L2016.9 3415.2 L2017.5 3409.7 L2018.1 3403.9 L2018.7 3398 L2019.2 3392.2 L2019.7 3386.6 L2019.9 3383.5 L2020.2 3380.2 L2020.4 3376.9 L2020.6 3373.3 L2020.7 3369.7 L2020.9 3366 L2021 3362.2 L2021.2 3358.2 L2021.3 3354.2 L2021.4 3350.1 L2021.5 3346 L2021.6 3341.7 L2021.7 3337.5 L2021.8 3333.1 L2021.8 3328.8 L2021.9 3324.4 L2022 3319.9 L2022 3315.5 L2022.1 3311 L2022.1 3306.5 L2022.2 3302.1 L2022.2 3297.6 L2022.3 3293.2 L2022.4 3288.8 L2022.4 3284.4 L2022.5 3280 L2022.5 3275.7 L2022.6 3271.5 L2022.7 3267.3 L2022.8 3263.2 L2022.9 3259.2 L2023 3255.3 L2023.1 3251.4 L2023.2 3247.1 L2023.4 3242.8 L2023.5 3238.7 L2023.6 3234.5 L2023.8 3230.5 L2023.9 3226.4 L2024 3222.4 L2024.1 3218.5 L2024.3 3214.5 L2024.4 3210.6 L2024.5 3206.7 L2024.7 3202.8 L2024.8 3198.9 L2025 3195 L2025.1 3191.1 L2025.3 3187.2 L2025.4 3183.2 L2025.6 3179.2 L2025.8 3175.2 L2026 3171.1 L2026.2 3167 L2026.3 3162.9 L2026.6 3158.6 L2026.8 3154.4 L2027 3150 L2027.2 3146.2 L2027.4 3142.2 L2027.6 3138.1 L2027.7 3133.8 L2027.9 3129.4 L2028.1 3124.9 L2028.2 3120.4 L2028.4 3115.7 L2028.6 3111 L2028.7 3106.2 L2028.9 3101.3 L2029.1 3096.5 L2029.3 3091.6 L2029.4 3086.7 L2029.6 3081.8 L2029.8 3077 L2030 3072.2 L2030.3 3067.4 L2030.5 3062.7 L2030.7 3058.1 L2031 3053.6 L2031.3 3049.2 L2031.5 3044.9 L2031.8 3040.7 L2032.2 3036.7 L2032.5 3032.8 L2032.9 3029.1 L2033.2 3025.6 L2033.6 3022.3 L2034.1 3019.2 L2034.5 3016.4 L2035 3013.7 L2035.5 3011.4 L2036 3009.2 L2036.6 3007.4 L2038.8 3002.1 L2041.2 2998.4 L2043.4 2997.2 L2044.5 2998.4 L2045.4 3001.4 L2046.1 3005.6 L2046.8 3010.7 L2047.4 3016.2 L2048.1 3021.9 L2048.7 3027.2 L2049.5 3031.7 L2050.4 3036.6 L2051.2 3041.6 L2052.1 3046.5 L2053 3051.2 L2054.3 3055.3 L2055.9 3058.7 L2058.9 3061.7 L2062.3 3063.7 L2065.4 3066.7 L2067.1 3069.8 L2068.6 3073.5 L2069.9 3077.7 L2071.1 3082.2 L2072.3 3086.7 L2073.6 3091.1 L2074.9 3095.2 L2076.5 3099.2 L2078.2 3103.1 L2079.9 3106.8 L2081.5 3110.6 L2083 3114.7 L2084.4 3119 L2085.3 3122.5 L2086.1 3126.2 L2086.9 3130 L2087.6 3133.9 L2088.2 3137.9 L2088.8 3142 L2089.3 3146.2 L2089.8 3150.3 L2090.3 3154.5 L2090.8 3158.7 L2091.2 3162.9 L2091.5 3167.2 L2091.7 3171.6 L2091.9 3176.1 L2092 3180.6 L2092.2 3185.1 L2092.3 3189.6 L2092.6 3193.9 L2092.9 3198.2 L2093.4 3202.3 L2094 3206.3 L2094.9 3210.6 L2096 3214.6 L2097.2 3218.4 L2098.5 3222.2 L2099.8 3225.9 L2101.1 3229.8 L2102.3 3233.8 L2103.5 3238 L2104.4 3241.6 L2105.2 3245.4 L2106 3249.2 L2106.8 3253.1 L2107.6 3257.2 L2108.4 3261.2 L2109.2 3265.3 L2109.9 3269.4 L2110.7 3273.5 L2111.4 3277.6 L2112.2 3281.7 L2113 3285.7 L2113.8 3289.6 L2114.6 3293.5 L2115.4 3297.4 L2116.2 3301.3 L2117 3305.1 L2117.8 3309 L2118.5 3312.9 L2119.3 3316.8 L2120.1 3320.8 L2120.9 3324.9 L2121.7 3329 L2122.5 3333.3 L2123.2 3337.1 L2123.9 3341 L2124.5 3344.8 L2125.2 3348.7 L2125.9 3352.6 L2126.5 3356.6 L2127.2 3360.6 L2127.9 3364.7 L2128.5 3368.8 L2129.2 3373 L2129.9 3377.3 L2130.6 3381.7 L2131.4 3386.1 L2132.1 3390.6 L2132.9 3395.3 L2133.7 3400 L2134.3 3403.5 L2134.9 3407.1 L2135.5 3410.7 L2136.1 3414.4 L2136.7 3418.2 L2137.4 3422 L2138 3425.9 L2138.7 3429.8 L2139.3 3433.8 L2140 3437.9 L2140.6 3441.9 L2141.3 3446 L2142 3450.2 L2142.7 3454.3 L2143.4 3458.5 L2144.1 3462.7 L2144.8 3467 L2145.6 3471.2 L2146.3 3475.5 L2147 3479.8 L2147.8 3484 L2148.6 3488.3 L2149.3 3492.5 L2150.1 3496.8 L2150.9 3501 L2151.7 3505.3 L2152.5 3509.5 L2153.3 3513.6 L2154.2 3517.8 L2155 3521.9 L2155.8 3525.9 L2156.7 3529.9 L2157.5 3533.9 L2158.4 3537.9 L2159.3 3541.9 L2160.2 3545.9 L2161.1 3549.9 L2162 3554 L2163 3558 L2163.9 3562 L2164.9 3566.1 L2165.9 3570.1 L2166.8 3574.2 L2167.8 3578.2 L2168.8 3582.3 L2169.8 3586.3 L2170.8 3590.4 L2171.8 3594.4 L2172.8 3598.5 L2173.8 3602.5 L2174.8 3606.5 L2175.8 3610.5 L2176.8 3614.5 L2177.7 3618.5 L2178.7 3622.5 L2179.7 3626.5 L2180.7 3630.4 L2181.6 3634.4 L2182.6 3638.3 L2183.5 3642.2 L2184.5 3646.1 L2185.4 3650 L2186.4 3654.2 L2187.4 3658.5 L2188.4 3662.8 L2189.5 3667.2 L2190.6 3671.7 L2191.6 3676.2 L2192.7 3680.8 L2193.8 3685.3 L2194.9 3689.9 L2196 3694.5 L2197.1 3699 L2198.2 3703.6 L2199.2 3708 L2200.3 3712.5 L2201.3 3716.8 L2202.4 3721.1 L2203.4 3725.3 L2204.3 3729.4 L2205.3 3733.3 L2206.2 3737.2 L2207.1 3740.9 L2207.9 3744.5 L2208.7 3747.9 L2209.5 3751.1 L2210.2 3754.1 L2210.8 3757 L2211.4 3759.6 L2212 3762 L2213.5 3768.4 L2214.7 3774.2 L2215.6 3778.4 L2216 3780" fill="none" stroke="#ED7D31" stroke-width="7.4" stroke-linejoin="round" stroke-linecap="round" clip-path="url(#clipC)"/>
<path d="M373 2744.3 L373.4 2744.3 L374.6 2744.3 L376.4 2744.4 L378.9 2744.4 L381.9 2744.5 L385.5 2744.6 L389.5 2744.7 L393.9 2744.9 L398.6 2745 L403.6 2745.1 L408.8 2745.3 L414.2 2745.5 L419.7 2745.6 L425.3 2745.8 L430.8 2746 L436.2 2746.2 L441.6 2746.4 L446.7 2746.6 L451.6 2746.8 L456.1 2747 L460.3 2747.2 L464.1 2747.4 L467.4 2747.6 L472.3 2747.9 L476.8 2748.2 L481.1 2748.4 L485.1 2748.7 L488.9 2749.1 L492.6 2749.5 L496.2 2750.1 L499.8 2750.8 L503.9 2751.8 L508 2752.8 L511.9 2753.9 L515.6 2755.3 L519.2 2757 L522.5 2759 L525.7 2761.5 L528.6 2764.4 L531.4 2767.5 L534 2771 L536.4 2774.6 L538.8 2778.4 L540.8 2781.9 L542.6 2785.6 L544.3 2789.4 L545.9 2793.4 L547.5 2797.5 L548.9 2801.9 L550.4 2806.3 L551.8 2810.9 L552.8 2814.3 L553.7 2817.9 L554.6 2821.5 L555.4 2825.2 L556.2 2829 L556.9 2832.8 L557.7 2836.8 L558.4 2840.8 L559.1 2844.8 L559.9 2849 L560.7 2853.2 L561.5 2857.4 L562.4 2861.7 L563.3 2866 L564.1 2869.6 L564.9 2873.3 L565.8 2877 L566.6 2880.8 L567.5 2884.7 L568.4 2888.6 L569.3 2892.5 L570.2 2896.5 L571.1 2900.5 L572.1 2904.6 L573 2908.6 L574 2912.7 L575 2916.8 L576 2921 L576.9 2925.1 L577.9 2929.3 L578.9 2933.4 L579.9 2937.6 L580.9 2941.7 L581.9 2945.9 L582.9 2950 L583.8 2953.9 L584.8 2957.7 L585.7 2961.6 L586.7 2965.5 L587.7 2969.5 L588.7 2973.4 L589.7 2977.3 L590.7 2981.3 L591.7 2985.3 L592.7 2989.2 L593.7 2993.2 L594.7 2997.2 L595.7 3001.2 L596.7 3005.2 L597.8 3009.2 L598.8 3013.2 L599.8 3017.2 L600.8 3021.2 L601.8 3025.3 L602.8 3029.3 L603.8 3033.2 L604.8 3037.2 L605.7 3041.2 L606.7 3045.2 L607.7 3049.2 L608.6 3053.1 L609.5 3057.1 L610.5 3061.1 L611.4 3065 L612.4 3069 L613.3 3073 L614.2 3077 L615.1 3080.9 L616.1 3084.9 L617 3088.9 L617.9 3092.8 L618.8 3096.8 L619.7 3100.8 L620.6 3104.8 L621.6 3108.7 L622.5 3112.7 L623.4 3116.7 L624.3 3120.6 L625.2 3124.6 L626.1 3128.6 L627.1 3132.6 L628 3136.5 L628.9 3140.5 L629.8 3144.5 L630.8 3148.5 L631.7 3152.5 L632.7 3156.6 L633.6 3160.7 L634.6 3164.7 L635.5 3168.8 L636.5 3172.9 L637.4 3177 L638.4 3181.1 L639.3 3185.2 L640.3 3189.3 L641.2 3193.3 L642.2 3197.4 L643.1 3201.4 L644 3205.3 L645 3209.3 L645.9 3213.2 L646.8 3217.1 L647.7 3220.9 L648.5 3224.7 L649.4 3228.4 L650.3 3232.1 L651.1 3235.7 L652.1 3240.1 L653.1 3244.3 L654.1 3248.5 L655 3252.7 L656 3256.7 L656.9 3260.7 L657.8 3264.7 L658.8 3268.6 L659.7 3272.5 L660.6 3276.4 L661.5 3280.3 L662.4 3284.2 L663.3 3288.1 L664.2 3292 L665.1 3296 L666 3300 L666.9 3304.1 L667.8 3308.2 L668.8 3312.3 L669.7 3316.4 L670.6 3320.6 L671.5 3324.7 L672.4 3328.9 L673.3 3333 L674.2 3337.1 L675.1 3341.2 L676 3345.3 L676.9 3349.3 L677.9 3353.3 L678.8 3357.2 L679.7 3361.1 L680.6 3364.9 L681.7 3369.2 L682.7 3373.5 L683.7 3377.7 L684.8 3381.9 L685.8 3386 L686.8 3390 L687.9 3394 L689 3398 L690.1 3401.9 L691.2 3405.9 L692.3 3409.7 L693.5 3413.6 L694.8 3417.9 L696.2 3422.3 L697.6 3426.6 L699 3430.9 L700.5 3435.2 L702 3439.3 L703.5 3443.4 L705 3447.2 L706.6 3450.8 L708.2 3454.2 L710.6 3458.8 L712.9 3463.1 L715.4 3467 L718.1 3470.6 L721.1 3473.6 L724.7 3476.4 L728.4 3478.6 L732.6 3480.3 L737.4 3481.7 L741 3482.4 L745.2 3483 L749.7 3483.4 L754.4 3483.6 L759.2 3483.7 L763.9 3483.5 L768.4 3483.2 L772.4 3482.7 L775.9 3482 L780.1 3480.6 L783.8 3478.8 L787 3476.6 L790 3474 L793 3470.4 L795.5 3466.1 L797.8 3461.5 L800 3457 L802.2 3453 L804.2 3449 L806.1 3444.8 L808 3440 L809.1 3436.5 L810.2 3432.6 L811.3 3428.6 L812.3 3424.3 L813.2 3419.9 L814.2 3415.3 L815.1 3410.7 L816.1 3406.1 L817 3401.6 L817.8 3397.8 L818.6 3394.1 L819.3 3390.2 L820.1 3386.4 L820.8 3382.5 L821.6 3378.6 L822.3 3374.6 L823.1 3370.6 L823.8 3366.5 L824.5 3362.4 L825.3 3358.2 L826 3354 L826.6 3350.3 L827.3 3346.5 L827.9 3342.7 L828.5 3338.8 L829.1 3334.8 L829.7 3330.9 L830.3 3326.9 L830.9 3322.8 L831.5 3318.8 L832.1 3314.7 L832.7 3310.6 L833.4 3306.6 L834 3302.5 L834.7 3298.5 L835.3 3294.5 L836 3290.5 L836.7 3286.5 L837.4 3282.6 L838.1 3278.6 L838.8 3274.6 L839.6 3270.6 L840.3 3266.7 L841.1 3262.7 L841.8 3258.7 L842.6 3254.8 L843.3 3250.8 L844.1 3246.8 L844.9 3242.9 L845.7 3238.9 L846.4 3234.9 L847.2 3231 L848 3227 L848.8 3223 L849.6 3219.1 L850.4 3215.1 L851.2 3211.1 L852 3207.1 L852.8 3203.2 L853.6 3199.2 L854.4 3195.2 L855.3 3191.3 L856.1 3187.3 L856.9 3183.3 L857.7 3179.4 L858.5 3175.4 L859.4 3171.4 L860.2 3167.5 L861 3163.5 L861.8 3159.5 L862.6 3155.6 L863.4 3151.6 L864.3 3147.6 L865.1 3143.7 L865.9 3139.7 L866.7 3135.8 L867.5 3131.8 L868.4 3127.8 L869.2 3123.9 L870 3119.9 L870.8 3115.9 L871.6 3112 L872.4 3108 L873.2 3104 L874 3100 L874.8 3096 L875.6 3091.9 L876.4 3087.9 L877.1 3083.8 L877.9 3079.7 L878.7 3075.7 L879.5 3071.6 L880.2 3067.5 L881 3063.5 L881.8 3059.4 L882.5 3055.3 L883.3 3051.3 L884.1 3047.2 L884.9 3043.1 L885.7 3039.1 L886.5 3035 L887.3 3030.9 L888.1 3026.8 L888.9 3022.6 L889.7 3018.4 L890.5 3014.1 L891.4 3009.9 L892.2 3005.7 L893 3001.5 L893.8 2997.3 L894.7 2993.2 L895.5 2989.1 L896.4 2985.1 L897.3 2981.2 L898.2 2977.3 L899.1 2973.6 L900 2970 L901.2 2965.6 L902.4 2961.3 L903.6 2957.1 L904.8 2953.1 L906.1 2949.1 L907.4 2945.2 L908.7 2941.4 L910.1 2937.6 L911.5 2933.8 L913 2930 L914.7 2926 L916.5 2922 L918.3 2918 L920.2 2914.1 L922.1 2910.2 L924.1 2906.4 L926.1 2902.6 L928 2898.8 L930 2895 L931.9 2891.3 L933.8 2887.7 L935.6 2884.1 L937.5 2880.4 L939.4 2876.9 L941.4 2873.3 L943.4 2869.8 L945.4 2866.3 L947.4 2862.8 L949.7 2859.1 L951.9 2855.4 L954.2 2851.8 L956.5 2848.2 L958.9 2844.7 L961.4 2841 L964 2837.4 L966.8 2833.6 L969.1 2830.4 L971.6 2827.2 L974.1 2823.8 L976.7 2820.3 L979.4 2816.8 L982.1 2813.3 L984.9 2809.9 L987.7 2806.5 L990.6 2803.3 L993.5 2800.2 L996.4 2797.3 L999.3 2794.7 L1002.7 2791.9 L1006.1 2789.3 L1009.5 2787 L1013 2784.7 L1016.6 2782.6 L1020.2 2780.7 L1024 2778.8 L1027.8 2777 L1031.8 2775.2 L1035.5 2773.6 L1039.3 2772.2 L1043.2 2770.8 L1047.2 2769.5 L1051.3 2768.2 L1055.4 2767 L1059.6 2765.9 L1063.9 2764.9 L1068.3 2763.9 L1072.7 2763 L1077.2 2762.2 L1080.9 2761.6 L1084.7 2761 L1088.6 2760.4 L1092.5 2760 L1096.6 2759.5 L1100.6 2759.1 L1104.7 2758.8 L1108.9 2758.4 L1113 2758.2 L1117.2 2757.9 L1121.4 2757.7 L1125.6 2757.6 L1129.8 2757.5 L1133.9 2757.4 L1138 2757.3 L1142.1 2757.3 L1146.2 2757.3 L1150.2 2757.4 L1154.3 2757.6 L1158.4 2757.8 L1162.5 2758 L1166.6 2758.3 L1170.7 2758.7 L1174.8 2759 L1178.8 2759.4 L1182.9 2759.8 L1187 2760.2 L1191 2760.6 L1195 2761 L1199.1 2761.4 L1203 2761.8 L1207 2762.2 L1211.4 2762.6 L1215.8 2763 L1220.4 2763.5 L1225 2763.9 L1229.6 2764.4 L1234.2 2764.9 L1238.7 2765.4 L1243.1 2765.9 L1247.4 2766.3 L1251.5 2766.8 L1255.4 2767.3 L1259.1 2767.8 L1262.5 2768.2 L1265.5 2768.7 L1270.2 2769.4 L1274.1 2770 L1277.8 2770.7 L1281.7 2771.9 L1285.3 2773.4 L1289 2775.4 L1292.7 2777.6 L1296.5 2779.8 L1300.4 2781.8 L1304.4 2783.3 L1308.4 2784.2 L1312.5 2784.8 L1316.6 2785 L1320.8 2785.3 L1325.3 2785.7 L1330 2786.5 L1333.6 2787.3 L1337.4 2788.3 L1341.3 2789.5 L1345.5 2790.8 L1349.7 2792.1 L1354 2793.5 L1358.3 2794.9 L1362.6 2796.3 L1366.8 2797.7 L1371 2798.9 L1374.9 2800.1 L1378.7 2801.1 L1383 2802.2 L1387.2 2803.4 L1391.3 2804.6 L1395.3 2805.6 L1399.2 2806.5 L1403.2 2807.2 L1407.1 2807.6 L1411.1 2807.6 L1415.1 2807.2 L1419.1 2806.4 L1423 2805.3 L1427 2804 L1431 2802.5 L1435 2800.9 L1439.2 2799.4 L1443.6 2797.9 L1447.3 2796.7 L1451.2 2795.3 L1455.2 2793.8 L1459.3 2792.3 L1463.4 2790.7 L1467.6 2789.1 L1471.8 2787.6 L1476 2786.1 L1480.2 2784.8 L1484.3 2783.6 L1488.4 2782.5 L1492.3 2781.7 L1496.8 2781 L1501.2 2780.4 L1505.6 2780.1 L1510 2779.8 L1514.3 2779.7 L1518.6 2779.7 L1522.9 2779.8 L1527.1 2779.9 L1531.2 2780 L1535.4 2780.1 L1539.7 2780.2 L1543.8 2780.4 L1548 2780.6 L1552 2781 L1556 2781.5 L1559.9 2782.3 L1563.7 2783.3 L1567.7 2784.7 L1571.7 2786.4 L1575.6 2788.2 L1579.3 2790.3 L1582.9 2792.7 L1586.4 2795.2 L1589.7 2797.9 L1592.6 2800.6 L1595.3 2803.4 L1597.9 2806.5 L1600.4 2809.7 L1602.7 2813.1 L1605 2816.6 L1607.1 2820.2 L1609.1 2823.9 L1610.8 2827.3 L1612.3 2830.8 L1613.8 2834.4 L1615.1 2838.2 L1616.3 2842 L1617.5 2845.9 L1618.7 2849.9 L1619.8 2854.1 L1620.9 2858.4 L1622.1 2862.8 L1623 2866.3 L1623.8 2869.9 L1624.7 2873.6 L1625.5 2877.4 L1626.3 2881.3 L1627 2885.3 L1627.8 2889.3 L1628.5 2893.4 L1629.3 2897.5 L1630 2901.7 L1630.7 2905.9 L1631.5 2910.1 L1632.2 2914.3 L1632.9 2918.5 L1633.6 2922.7 L1634.4 2926.9 L1635.1 2931 L1635.8 2935 L1636.6 2939.1 L1637.3 2943.1 L1638.1 2947.1 L1638.8 2951.1 L1639.5 2955.1 L1640.3 2959.2 L1641 2963.2 L1641.7 2967.3 L1642.5 2971.4 L1643.2 2975.5 L1643.9 2979.7 L1644.6 2983.9 L1645.3 2988.1 L1646 2992.4 L1646.7 2996.7 L1647.4 3001.1 L1648.1 3005.6 L1648.6 3009.3 L1649.2 3013.1 L1649.7 3016.9 L1650.3 3020.8 L1650.8 3024.8 L1651.3 3028.8 L1651.9 3032.8 L1652.4 3036.9 L1652.9 3041 L1653.4 3045.2 L1653.9 3049.3 L1654.4 3053.5 L1655 3057.7 L1655.5 3061.8 L1655.9 3066 L1656.4 3070.1 L1656.9 3074.3 L1657.4 3078.4 L1657.9 3082.5 L1658.4 3086.5 L1658.8 3090.5 L1659.3 3094.4 L1659.8 3098.3 L1660.2 3102.1 L1660.7 3105.8 L1661.1 3109.5 L1661.6 3114.3 L1662.1 3119.4 L1662.6 3124.7 L1663.1 3130.2 L1663.5 3135.8 L1664 3141.4 L1664.4 3146.9 L1664.8 3152.3 L1665.2 3157.4 L1665.7 3162.2 L1666.1 3166.7 L1666.6 3170.7 L1667.1 3174.1 L1667.7 3177 L1668.2 3179.1 L1668.8 3180.5 L1669.5 3181 L1670.7 3180.1 L1672 3177.5 L1673.4 3173.6 L1674.8 3168.8 L1676.1 3163.5 L1677.3 3158.2 L1677.9 3155.5 L1678.4 3152.5 L1678.9 3149.3 L1679.3 3145.9 L1679.8 3142.4 L1680.2 3138.7 L1680.6 3134.8 L1681 3130.8 L1681.4 3126.7 L1681.7 3122.5 L1682.1 3118.2 L1682.4 3113.8 L1682.8 3109.3 L1683.1 3104.9 L1683.5 3100.3 L1683.8 3095.8 L1684.2 3091.3 L1684.5 3086.7 L1684.9 3082.3 L1685.3 3077.8 L1685.7 3073.4 L1686.1 3069.1 L1686.5 3064.9 L1687 3060.8 L1687.5 3056.7 L1687.9 3052.6 L1688.4 3048.4 L1688.8 3044.1 L1689.2 3039.9 L1689.6 3035.6 L1690.1 3031.3 L1690.5 3027 L1690.9 3022.7 L1691.4 3018.4 L1691.8 3014.1 L1692.3 3009.9 L1692.8 3005.6 L1693.3 3001.5 L1693.8 2997.3 L1694.4 2993.2 L1695 2989.2 L1695.6 2985.2 L1696.2 2981.4 L1696.9 2977.6 L1697.6 2973.9 L1698.4 2970.3 L1699.2 2966.8 L1700 2963.4 L1701.2 2959 L1702.4 2954.7 L1703.7 2950.5 L1705 2946.4 L1706.3 2942.5 L1707.8 2938.6 L1709.2 2934.9 L1710.7 2931.3 L1712.3 2927.8 L1714 2924.3 L1715.8 2921 L1717.6 2917.8 L1719.5 2914.7 L1722.1 2910.9 L1724.9 2907.1 L1727.8 2903.4 L1730.9 2899.9 L1734 2896.5 L1737.1 2893.5 L1740.1 2890.9 L1742.9 2888.8 L1745.4 2887.2 L1750.4 2885.4 L1755.2 2885.5 L1759.3 2887.6 L1763.5 2890.9 L1768.2 2893.6 L1772.4 2894.6 L1777.2 2895.3 L1782.2 2895.6 L1786.9 2895.6 L1790.9 2895.3 L1795.6 2893.5 L1800 2892.4 L1803.7 2894.1 L1807.5 2897.4 L1811.8 2900.7 L1816.9 2902.6 L1819.9 2902.6 L1823.4 2901.9 L1827.2 2900.7 L1831.3 2899.1 L1835.6 2897.3 L1840 2895.2 L1844.5 2893.1 L1848.9 2891.1 L1853.2 2889.2 L1857.3 2887.6 L1861.1 2886.4 L1864.6 2885.7 L1867.6 2885.7 L1872.7 2887.7 L1877.1 2891.4 L1881 2894.7 L1884.5 2895.8 L1887.2 2893.8 L1889.5 2890 L1891.8 2885.7 L1894.7 2882.3 L1898.3 2880 L1902.6 2877.9 L1907.1 2876.3 L1911.4 2875.4 L1915 2875.5 L1918.9 2877.4 L1922.2 2881 L1925 2885.7 L1926.1 2888.6 L1927.1 2892.5 L1927.8 2897.1 L1928.5 2902.1 L1929.1 2907.4 L1929.6 2912.8 L1930.1 2917.9 L1930.6 2922.7 L1931.1 2926.8 L1931.8 2930 L1932.6 2932.2 L1933.5 2933 L1934.9 2931.7 L1936.3 2928 L1937.8 2922.9 L1939.4 2917.2 L1941.2 2911.9 L1943.2 2907.8 L1945.4 2906 L1948 2906.4 L1951 2908.2 L1954.2 2911.1 L1957.5 2914.7 L1960.6 2918.7 L1963.4 2922.6 L1965.7 2926.2 L1967.4 2930.3 L1968.4 2935 L1969.1 2939.9 L1969.8 2944.4 L1970.8 2947.9 L1972.4 2949.9 L1977.4 2948.1 L1982.6 2946.5 L1983.9 2948 L1985 2950.6 L1985.9 2954.2 L1986.6 2958.4 L1987.2 2963.2 L1987.8 2968.3 L1988.3 2973.5 L1988.9 2978.6 L1989.6 2983.4 L1990.4 2987.7 L1991.4 2991.2 L1992.7 2993.8 L1995.9 2996.5 L1999.6 2997.9 L2002.8 3000.6 L2004.1 3003.3 L2005.3 3007 L2006.3 3011.5 L2007.2 3016.6 L2008.1 3021.9 L2008.8 3027.4 L2009.5 3032.7 L2010.2 3037.5 L2010.9 3041.7 L2011.5 3045 L2012.2 3047.1 L2013 3047.9 L2013.7 3047.4 L2014.3 3045.9 L2014.9 3043.5 L2015.5 3040.5 L2016.1 3036.7 L2016.6 3032.5 L2017.2 3027.8 L2017.7 3022.8 L2018.3 3017.6 L2018.9 3012.2 L2019.5 3006.9 L2020.1 3001.6 L2020.8 2996.6 L2021.5 2991.9 L2022.3 2987.5 L2023.1 2983.7 L2024.2 2978.9 L2025.4 2973.7 L2026.6 2968.4 L2027.8 2963.1 L2029.1 2958.1 L2030.5 2953.4 L2031.9 2949.4 L2033.4 2946.2 L2035 2944.1 L2036.6 2943.1 L2039.2 2943.9 L2042 2946.6 L2044.8 2950.7 L2047.6 2955.4 L2050.2 2960 L2051.8 2963.2 L2053.3 2966.7 L2054.8 2970.5 L2056.1 2974.4 L2057.4 2978.6 L2058.7 2982.8 L2059.9 2987.1 L2061.2 2991.5 L2062.5 2995.8 L2063.8 3000 L2065 3003.8 L2066.2 3007.6 L2067.4 3011.4 L2068.7 3015.3 L2069.9 3019.1 L2071.1 3023.1 L2072.3 3027 L2073.5 3031 L2074.7 3035.1 L2075.8 3039.2 L2077 3043.4 L2078.1 3047.6 L2079.1 3051.3 L2080 3055.1 L2080.9 3059 L2081.9 3063 L2082.8 3067 L2083.7 3071.1 L2084.6 3075.2 L2085.5 3079.3 L2086.4 3083.4 L2087.3 3087.5 L2088.1 3091.6 L2089 3095.6 L2089.8 3099.6 L2090.7 3103.5 L2091.6 3107.4 L2092.4 3111.1 L2093.4 3115.3 L2094.3 3119.4 L2095.3 3123.5 L2096.2 3127.5 L2097.1 3131.4 L2098 3135.3 L2098.9 3139.2 L2099.8 3143.1 L2100.8 3147 L2101.7 3150.8 L2102.6 3154.8 L2103.5 3158.7 L2104.4 3162.7 L2105.4 3166.6 L2106.3 3170.6 L2107.2 3174.6 L2108.1 3178.5 L2109.1 3182.5 L2110 3186.5 L2110.9 3190.4 L2111.8 3194.4 L2112.8 3198.4 L2113.7 3202.3 L2114.6 3206.3 L2115.5 3210.3 L2116.5 3214.2 L2117.4 3218.1 L2118.3 3221.9 L2119.3 3225.8 L2120.2 3229.7 L2121.2 3233.6 L2122.1 3237.6 L2123 3241.6 L2123.9 3245.6 L2124.8 3249.8 L2125.7 3254 L2126.4 3257.7 L2127.2 3261.4 L2127.9 3265.2 L2128.6 3269 L2129.3 3272.9 L2130 3276.8 L2130.7 3280.7 L2131.4 3284.6 L2132 3288.6 L2132.7 3292.7 L2133.4 3296.7 L2134.1 3300.8 L2134.7 3304.9 L2135.4 3309.1 L2136.1 3313.3 L2136.8 3317.5 L2137.4 3321.4 L2138.1 3325.5 L2138.7 3329.7 L2139.4 3334 L2140.1 3338.3 L2140.7 3342.7 L2141.4 3347.2 L2142.1 3351.7 L2142.8 3356.2 L2143.4 3360.6 L2144.1 3365.1 L2144.7 3369.4 L2145.4 3373.7 L2146 3377.9 L2146.6 3382 L2147.2 3385.9 L2147.8 3389.7 L2148.4 3393.4 L2149 3396.8 L2149.5 3400 L2150.3 3405 L2151.1 3409.3 L2151.7 3413.3 L2152.4 3417.2 L2153.1 3421.1 L2154 3425.3 L2155 3430 L2155.8 3433.4 L2156.6 3437 L2157.5 3440.7 L2158.5 3444.6 L2159.5 3448.6 L2160.6 3452.7 L2161.7 3456.9 L2162.8 3461.1 L2164 3465.4 L2165.1 3469.7 L2166.3 3474 L2167.5 3478.3 L2168.6 3482.6 L2169.8 3486.8 L2170.9 3491 L2172 3495 L2173.1 3499.1 L2174.2 3503.2 L2175.4 3507.2 L2176.5 3511.3 L2177.7 3515.3 L2178.8 3519.3 L2180 3523.3 L2181.1 3527.3 L2182.3 3531.3 L2183.4 3535.4 L2184.5 3539.4 L2185.6 3543.4 L2186.7 3547.5 L2187.8 3551.6 L2188.8 3555.7 L2189.8 3559.7 L2190.7 3563.8 L2191.6 3567.9 L2192.5 3572 L2193.3 3576.1 L2194.2 3580.2 L2195 3584.4 L2195.8 3588.6 L2196.7 3592.7 L2197.5 3596.8 L2198.3 3600.9 L2199.2 3605 L2200.1 3609.1 L2201 3613.1 L2202 3617 L2203 3620.9 L2204.1 3624.9 L2205.2 3629 L2206.4 3632.9 L2207.5 3636.9 L2208.7 3640.8 L2210 3644.6 L2211.2 3648.5 L2212.4 3652.3 L2213.7 3656.1 L2214.9 3659.9 L2216.2 3663.7 L2217.5 3667.5 L2218.7 3671.2 L2220 3675 L2221.4 3679.1 L2223 3683.7 L2224.7 3688.6 L2226.4 3693.6 L2228.2 3698.6 L2230 3703.6 L2231.7 3708.3 L2233.3 3712.6 L2234.6 3716.5 L2235.8 3719.7 L2236.7 3722.1 L2237.3 3723.7 L2237.5 3724.3" fill="none" stroke="#A5A5A5" stroke-width="7.4" stroke-linejoin="round" stroke-linecap="round" clip-path="url(#clipC)"/>
<text transform="translate(815 682.4) rotate(-90)" font-size="68" fill="#000" textLength="145.6" lengthAdjust="spacingAndGlyphs">3625</text>
<text transform="translate(963 435.1) rotate(-90)" font-size="68" fill="#000" textLength="140.9" lengthAdjust="spacingAndGlyphs">2930</text>
<text transform="translate(1029.5 381.9) rotate(-90)" font-size="68" fill="#000" textLength="142" lengthAdjust="spacingAndGlyphs">2854</text>
<text transform="translate(1694.5 587.6) rotate(-90)" font-size="68" fill="#000" textLength="140.4" lengthAdjust="spacingAndGlyphs">1630</text>
<text transform="translate(1808 443.1) rotate(-90)" font-size="68" fill="#000" textLength="142.7" lengthAdjust="spacingAndGlyphs">1376</text>
<text transform="translate(2028.5 782) rotate(-90)" font-size="68" fill="#000" textLength="143.2" lengthAdjust="spacingAndGlyphs">1005</text>
<text transform="translate(950.3 1774.3) rotate(-90)" font-size="68" fill="#000" textLength="139.2" lengthAdjust="spacingAndGlyphs">2930</text>
<text transform="translate(1016.8 1738.6) rotate(-90)" font-size="68" fill="#000" textLength="140.2" lengthAdjust="spacingAndGlyphs">2854</text>
<text transform="translate(1675.3 1785.8) rotate(-90)" font-size="68" fill="#000" textLength="152.6" lengthAdjust="spacingAndGlyphs">1630</text>
<text transform="translate(1823.5 1841.8) rotate(-90)" font-size="68" fill="#000" textLength="141.9" lengthAdjust="spacingAndGlyphs">1376</text>
<text transform="translate(2031 2392) rotate(-90)" font-size="68" fill="#000" textLength="140" lengthAdjust="spacingAndGlyphs">1005</text>
<text transform="translate(779 3718) rotate(-90)" font-size="68" fill="#000" textLength="140.5" lengthAdjust="spacingAndGlyphs">3265</text>
<text transform="translate(995 3033.7) rotate(-90)" font-size="68" fill="#000" textLength="139.1" lengthAdjust="spacingAndGlyphs">2930</text>
<text transform="translate(1848 3118.8) rotate(-90)" font-size="68" fill="#000" textLength="139.9" lengthAdjust="spacingAndGlyphs">1376</text>
<text transform="translate(1699 3378.9) rotate(-90)" font-size="68" fill="#000" textLength="141.7" lengthAdjust="spacingAndGlyphs">1630</text>
<text transform="translate(2042.5 3589.6) rotate(-90)" font-size="68" fill="#000" textLength="143.5" lengthAdjust="spacingAndGlyphs">1005</text>
<text x="2144.8" y="182" font-size="81.5" fill="#595959" font-weight="bold" textLength="49.9" lengthAdjust="spacingAndGlyphs">A</text>
<text x="2154.6" y="1515" font-size="81.5" fill="#595959" font-weight="bold" textLength="46.3" lengthAdjust="spacingAndGlyphs">B</text>
<text x="2172.9" y="2857.6" font-size="81.5" fill="#595959" font-weight="bold" textLength="41.9" lengthAdjust="spacingAndGlyphs">C</text>
<text x="985.2" y="1292.2" font-size="82" fill="#595959" textLength="632.1" lengthAdjust="spacingAndGlyphs">Wavenumber (cm</text>
<text x="1617.3" y="1265.7" font-size="53.3" fill="#595959" textLength="46.2" lengthAdjust="spacingAndGlyphs">-1</text>
<text x="1663.5" y="1292.2" font-size="82" fill="#595959" textLength="26.5" lengthAdjust="spacingAndGlyphs">)</text>
<text x="955.5" y="2637.5" font-size="82" fill="#595959" textLength="635.8" lengthAdjust="spacingAndGlyphs">Wavenumber (cm</text>
<text x="1591.3" y="2611" font-size="53.3" fill="#595959" textLength="46.5" lengthAdjust="spacingAndGlyphs">-1</text>
<text x="1637.8" y="2637.5" font-size="82" fill="#595959" textLength="26.7" lengthAdjust="spacingAndGlyphs">)</text>
<text x="988.8" y="4002.2" font-size="82" fill="#595959" textLength="620.4" lengthAdjust="spacingAndGlyphs">Wavenumber (cm</text>
<text x="1609.2" y="3975.7" font-size="53.3" fill="#595959" textLength="45.4" lengthAdjust="spacingAndGlyphs">-1</text>
<text x="1654.6" y="4002.2" font-size="82" fill="#595959" textLength="26" lengthAdjust="spacingAndGlyphs">)</text>
<text transform="translate(136 639.3) rotate(-90)" font-size="82" fill="#595959" textLength="187.2" lengthAdjust="spacingAndGlyphs">T (%)</text>
<text transform="translate(100.4 1976.6) rotate(-90)" font-size="82" fill="#595959" textLength="178.9" lengthAdjust="spacingAndGlyphs">T (%)</text>
<text transform="translate(135.4 3317.7) rotate(-90)" font-size="82" fill="#595959" textLength="177.7" lengthAdjust="spacingAndGlyphs">T (%)</text>
<line x1="951" y1="677.9" x2="1073" y2="677.9" stroke="#4472C4" stroke-width="7.2" stroke-linecap="round"/>
<text x="1091" y="703.9" font-size="87" fill="#595959" textLength="427.8" lengthAdjust="spacingAndGlyphs">white bread</text>
<line x1="951" y1="819.8" x2="1073" y2="819.8" stroke="#ED7D31" stroke-width="7.2" stroke-linecap="round"/>
<text x="1090" y="845.5" font-size="87" fill="#595959" textLength="394.2" lengthAdjust="spacingAndGlyphs">wholemeal</text>
<line x1="951" y1="964.3" x2="1073" y2="964.3" stroke="#A5A5A5" stroke-width="7.2" stroke-linecap="round"/>
<text x="1086.6" y="989.8" font-size="87" fill="#595959" textLength="365.8" lengthAdjust="spacingAndGlyphs">multigrain</text>
<line x1="519.6" y1="2280.1" x2="641.3" y2="2280.1" stroke="#4472C4" stroke-width="7.2" stroke-linecap="round"/>
<text x="655.7" y="2306.1" font-size="87" fill="#595959" textLength="264.6" lengthAdjust="spacingAndGlyphs">CQD T1</text>
<line x1="984.8" y1="2280.1" x2="1106.6" y2="2280.1" stroke="#ED7D31" stroke-width="7.2" stroke-linecap="round"/>
<text x="1121.8" y="2306.1" font-size="87" fill="#595959" textLength="264.9" lengthAdjust="spacingAndGlyphs">CQD T2</text>
<line x1="1453.3" y1="2280.1" x2="1573.2" y2="2280.1" stroke="#A5A5A5" stroke-width="7.2" stroke-linecap="round"/>
<text x="1587.5" y="2306.1" font-size="87" fill="#595959" textLength="266.3" lengthAdjust="spacingAndGlyphs">CQD T3</text>
<line x1="858.8" y1="3672.9" x2="979.2" y2="3672.9" stroke="#4472C4" stroke-width="7.2" stroke-linecap="round"/>
<text x="993" y="3700" font-size="87" fill="#595959" textLength="274.6" lengthAdjust="spacingAndGlyphs">CQD H1</text>
<line x1="1286.5" y1="3672.9" x2="1403.2" y2="3672.9" stroke="#ED7D31" stroke-width="7.2" stroke-linecap="round"/>
<text x="1419.2" y="3700" font-size="87" fill="#595959" textLength="272.3" lengthAdjust="spacingAndGlyphs">CQD H2</text>
<line x1="1714" y1="3673.6" x2="1830.9" y2="3673.6" stroke="#A5A5A5" stroke-width="7.2" stroke-linecap="round"/>
<text x="1846.1" y="3700" font-size="87" fill="#595959" textLength="273.9" lengthAdjust="spacingAndGlyphs">CQD H3</text>
</svg>
</body></html>
